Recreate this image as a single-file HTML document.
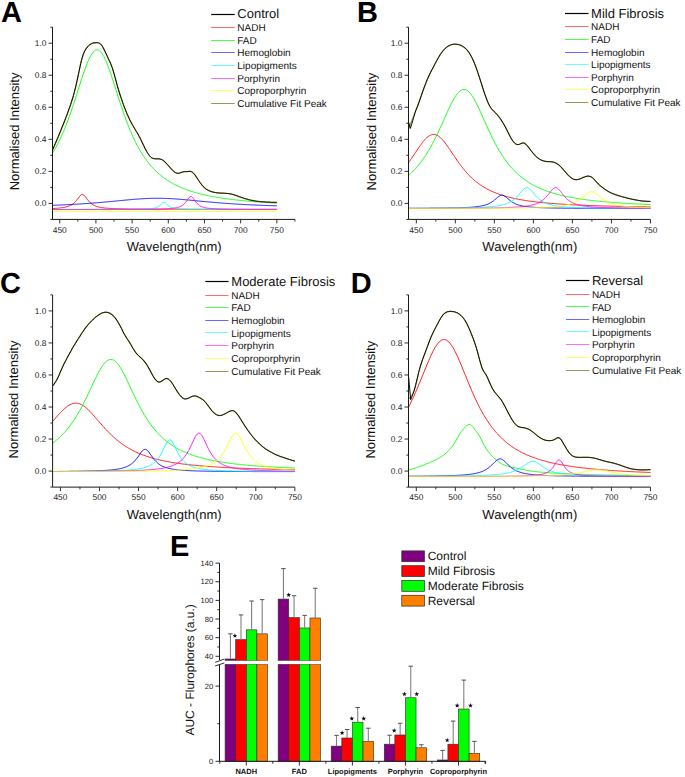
<!DOCTYPE html>
<html><head><meta charset="utf-8"><style>html,body{margin:0;padding:0;background:#fff;}svg{display:block;}</style></head>
<body>
<svg width="685" height="777" viewBox="0 0 685 777" text-rendering="geometricPrecision" font-family='"Liberation Sans", sans-serif'>
<rect width="685" height="777" fill="#fff"/>
<path d="M52.5,208.5 L53.2,208.5 L53.9,208.5 L54.7,208.4 L55.4,208.4 L56.1,208.3 L56.8,208.3 L57.6,208.2 L58.3,208.1 L59.0,208.1 L59.7,208.0 L60.5,207.9 L61.2,207.8 L61.9,207.7 L62.6,207.6 L63.4,207.5 L64.1,207.4 L64.8,207.2 L65.5,207.1 L66.3,206.9 L67.0,206.7 L67.7,206.5 L68.4,206.2 L69.1,206.0 L69.9,205.7 L70.6,205.3 L71.3,205.0 L72.0,204.5 L72.8,204.0 L73.5,203.5 L74.2,202.9 L74.9,202.2 L75.7,201.4 L76.4,200.6 L77.1,199.7 L77.8,198.7 L78.6,197.7 L79.3,196.7 L80.0,195.9 L80.7,195.1 L81.4,194.6 L82.2,194.4 L82.9,194.5 L83.6,194.9 L84.3,195.6 L85.1,196.4 L85.8,197.3 L86.5,198.3 L87.2,199.3 L88.0,200.2 L88.7,201.1 L89.4,201.9 L90.1,202.6 L90.9,203.2 L91.6,203.8 L92.3,204.3 L93.0,204.8 L93.8,205.2 L94.5,205.5 L95.2,205.9 L95.9,206.1 L96.6,206.4 L97.4,206.6 L98.1,206.8 L98.8,207.0 L99.5,207.2 L100.3,207.3 L101.0,207.4 L101.7,207.6 L102.4,207.7 L103.2,207.8 L103.9,207.9 L104.6,208.0 L105.3,208.0 L106.1,208.1 L106.8,208.2 L107.5,208.2 L108.2,208.3 L108.9,208.3 L109.7,208.4 L110.4,208.4 L111.1,208.5 L111.8,208.5 L112.6,208.6 L113.3,208.6 L114.0,208.6 L114.7,208.6 L115.5,208.7 L116.2,208.7 L116.9,208.7 L117.6,208.7 L118.4,208.8 L119.1,208.8 L119.8,208.8 L120.5,208.8 L121.3,208.8 L122.0,208.9 L122.7,208.9 L123.4,208.9 L124.1,208.9 L124.9,208.9 L125.6,208.9 L126.3,209.0 L127.0,209.0 L127.8,209.0 L128.5,209.0 L129.2,209.0 L129.9,209.0 L130.7,209.0 L131.4,209.0 L132.1,209.0 L132.8,209.0 L133.6,209.0 L134.3,209.1 L135.0,209.1 L135.7,209.1 L136.4,209.1 L137.2,209.1 L137.9,209.1 L138.6,209.1 L139.3,209.1 L140.1,209.1 L140.8,209.1 L141.5,209.1 L142.2,209.1 L143.0,209.1 L143.7,209.1 L144.4,209.1 L145.1,209.1 L145.9,209.1 L146.6,209.1 L147.3,209.2 L148.0,209.2 L148.8,209.2 L149.5,209.2 L150.2,209.2 L150.9,209.2 L151.6,209.2 L152.4,209.2 L153.1,209.2 L153.8,209.2 L154.5,209.2 L155.3,209.2 L156.0,209.2 L156.7,209.2 L157.4,209.2 L158.2,209.2 L158.9,209.2 L159.6,209.2 L160.3,209.2 L161.1,209.2 L161.8,209.2 L162.5,209.2 L163.2,209.2 L163.9,209.2 L164.7,209.2 L165.4,209.2 L166.1,209.2 L166.8,209.2 L167.6,209.2 L168.3,209.2 L169.0,209.2 L169.7,209.2 L170.5,209.2 L171.2,209.2 L171.9,209.2 L172.6,209.2 L173.4,209.2 L174.1,209.2 L174.8,209.2 L175.5,209.2 L176.3,209.2 L177.0,209.2 L177.7,209.2 L178.4,209.2 L179.1,209.2 L179.9,209.2 L180.6,209.3 L181.3,209.3 L182.0,209.3 L182.8,209.3 L183.5,209.3 L184.2,209.3 L184.9,209.3 L185.7,209.3 L186.4,209.3 L187.1,209.3 L187.8,209.3 L188.6,209.3 L189.3,209.3 L190.0,209.3 L190.7,209.3 L191.5,209.3 L192.2,209.3 L192.9,209.3 L193.6,209.3 L194.3,209.3 L195.1,209.3 L195.8,209.3 L196.5,209.3 L197.2,209.3 L198.0,209.3 L198.7,209.3 L199.4,209.3 L200.1,209.3 L200.9,209.3 L201.6,209.3 L202.3,209.3 L203.0,209.3 L203.8,209.3 L204.5,209.3 L205.2,209.3 L205.9,209.3 L206.6,209.3 L207.4,209.3 L208.1,209.3 L208.8,209.3 L209.5,209.3 L210.3,209.3 L211.0,209.3 L211.7,209.3 L212.4,209.3 L213.2,209.3 L213.9,209.3 L214.6,209.3 L215.3,209.3 L216.1,209.3 L216.8,209.3 L217.5,209.3 L218.2,209.3 L219.0,209.3 L219.7,209.3 L220.4,209.3 L221.1,209.3 L221.8,209.3 L222.6,209.3 L223.3,209.3 L224.0,209.3 L224.7,209.3 L225.5,209.3 L226.2,209.3 L226.9,209.3 L227.6,209.3 L228.4,209.3 L229.1,209.3 L229.8,209.3 L230.5,209.3 L231.3,209.3 L232.0,209.3 L232.7,209.3 L233.4,209.3 L234.1,209.3 L234.9,209.3 L235.6,209.3 L236.3,209.3 L237.0,209.3 L237.8,209.3 L238.5,209.3 L239.2,209.3 L239.9,209.3 L240.7,209.3 L241.4,209.3 L242.1,209.3 L242.8,209.3 L243.6,209.3 L244.3,209.3 L245.0,209.3 L245.7,209.3 L246.5,209.3 L247.2,209.3 L247.9,209.3 L248.6,209.3 L249.3,209.3 L250.1,209.3 L250.8,209.3 L251.5,209.3 L252.2,209.3 L253.0,209.3 L253.7,209.3 L254.4,209.3 L255.1,209.3 L255.9,209.3 L256.6,209.3 L257.3,209.3 L258.0,209.3 L258.8,209.3 L259.5,209.3 L260.2,209.3 L260.9,209.3 L261.6,209.3 L262.4,209.3 L263.1,209.3 L263.8,209.3 L264.5,209.3 L265.3,209.3 L266.0,209.3 L266.7,209.3 L267.4,209.3 L268.2,209.3 L268.9,209.3 L269.6,209.3 L270.3,209.3 L271.1,209.3 L271.8,209.3 L272.5,209.3 L273.2,209.3 L274.0,209.3 L274.7,209.3 L275.4,209.3 L276.1,209.3 L276.8,209.3" fill="none" stroke="#ff0000" stroke-width="0.9"/>
<path d="M52.5,153.1 L53.2,151.9 L53.9,150.7 L54.7,149.5 L55.4,148.2 L56.1,146.9 L56.8,145.6 L57.6,144.2 L58.3,142.8 L59.0,141.3 L59.7,139.8 L60.5,138.3 L61.2,136.7 L61.9,135.1 L62.6,133.5 L63.4,131.8 L64.1,130.1 L64.8,128.4 L65.5,126.6 L66.3,124.7 L67.0,122.9 L67.7,121.0 L68.4,119.0 L69.1,117.0 L69.9,115.0 L70.6,112.9 L71.3,110.9 L72.0,108.7 L72.8,106.6 L73.5,104.4 L74.2,102.2 L74.9,100.0 L75.7,97.7 L76.4,95.5 L77.1,93.2 L77.8,90.9 L78.6,88.6 L79.3,86.3 L80.0,84.1 L80.7,81.8 L81.4,79.6 L82.2,77.4 L82.9,75.2 L83.6,73.0 L84.3,70.9 L85.1,68.9 L85.8,66.9 L86.5,65.0 L87.2,63.2 L88.0,61.4 L88.7,59.8 L89.4,58.2 L90.1,56.8 L90.9,55.5 L91.6,54.3 L92.3,53.3 L93.0,52.3 L93.8,51.6 L94.5,50.9 L95.2,50.5 L95.9,50.1 L96.6,50.0 L97.4,49.9 L98.1,50.1 L98.8,50.4 L99.5,50.8 L100.3,51.4 L101.0,52.2 L101.7,53.1 L102.4,54.1 L103.2,55.3 L103.9,56.5 L104.6,58.0 L105.3,59.5 L106.1,61.1 L106.8,62.8 L107.5,64.6 L108.2,66.5 L108.9,68.5 L109.7,70.5 L110.4,72.6 L111.1,74.7 L111.8,76.9 L112.6,79.1 L113.3,81.4 L114.0,83.6 L114.7,85.9 L115.5,88.2 L116.2,90.5 L116.9,92.7 L117.6,95.0 L118.4,97.3 L119.1,99.5 L119.8,101.8 L120.5,104.0 L121.3,106.2 L122.0,108.3 L122.7,110.4 L123.4,112.5 L124.1,114.6 L124.9,116.6 L125.6,118.6 L126.3,120.6 L127.0,122.5 L127.8,124.4 L128.5,126.2 L129.2,128.0 L129.9,129.8 L130.7,131.5 L131.4,133.2 L132.1,134.8 L132.8,136.4 L133.6,138.0 L134.3,139.5 L135.0,141.0 L135.7,142.5 L136.4,143.9 L137.2,145.3 L137.9,146.6 L138.6,148.0 L139.3,149.2 L140.1,150.5 L140.8,151.7 L141.5,152.9 L142.2,154.1 L143.0,155.2 L143.7,156.3 L144.4,157.3 L145.1,158.4 L145.9,159.4 L146.6,160.4 L147.3,161.4 L148.0,162.3 L148.8,163.2 L149.5,164.1 L150.2,165.0 L150.9,165.8 L151.6,166.6 L152.4,167.4 L153.1,168.2 L153.8,169.0 L154.5,169.7 L155.3,170.5 L156.0,171.2 L156.7,171.8 L157.4,172.5 L158.2,173.2 L158.9,173.8 L159.6,174.4 L160.3,175.0 L161.1,175.6 L161.8,176.2 L162.5,176.8 L163.2,177.3 L163.9,177.9 L164.7,178.4 L165.4,178.9 L166.1,179.4 L166.8,179.9 L167.6,180.4 L168.3,180.8 L169.0,181.3 L169.7,181.7 L170.5,182.2 L171.2,182.6 L171.9,183.0 L172.6,183.4 L173.4,183.8 L174.1,184.2 L174.8,184.6 L175.5,184.9 L176.3,185.3 L177.0,185.7 L177.7,186.0 L178.4,186.3 L179.1,186.7 L179.9,187.0 L180.6,187.3 L181.3,187.6 L182.0,187.9 L182.8,188.2 L183.5,188.5 L184.2,188.8 L184.9,189.1 L185.7,189.4 L186.4,189.6 L187.1,189.9 L187.8,190.1 L188.6,190.4 L189.3,190.6 L190.0,190.9 L190.7,191.1 L191.5,191.4 L192.2,191.6 L192.9,191.8 L193.6,192.0 L194.3,192.3 L195.1,192.5 L195.8,192.7 L196.5,192.9 L197.2,193.1 L198.0,193.3 L198.7,193.5 L199.4,193.6 L200.1,193.8 L200.9,194.0 L201.6,194.2 L202.3,194.4 L203.0,194.5 L203.8,194.7 L204.5,194.9 L205.2,195.0 L205.9,195.2 L206.6,195.4 L207.4,195.5 L208.1,195.7 L208.8,195.8 L209.5,196.0 L210.3,196.1 L211.0,196.2 L211.7,196.4 L212.4,196.5 L213.2,196.7 L213.9,196.8 L214.6,196.9 L215.3,197.0 L216.1,197.2 L216.8,197.3 L217.5,197.4 L218.2,197.5 L219.0,197.7 L219.7,197.8 L220.4,197.9 L221.1,198.0 L221.8,198.1 L222.6,198.2 L223.3,198.3 L224.0,198.4 L224.7,198.5 L225.5,198.6 L226.2,198.7 L226.9,198.8 L227.6,198.9 L228.4,199.0 L229.1,199.1 L229.8,199.2 L230.5,199.3 L231.3,199.4 L232.0,199.5 L232.7,199.6 L233.4,199.7 L234.1,199.7 L234.9,199.8 L235.6,199.9 L236.3,200.0 L237.0,200.1 L237.8,200.2 L238.5,200.2 L239.2,200.3 L239.9,200.4 L240.7,200.5 L241.4,200.5 L242.1,200.6 L242.8,200.7 L243.6,200.8 L244.3,200.8 L245.0,200.9 L245.7,201.0 L246.5,201.0 L247.2,201.1 L247.9,201.2 L248.6,201.2 L249.3,201.3 L250.1,201.3 L250.8,201.4 L251.5,201.5 L252.2,201.5 L253.0,201.6 L253.7,201.6 L254.4,201.7 L255.1,201.8 L255.9,201.8 L256.6,201.9 L257.3,201.9 L258.0,202.0 L258.8,202.0 L259.5,202.1 L260.2,202.1 L260.9,202.2 L261.6,202.2 L262.4,202.3 L263.1,202.3 L263.8,202.4 L264.5,202.4 L265.3,202.5 L266.0,202.5 L266.7,202.6 L267.4,202.6 L268.2,202.7 L268.9,202.7 L269.6,202.8 L270.3,202.8 L271.1,202.8 L271.8,202.9 L272.5,202.9 L273.2,203.0 L274.0,203.0 L274.7,203.1 L275.4,203.1 L276.1,203.1 L276.8,203.2" fill="none" stroke="#00ff00" stroke-width="0.9"/>
<path d="M52.5,205.3 L53.2,205.3 L53.9,205.3 L54.7,205.2 L55.4,205.2 L56.1,205.2 L56.8,205.2 L57.6,205.1 L58.3,205.1 L59.0,205.1 L59.7,205.0 L60.5,205.0 L61.2,205.0 L61.9,204.9 L62.6,204.9 L63.4,204.9 L64.1,204.8 L64.8,204.8 L65.5,204.8 L66.3,204.7 L67.0,204.7 L67.7,204.7 L68.4,204.6 L69.1,204.6 L69.9,204.5 L70.6,204.5 L71.3,204.5 L72.0,204.4 L72.8,204.4 L73.5,204.3 L74.2,204.3 L74.9,204.3 L75.7,204.2 L76.4,204.2 L77.1,204.1 L77.8,204.1 L78.6,204.0 L79.3,204.0 L80.0,204.0 L80.7,203.9 L81.4,203.9 L82.2,203.8 L82.9,203.8 L83.6,203.7 L84.3,203.7 L85.1,203.6 L85.8,203.6 L86.5,203.5 L87.2,203.5 L88.0,203.4 L88.7,203.4 L89.4,203.3 L90.1,203.3 L90.9,203.2 L91.6,203.2 L92.3,203.1 L93.0,203.0 L93.8,203.0 L94.5,202.9 L95.2,202.9 L95.9,202.8 L96.6,202.8 L97.4,202.7 L98.1,202.6 L98.8,202.6 L99.5,202.5 L100.3,202.5 L101.0,202.4 L101.7,202.3 L102.4,202.3 L103.2,202.2 L103.9,202.1 L104.6,202.1 L105.3,202.0 L106.1,202.0 L106.8,201.9 L107.5,201.8 L108.2,201.8 L108.9,201.7 L109.7,201.6 L110.4,201.6 L111.1,201.5 L111.8,201.4 L112.6,201.4 L113.3,201.3 L114.0,201.2 L114.7,201.1 L115.5,201.1 L116.2,201.0 L116.9,200.9 L117.6,200.9 L118.4,200.8 L119.1,200.7 L119.8,200.7 L120.5,200.6 L121.3,200.5 L122.0,200.5 L122.7,200.4 L123.4,200.3 L124.1,200.2 L124.9,200.2 L125.6,200.1 L126.3,200.0 L127.0,200.0 L127.8,199.9 L128.5,199.8 L129.2,199.8 L129.9,199.7 L130.7,199.6 L131.4,199.6 L132.1,199.5 L132.8,199.5 L133.6,199.4 L134.3,199.3 L135.0,199.3 L135.7,199.2 L136.4,199.2 L137.2,199.1 L137.9,199.1 L138.6,199.0 L139.3,198.9 L140.1,198.9 L140.8,198.9 L141.5,198.8 L142.2,198.8 L143.0,198.7 L143.7,198.7 L144.4,198.6 L145.1,198.6 L145.9,198.6 L146.6,198.5 L147.3,198.5 L148.0,198.5 L148.8,198.4 L149.5,198.4 L150.2,198.4 L150.9,198.4 L151.6,198.3 L152.4,198.3 L153.1,198.3 L153.8,198.3 L154.5,198.3 L155.3,198.3 L156.0,198.3 L156.7,198.3 L157.4,198.3 L158.2,198.3 L158.9,198.3 L159.6,198.3 L160.3,198.3 L161.1,198.3 L161.8,198.3 L162.5,198.3 L163.2,198.3 L163.9,198.4 L164.7,198.4 L165.4,198.4 L166.1,198.4 L166.8,198.5 L167.6,198.5 L168.3,198.5 L169.0,198.6 L169.7,198.6 L170.5,198.6 L171.2,198.7 L171.9,198.7 L172.6,198.8 L173.4,198.8 L174.1,198.9 L174.8,198.9 L175.5,198.9 L176.3,199.0 L177.0,199.1 L177.7,199.1 L178.4,199.2 L179.1,199.2 L179.9,199.3 L180.6,199.3 L181.3,199.4 L182.0,199.5 L182.8,199.5 L183.5,199.6 L184.2,199.6 L184.9,199.7 L185.7,199.8 L186.4,199.8 L187.1,199.9 L187.8,200.0 L188.6,200.0 L189.3,200.1 L190.0,200.2 L190.7,200.2 L191.5,200.3 L192.2,200.4 L192.9,200.5 L193.6,200.5 L194.3,200.6 L195.1,200.7 L195.8,200.7 L196.5,200.8 L197.2,200.9 L198.0,200.9 L198.7,201.0 L199.4,201.1 L200.1,201.1 L200.9,201.2 L201.6,201.3 L202.3,201.4 L203.0,201.4 L203.8,201.5 L204.5,201.6 L205.2,201.6 L205.9,201.7 L206.6,201.8 L207.4,201.8 L208.1,201.9 L208.8,202.0 L209.5,202.0 L210.3,202.1 L211.0,202.1 L211.7,202.2 L212.4,202.3 L213.2,202.3 L213.9,202.4 L214.6,202.5 L215.3,202.5 L216.1,202.6 L216.8,202.6 L217.5,202.7 L218.2,202.8 L219.0,202.8 L219.7,202.9 L220.4,202.9 L221.1,203.0 L221.8,203.0 L222.6,203.1 L223.3,203.2 L224.0,203.2 L224.7,203.3 L225.5,203.3 L226.2,203.4 L226.9,203.4 L227.6,203.5 L228.4,203.5 L229.1,203.6 L229.8,203.6 L230.5,203.7 L231.3,203.7 L232.0,203.8 L232.7,203.8 L233.4,203.9 L234.1,203.9 L234.9,204.0 L235.6,204.0 L236.3,204.0 L237.0,204.1 L237.8,204.1 L238.5,204.2 L239.2,204.2 L239.9,204.3 L240.7,204.3 L241.4,204.3 L242.1,204.4 L242.8,204.4 L243.6,204.5 L244.3,204.5 L245.0,204.5 L245.7,204.6 L246.5,204.6 L247.2,204.7 L247.9,204.7 L248.6,204.7 L249.3,204.8 L250.1,204.8 L250.8,204.8 L251.5,204.9 L252.2,204.9 L253.0,204.9 L253.7,205.0 L254.4,205.0 L255.1,205.0 L255.9,205.1 L256.6,205.1 L257.3,205.1 L258.0,205.2 L258.8,205.2 L259.5,205.2 L260.2,205.2 L260.9,205.3 L261.6,205.3 L262.4,205.3 L263.1,205.4 L263.8,205.4 L264.5,205.4 L265.3,205.4 L266.0,205.5 L266.7,205.5 L267.4,205.5 L268.2,205.5 L268.9,205.6 L269.6,205.6 L270.3,205.6 L271.1,205.6 L271.8,205.7 L272.5,205.7 L273.2,205.7 L274.0,205.7 L274.7,205.8 L275.4,205.8 L276.1,205.8 L276.8,205.8" fill="none" stroke="#0000ff" stroke-width="0.9"/>
<path d="M52.5,209.5 L53.2,209.5 L53.9,209.5 L54.7,209.5 L55.4,209.5 L56.1,209.5 L56.8,209.5 L57.6,209.5 L58.3,209.5 L59.0,209.5 L59.7,209.5 L60.5,209.5 L61.2,209.5 L61.9,209.5 L62.6,209.5 L63.4,209.5 L64.1,209.5 L64.8,209.5 L65.5,209.5 L66.3,209.5 L67.0,209.5 L67.7,209.5 L68.4,209.5 L69.1,209.5 L69.9,209.5 L70.6,209.5 L71.3,209.5 L72.0,209.5 L72.8,209.5 L73.5,209.5 L74.2,209.5 L74.9,209.5 L75.7,209.5 L76.4,209.5 L77.1,209.5 L77.8,209.5 L78.6,209.5 L79.3,209.5 L80.0,209.5 L80.7,209.5 L81.4,209.5 L82.2,209.5 L82.9,209.5 L83.6,209.5 L84.3,209.5 L85.1,209.5 L85.8,209.5 L86.5,209.5 L87.2,209.5 L88.0,209.5 L88.7,209.5 L89.4,209.5 L90.1,209.5 L90.9,209.5 L91.6,209.5 L92.3,209.5 L93.0,209.5 L93.8,209.5 L94.5,209.5 L95.2,209.5 L95.9,209.5 L96.6,209.5 L97.4,209.5 L98.1,209.5 L98.8,209.5 L99.5,209.5 L100.3,209.4 L101.0,209.4 L101.7,209.4 L102.4,209.4 L103.2,209.4 L103.9,209.4 L104.6,209.4 L105.3,209.4 L106.1,209.4 L106.8,209.4 L107.5,209.4 L108.2,209.4 L108.9,209.4 L109.7,209.4 L110.4,209.4 L111.1,209.4 L111.8,209.4 L112.6,209.4 L113.3,209.4 L114.0,209.4 L114.7,209.4 L115.5,209.4 L116.2,209.4 L116.9,209.4 L117.6,209.4 L118.4,209.4 L119.1,209.4 L119.8,209.4 L120.5,209.4 L121.3,209.4 L122.0,209.4 L122.7,209.4 L123.4,209.4 L124.1,209.4 L124.9,209.4 L125.6,209.4 L126.3,209.4 L127.0,209.4 L127.8,209.4 L128.5,209.4 L129.2,209.4 L129.9,209.4 L130.7,209.3 L131.4,209.3 L132.1,209.3 L132.8,209.3 L133.6,209.3 L134.3,209.3 L135.0,209.3 L135.7,209.3 L136.4,209.3 L137.2,209.3 L137.9,209.3 L138.6,209.3 L139.3,209.2 L140.1,209.2 L140.8,209.2 L141.5,209.2 L142.2,209.2 L143.0,209.2 L143.7,209.1 L144.4,209.1 L145.1,209.1 L145.9,209.0 L146.6,209.0 L147.3,209.0 L148.0,208.9 L148.8,208.9 L149.5,208.8 L150.2,208.7 L150.9,208.7 L151.6,208.6 L152.4,208.5 L153.1,208.4 L153.8,208.2 L154.5,208.1 L155.3,207.9 L156.0,207.7 L156.7,207.4 L157.4,207.1 L158.2,206.7 L158.9,206.2 L159.6,205.7 L160.3,205.1 L161.1,204.4 L161.8,203.7 L162.5,203.0 L163.2,202.6 L163.9,202.4 L164.7,202.6 L165.4,203.0 L166.1,203.7 L166.8,204.4 L167.6,205.1 L168.3,205.7 L169.0,206.2 L169.7,206.7 L170.5,207.1 L171.2,207.4 L171.9,207.7 L172.6,207.9 L173.4,208.1 L174.1,208.2 L174.8,208.4 L175.5,208.5 L176.3,208.6 L177.0,208.7 L177.7,208.7 L178.4,208.8 L179.1,208.9 L179.9,208.9 L180.6,209.0 L181.3,209.0 L182.0,209.0 L182.8,209.1 L183.5,209.1 L184.2,209.1 L184.9,209.2 L185.7,209.2 L186.4,209.2 L187.1,209.2 L187.8,209.2 L188.6,209.2 L189.3,209.3 L190.0,209.3 L190.7,209.3 L191.5,209.3 L192.2,209.3 L192.9,209.3 L193.6,209.3 L194.3,209.3 L195.1,209.3 L195.8,209.3 L196.5,209.3 L197.2,209.3 L198.0,209.4 L198.7,209.4 L199.4,209.4 L200.1,209.4 L200.9,209.4 L201.6,209.4 L202.3,209.4 L203.0,209.4 L203.8,209.4 L204.5,209.4 L205.2,209.4 L205.9,209.4 L206.6,209.4 L207.4,209.4 L208.1,209.4 L208.8,209.4 L209.5,209.4 L210.3,209.4 L211.0,209.4 L211.7,209.4 L212.4,209.4 L213.2,209.4 L213.9,209.4 L214.6,209.4 L215.3,209.4 L216.1,209.4 L216.8,209.4 L217.5,209.4 L218.2,209.4 L219.0,209.4 L219.7,209.4 L220.4,209.4 L221.1,209.4 L221.8,209.4 L222.6,209.4 L223.3,209.4 L224.0,209.4 L224.7,209.4 L225.5,209.4 L226.2,209.4 L226.9,209.4 L227.6,209.4 L228.4,209.5 L229.1,209.5 L229.8,209.5 L230.5,209.5 L231.3,209.5 L232.0,209.5 L232.7,209.5 L233.4,209.5 L234.1,209.5 L234.9,209.5 L235.6,209.5 L236.3,209.5 L237.0,209.5 L237.8,209.5 L238.5,209.5 L239.2,209.5 L239.9,209.5 L240.7,209.5 L241.4,209.5 L242.1,209.5 L242.8,209.5 L243.6,209.5 L244.3,209.5 L245.0,209.5 L245.7,209.5 L246.5,209.5 L247.2,209.5 L247.9,209.5 L248.6,209.5 L249.3,209.5 L250.1,209.5 L250.8,209.5 L251.5,209.5 L252.2,209.5 L253.0,209.5 L253.7,209.5 L254.4,209.5 L255.1,209.5 L255.9,209.5 L256.6,209.5 L257.3,209.5 L258.0,209.5 L258.8,209.5 L259.5,209.5 L260.2,209.5 L260.9,209.5 L261.6,209.5 L262.4,209.5 L263.1,209.5 L263.8,209.5 L264.5,209.5 L265.3,209.5 L266.0,209.5 L266.7,209.5 L267.4,209.5 L268.2,209.5 L268.9,209.5 L269.6,209.5 L270.3,209.5 L271.1,209.5 L271.8,209.5 L272.5,209.5 L273.2,209.5 L274.0,209.5 L274.7,209.5 L275.4,209.5 L276.1,209.5 L276.8,209.5" fill="none" stroke="#00ffff" stroke-width="0.9"/>
<path d="M52.5,209.5 L53.2,209.5 L53.9,209.5 L54.7,209.5 L55.4,209.5 L56.1,209.5 L56.8,209.5 L57.6,209.5 L58.3,209.5 L59.0,209.5 L59.7,209.5 L60.5,209.5 L61.2,209.5 L61.9,209.5 L62.6,209.5 L63.4,209.5 L64.1,209.5 L64.8,209.5 L65.5,209.5 L66.3,209.5 L67.0,209.5 L67.7,209.5 L68.4,209.5 L69.1,209.5 L69.9,209.5 L70.6,209.5 L71.3,209.5 L72.0,209.5 L72.8,209.5 L73.5,209.5 L74.2,209.5 L74.9,209.5 L75.7,209.5 L76.4,209.5 L77.1,209.5 L77.8,209.5 L78.6,209.5 L79.3,209.5 L80.0,209.5 L80.7,209.5 L81.4,209.5 L82.2,209.5 L82.9,209.5 L83.6,209.5 L84.3,209.5 L85.1,209.4 L85.8,209.4 L86.5,209.4 L87.2,209.4 L88.0,209.4 L88.7,209.4 L89.4,209.4 L90.1,209.4 L90.9,209.4 L91.6,209.4 L92.3,209.4 L93.0,209.4 L93.8,209.4 L94.5,209.4 L95.2,209.4 L95.9,209.4 L96.6,209.4 L97.4,209.4 L98.1,209.4 L98.8,209.4 L99.5,209.4 L100.3,209.4 L101.0,209.4 L101.7,209.4 L102.4,209.4 L103.2,209.4 L103.9,209.4 L104.6,209.4 L105.3,209.4 L106.1,209.4 L106.8,209.4 L107.5,209.4 L108.2,209.4 L108.9,209.4 L109.7,209.4 L110.4,209.4 L111.1,209.4 L111.8,209.4 L112.6,209.4 L113.3,209.4 L114.0,209.4 L114.7,209.4 L115.5,209.4 L116.2,209.4 L116.9,209.4 L117.6,209.4 L118.4,209.4 L119.1,209.4 L119.8,209.4 L120.5,209.4 L121.3,209.4 L122.0,209.4 L122.7,209.4 L123.4,209.4 L124.1,209.4 L124.9,209.4 L125.6,209.4 L126.3,209.4 L127.0,209.4 L127.8,209.4 L128.5,209.4 L129.2,209.4 L129.9,209.4 L130.7,209.4 L131.4,209.4 L132.1,209.4 L132.8,209.4 L133.6,209.4 L134.3,209.4 L135.0,209.4 L135.7,209.3 L136.4,209.3 L137.2,209.3 L137.9,209.3 L138.6,209.3 L139.3,209.3 L140.1,209.3 L140.8,209.3 L141.5,209.3 L142.2,209.3 L143.0,209.3 L143.7,209.3 L144.4,209.3 L145.1,209.3 L145.9,209.3 L146.6,209.3 L147.3,209.3 L148.0,209.3 L148.8,209.3 L149.5,209.2 L150.2,209.2 L150.9,209.2 L151.6,209.2 L152.4,209.2 L153.1,209.2 L153.8,209.2 L154.5,209.2 L155.3,209.2 L156.0,209.1 L156.7,209.1 L157.4,209.1 L158.2,209.1 L158.9,209.1 L159.6,209.1 L160.3,209.0 L161.1,209.0 L161.8,209.0 L162.5,209.0 L163.2,209.0 L163.9,208.9 L164.7,208.9 L165.4,208.9 L166.1,208.8 L166.8,208.8 L167.6,208.8 L168.3,208.7 L169.0,208.7 L169.7,208.6 L170.5,208.5 L171.2,208.5 L171.9,208.4 L172.6,208.3 L173.4,208.2 L174.1,208.1 L174.8,208.0 L175.5,207.9 L176.3,207.8 L177.0,207.6 L177.7,207.4 L178.4,207.2 L179.1,207.0 L179.9,206.7 L180.6,206.4 L181.3,206.1 L182.0,205.6 L182.8,205.2 L183.5,204.6 L184.2,204.0 L184.9,203.2 L185.7,202.4 L186.4,201.4 L187.1,200.4 L187.8,199.3 L188.6,198.2 L189.3,197.3 L190.0,196.7 L190.7,196.4 L191.5,196.5 L192.2,197.0 L192.9,197.8 L193.6,198.8 L194.3,199.9 L195.1,201.0 L195.8,202.0 L196.5,202.9 L197.2,203.7 L198.0,204.4 L198.7,204.9 L199.4,205.5 L200.1,205.9 L200.9,206.3 L201.6,206.6 L202.3,206.9 L203.0,207.1 L203.8,207.3 L204.5,207.5 L205.2,207.7 L205.9,207.8 L206.6,208.0 L207.4,208.1 L208.1,208.2 L208.8,208.3 L209.5,208.4 L210.3,208.4 L211.0,208.5 L211.7,208.6 L212.4,208.6 L213.2,208.7 L213.9,208.7 L214.6,208.8 L215.3,208.8 L216.1,208.9 L216.8,208.9 L217.5,208.9 L218.2,208.9 L219.0,209.0 L219.7,209.0 L220.4,209.0 L221.1,209.0 L221.8,209.1 L222.6,209.1 L223.3,209.1 L224.0,209.1 L224.7,209.1 L225.5,209.1 L226.2,209.2 L226.9,209.2 L227.6,209.2 L228.4,209.2 L229.1,209.2 L229.8,209.2 L230.5,209.2 L231.3,209.2 L232.0,209.2 L232.7,209.2 L233.4,209.3 L234.1,209.3 L234.9,209.3 L235.6,209.3 L236.3,209.3 L237.0,209.3 L237.8,209.3 L238.5,209.3 L239.2,209.3 L239.9,209.3 L240.7,209.3 L241.4,209.3 L242.1,209.3 L242.8,209.3 L243.6,209.3 L244.3,209.3 L245.0,209.3 L245.7,209.3 L246.5,209.4 L247.2,209.4 L247.9,209.4 L248.6,209.4 L249.3,209.4 L250.1,209.4 L250.8,209.4 L251.5,209.4 L252.2,209.4 L253.0,209.4 L253.7,209.4 L254.4,209.4 L255.1,209.4 L255.9,209.4 L256.6,209.4 L257.3,209.4 L258.0,209.4 L258.8,209.4 L259.5,209.4 L260.2,209.4 L260.9,209.4 L261.6,209.4 L262.4,209.4 L263.1,209.4 L263.8,209.4 L264.5,209.4 L265.3,209.4 L266.0,209.4 L266.7,209.4 L267.4,209.4 L268.2,209.4 L268.9,209.4 L269.6,209.4 L270.3,209.4 L271.1,209.4 L271.8,209.4 L272.5,209.4 L273.2,209.4 L274.0,209.4 L274.7,209.4 L275.4,209.4 L276.1,209.4 L276.8,209.4" fill="none" stroke="#ff00ff" stroke-width="0.9"/>
<path d="M52.5,211.4 L53.2,211.4 L53.9,211.4 L54.7,211.4 L55.4,211.4 L56.1,211.4 L56.8,211.4 L57.6,211.4 L58.3,211.4 L59.0,211.4 L59.7,211.4 L60.5,211.4 L61.2,211.4 L61.9,211.4 L62.6,211.4 L63.4,211.4 L64.1,211.4 L64.8,211.4 L65.5,211.4 L66.3,211.4 L67.0,211.4 L67.7,211.4 L68.4,211.4 L69.1,211.4 L69.9,211.4 L70.6,211.4 L71.3,211.4 L72.0,211.4 L72.8,211.4 L73.5,211.4 L74.2,211.4 L74.9,211.4 L75.7,211.4 L76.4,211.4 L77.1,211.4 L77.8,211.4 L78.6,211.4 L79.3,211.4 L80.0,211.4 L80.7,211.4 L81.4,211.4 L82.2,211.4 L82.9,211.4 L83.6,211.4 L84.3,211.4 L85.1,211.4 L85.8,211.4 L86.5,211.4 L87.2,211.4 L88.0,211.4 L88.7,211.4 L89.4,211.4 L90.1,211.4 L90.9,211.4 L91.6,211.4 L92.3,211.4 L93.0,211.4 L93.8,211.4 L94.5,211.4 L95.2,211.4 L95.9,211.4 L96.6,211.4 L97.4,211.4 L98.1,211.4 L98.8,211.4 L99.5,211.4 L100.3,211.4 L101.0,211.4 L101.7,211.4 L102.4,211.4 L103.2,211.4 L103.9,211.4 L104.6,211.4 L105.3,211.4 L106.1,211.4 L106.8,211.4 L107.5,211.4 L108.2,211.4 L108.9,211.4 L109.7,211.4 L110.4,211.4 L111.1,211.4 L111.8,211.4 L112.6,211.4 L113.3,211.4 L114.0,211.4 L114.7,211.4 L115.5,211.4 L116.2,211.4 L116.9,211.4 L117.6,211.4 L118.4,211.4 L119.1,211.4 L119.8,211.4 L120.5,211.4 L121.3,211.4 L122.0,211.4 L122.7,211.4 L123.4,211.4 L124.1,211.4 L124.9,211.4 L125.6,211.4 L126.3,211.4 L127.0,211.4 L127.8,211.4 L128.5,211.4 L129.2,211.4 L129.9,211.4 L130.7,211.4 L131.4,211.4 L132.1,211.4 L132.8,211.4 L133.6,211.4 L134.3,211.4 L135.0,211.4 L135.7,211.4 L136.4,211.4 L137.2,211.4 L137.9,211.4 L138.6,211.4 L139.3,211.4 L140.1,211.4 L140.8,211.4 L141.5,211.4 L142.2,211.4 L143.0,211.4 L143.7,211.4 L144.4,211.4 L145.1,211.4 L145.9,211.4 L146.6,211.4 L147.3,211.4 L148.0,211.4 L148.8,211.4 L149.5,211.4 L150.2,211.4 L150.9,211.4 L151.6,211.4 L152.4,211.4 L153.1,211.4 L153.8,211.4 L154.5,211.4 L155.3,211.4 L156.0,211.4 L156.7,211.4 L157.4,211.4 L158.2,211.4 L158.9,211.4 L159.6,211.4 L160.3,211.4 L161.1,211.4 L161.8,211.4 L162.5,211.4 L163.2,211.4 L163.9,211.4 L164.7,211.4 L165.4,211.4 L166.1,211.4 L166.8,211.4 L167.6,211.4 L168.3,211.4 L169.0,211.4 L169.7,211.4 L170.5,211.4 L171.2,211.4 L171.9,211.4 L172.6,211.4 L173.4,211.4 L174.1,211.4 L174.8,211.4 L175.5,211.4 L176.3,211.4 L177.0,211.4 L177.7,211.4 L178.4,211.4 L179.1,211.4 L179.9,211.4 L180.6,211.4 L181.3,211.4 L182.0,211.4 L182.8,211.4 L183.5,211.4 L184.2,211.4 L184.9,211.4 L185.7,211.4 L186.4,211.4 L187.1,211.4 L187.8,211.4 L188.6,211.4 L189.3,211.4 L190.0,211.4 L190.7,211.4 L191.5,211.4 L192.2,211.4 L192.9,211.4 L193.6,211.4 L194.3,211.4 L195.1,211.4 L195.8,211.4 L196.5,211.4 L197.2,211.4 L198.0,211.4 L198.7,211.4 L199.4,211.4 L200.1,211.4 L200.9,211.4 L201.6,211.4 L202.3,211.4 L203.0,211.4 L203.8,211.4 L204.5,211.4 L205.2,211.4 L205.9,211.4 L206.6,211.4 L207.4,211.4 L208.1,211.4 L208.8,211.4 L209.5,211.4 L210.3,211.4 L211.0,211.4 L211.7,211.4 L212.4,211.4 L213.2,211.4 L213.9,211.4 L214.6,211.4 L215.3,211.4 L216.1,211.4 L216.8,211.4 L217.5,211.4 L218.2,211.4 L219.0,211.4 L219.7,211.4 L220.4,211.4 L221.1,211.4 L221.8,211.4 L222.6,211.4 L223.3,211.4 L224.0,211.4 L224.7,211.4 L225.5,211.4 L226.2,211.4 L226.9,211.4 L227.6,211.4 L228.4,211.4 L229.1,211.4 L229.8,211.4 L230.5,211.4 L231.3,211.4 L232.0,211.4 L232.7,211.4 L233.4,211.4 L234.1,211.4 L234.9,211.4 L235.6,211.4 L236.3,211.4 L237.0,211.4 L237.8,211.4 L238.5,211.4 L239.2,211.4 L239.9,211.4 L240.7,211.4 L241.4,211.4 L242.1,211.4 L242.8,211.4 L243.6,211.4 L244.3,211.4 L245.0,211.4 L245.7,211.4 L246.5,211.4 L247.2,211.4 L247.9,211.4 L248.6,211.4 L249.3,211.4 L250.1,211.4 L250.8,211.4 L251.5,211.4 L252.2,211.4 L253.0,211.4 L253.7,211.4 L254.4,211.4 L255.1,211.4 L255.9,211.4 L256.6,211.4 L257.3,211.4 L258.0,211.4 L258.8,211.4 L259.5,211.4 L260.2,211.4 L260.9,211.4 L261.6,211.4 L262.4,211.4 L263.1,211.4 L263.8,211.4 L264.5,211.4 L265.3,211.4 L266.0,211.4 L266.7,211.4 L267.4,211.4 L268.2,211.4 L268.9,211.4 L269.6,211.4 L270.3,211.4 L271.1,211.4 L271.8,211.4 L272.5,211.4 L273.2,211.4 L274.0,211.4 L274.7,211.4 L275.4,211.4 L276.1,211.4 L276.8,211.4" fill="none" stroke="#ffff00" stroke-width="0.9"/>
<path d="M52.5,150.2 L53.2,148.5 L53.9,146.8 L54.7,145.1 L55.4,143.4 L56.1,141.7 L56.8,139.9 L57.6,138.2 L58.3,136.5 L59.0,134.7 L59.7,133.0 L60.5,131.2 L61.2,129.4 L61.9,127.7 L62.6,125.9 L63.4,124.0 L64.1,122.2 L64.8,120.4 L65.5,118.5 L66.3,116.6 L67.0,114.7 L67.7,112.8 L68.4,110.8 L69.1,108.8 L69.9,106.7 L70.6,104.6 L71.3,102.4 L72.0,100.2 L72.8,97.8 L73.5,95.3 L74.2,92.7 L74.9,89.9 L75.7,86.9 L76.4,83.7 L77.1,80.4 L77.8,77.1 L78.6,73.6 L79.3,70.2 L80.0,66.9 L80.7,63.6 L81.4,60.6 L82.2,57.9 L82.9,55.5 L83.6,53.5 L84.3,51.8 L85.1,50.4 L85.8,49.1 L86.5,48.1 L87.2,47.2 L88.0,46.4 L88.7,45.7 L89.4,45.0 L90.1,44.5 L90.9,44.0 L91.6,43.6 L92.3,43.3 L93.0,43.1 L93.8,42.9 L94.5,42.8 L95.2,42.8 L95.9,42.7 L96.6,42.7 L97.4,42.7 L98.1,42.8 L98.8,43.0 L99.5,43.3 L100.3,43.8 L101.0,44.5 L101.7,45.4 L102.4,46.4 L103.2,47.7 L103.9,49.1 L104.6,50.5 L105.3,52.1 L106.1,53.7 L106.8,55.2 L107.5,56.8 L108.2,58.3 L108.9,59.8 L109.7,61.4 L110.4,63.1 L111.1,64.8 L111.8,66.7 L112.6,68.8 L113.3,71.1 L114.0,73.6 L114.7,76.2 L115.5,78.9 L116.2,81.6 L116.9,84.2 L117.6,86.8 L118.4,89.3 L119.1,91.7 L119.8,94.0 L120.5,96.2 L121.3,98.4 L122.0,100.5 L122.7,102.6 L123.4,104.6 L124.1,106.6 L124.9,108.5 L125.6,110.3 L126.3,112.1 L127.0,113.8 L127.8,115.5 L128.5,117.1 L129.2,118.6 L129.9,120.1 L130.7,121.5 L131.4,122.9 L132.1,124.2 L132.8,125.5 L133.6,126.7 L134.3,128.0 L135.0,129.2 L135.7,130.4 L136.4,131.6 L137.2,132.8 L137.9,134.0 L138.6,135.3 L139.3,136.7 L140.1,138.1 L140.8,139.5 L141.5,141.0 L142.2,142.6 L143.0,144.1 L143.7,145.6 L144.4,147.1 L145.1,148.6 L145.9,150.0 L146.6,151.3 L147.3,152.5 L148.0,153.6 L148.8,154.7 L149.5,155.6 L150.2,156.4 L150.9,157.1 L151.6,157.7 L152.4,158.1 L153.1,158.4 L153.8,158.6 L154.5,158.7 L155.3,158.8 L156.0,158.8 L156.7,158.8 L157.4,158.8 L158.2,158.8 L158.9,158.8 L159.6,158.9 L160.3,159.1 L161.1,159.3 L161.8,159.6 L162.5,160.0 L163.2,160.5 L163.9,161.0 L164.7,161.7 L165.4,162.3 L166.1,163.1 L166.8,163.9 L167.6,164.7 L168.3,165.5 L169.0,166.3 L169.7,167.2 L170.5,168.0 L171.2,168.8 L171.9,169.6 L172.6,170.3 L173.4,171.0 L174.1,171.6 L174.8,172.2 L175.5,172.6 L176.3,173.0 L177.0,173.2 L177.7,173.3 L178.4,173.3 L179.1,173.2 L179.9,173.0 L180.6,172.7 L181.3,172.5 L182.0,172.2 L182.8,172.0 L183.5,171.8 L184.2,171.7 L184.9,171.6 L185.7,171.6 L186.4,171.6 L187.1,171.5 L187.8,171.5 L188.6,171.4 L189.3,171.4 L190.0,171.4 L190.7,171.4 L191.5,171.7 L192.2,172.1 L192.9,172.6 L193.6,173.4 L194.3,174.2 L195.1,175.1 L195.8,176.2 L196.5,177.2 L197.2,178.3 L198.0,179.4 L198.7,180.5 L199.4,181.5 L200.1,182.6 L200.9,183.6 L201.6,184.6 L202.3,185.5 L203.0,186.3 L203.8,187.0 L204.5,187.7 L205.2,188.3 L205.9,188.9 L206.6,189.4 L207.4,189.8 L208.1,190.2 L208.8,190.6 L209.5,190.9 L210.3,191.2 L211.0,191.5 L211.7,191.7 L212.4,191.9 L213.2,192.1 L213.9,192.3 L214.6,192.4 L215.3,192.5 L216.1,192.7 L216.8,192.8 L217.5,192.8 L218.2,192.9 L219.0,193.0 L219.7,193.0 L220.4,193.1 L221.1,193.1 L221.8,193.1 L222.6,193.2 L223.3,193.2 L224.0,193.2 L224.7,193.3 L225.5,193.3 L226.2,193.4 L226.9,193.4 L227.6,193.5 L228.4,193.6 L229.1,193.7 L229.8,193.8 L230.5,193.9 L231.3,194.1 L232.0,194.2 L232.7,194.4 L233.4,194.6 L234.1,194.8 L234.9,195.1 L235.6,195.3 L236.3,195.6 L237.0,195.8 L237.8,196.1 L238.5,196.3 L239.2,196.6 L239.9,196.9 L240.7,197.1 L241.4,197.4 L242.1,197.6 L242.8,197.9 L243.6,198.1 L244.3,198.4 L245.0,198.6 L245.7,198.8 L246.5,199.0 L247.2,199.2 L247.9,199.4 L248.6,199.6 L249.3,199.8 L250.1,200.0 L250.8,200.1 L251.5,200.3 L252.2,200.4 L253.0,200.6 L253.7,200.7 L254.4,200.8 L255.1,201.0 L255.9,201.1 L256.6,201.2 L257.3,201.3 L258.0,201.4 L258.8,201.4 L259.5,201.5 L260.2,201.6 L260.9,201.7 L261.6,201.7 L262.4,201.8 L263.1,201.8 L263.8,201.9 L264.5,201.9 L265.3,202.0 L266.0,202.0 L266.7,202.1 L267.4,202.1 L268.2,202.1 L268.9,202.2 L269.6,202.2 L270.3,202.2 L271.1,202.3 L271.8,202.3 L272.5,202.3 L273.2,202.3 L274.0,202.4 L274.7,202.4 L275.4,202.4 L276.1,202.4 L276.8,202.4" fill="none" stroke="#9a9a40" stroke-width="1.25"/>
<path d="M52.5,150.2 L53.2,148.5 L53.9,146.8 L54.7,145.1 L55.4,143.4 L56.1,141.7 L56.8,139.9 L57.6,138.2 L58.3,136.5 L59.0,134.7 L59.7,133.0 L60.5,131.2 L61.2,129.4 L61.9,127.7 L62.6,125.9 L63.4,124.0 L64.1,122.2 L64.8,120.4 L65.5,118.5 L66.3,116.6 L67.0,114.7 L67.7,112.8 L68.4,110.8 L69.1,108.8 L69.9,106.7 L70.6,104.6 L71.3,102.4 L72.0,100.2 L72.8,97.8 L73.5,95.3 L74.2,92.7 L74.9,89.9 L75.7,86.9 L76.4,83.7 L77.1,80.4 L77.8,77.1 L78.6,73.6 L79.3,70.2 L80.0,66.9 L80.7,63.6 L81.4,60.6 L82.2,57.9 L82.9,55.5 L83.6,53.5 L84.3,51.8 L85.1,50.4 L85.8,49.1 L86.5,48.1 L87.2,47.2 L88.0,46.4 L88.7,45.7 L89.4,45.0 L90.1,44.5 L90.9,44.0 L91.6,43.6 L92.3,43.3 L93.0,43.1 L93.8,42.9 L94.5,42.8 L95.2,42.8 L95.9,42.7 L96.6,42.7 L97.4,42.7 L98.1,42.8 L98.8,43.0 L99.5,43.3 L100.3,43.8 L101.0,44.5 L101.7,45.4 L102.4,46.4 L103.2,47.7 L103.9,49.1 L104.6,50.5 L105.3,52.1 L106.1,53.7 L106.8,55.2 L107.5,56.8 L108.2,58.3 L108.9,59.8 L109.7,61.4 L110.4,63.1 L111.1,64.8 L111.8,66.7 L112.6,68.8 L113.3,71.1 L114.0,73.6 L114.7,76.2 L115.5,78.9 L116.2,81.6 L116.9,84.2 L117.6,86.8 L118.4,89.3 L119.1,91.7 L119.8,94.0 L120.5,96.2 L121.3,98.4 L122.0,100.5 L122.7,102.6 L123.4,104.6 L124.1,106.6 L124.9,108.5 L125.6,110.3 L126.3,112.1 L127.0,113.8 L127.8,115.5 L128.5,117.1 L129.2,118.6 L129.9,120.1 L130.7,121.5 L131.4,122.9 L132.1,124.2 L132.8,125.5 L133.6,126.7 L134.3,128.0 L135.0,129.2 L135.7,130.4 L136.4,131.6 L137.2,132.8 L137.9,134.0 L138.6,135.3 L139.3,136.7 L140.1,138.1 L140.8,139.5 L141.5,141.0 L142.2,142.6 L143.0,144.1 L143.7,145.6 L144.4,147.1 L145.1,148.6 L145.9,150.0 L146.6,151.3 L147.3,152.5 L148.0,153.6 L148.8,154.7 L149.5,155.6 L150.2,156.4 L150.9,157.1 L151.6,157.7 L152.4,158.1 L153.1,158.4 L153.8,158.6 L154.5,158.7 L155.3,158.8 L156.0,158.8 L156.7,158.8 L157.4,158.8 L158.2,158.8 L158.9,158.8 L159.6,158.9 L160.3,159.1 L161.1,159.3 L161.8,159.6 L162.5,160.0 L163.2,160.5 L163.9,161.0 L164.7,161.7 L165.4,162.3 L166.1,163.1 L166.8,163.9 L167.6,164.7 L168.3,165.5 L169.0,166.3 L169.7,167.2 L170.5,168.0 L171.2,168.8 L171.9,169.6 L172.6,170.3 L173.4,171.0 L174.1,171.6 L174.8,172.2 L175.5,172.6 L176.3,173.0 L177.0,173.2 L177.7,173.3 L178.4,173.3 L179.1,173.2 L179.9,173.0 L180.6,172.7 L181.3,172.5 L182.0,172.2 L182.8,172.0 L183.5,171.8 L184.2,171.7 L184.9,171.6 L185.7,171.6 L186.4,171.6 L187.1,171.5 L187.8,171.5 L188.6,171.4 L189.3,171.4 L190.0,171.4 L190.7,171.4 L191.5,171.7 L192.2,172.1 L192.9,172.6 L193.6,173.4 L194.3,174.2 L195.1,175.1 L195.8,176.2 L196.5,177.2 L197.2,178.3 L198.0,179.4 L198.7,180.5 L199.4,181.5 L200.1,182.6 L200.9,183.6 L201.6,184.6 L202.3,185.5 L203.0,186.3 L203.8,187.0 L204.5,187.7 L205.2,188.3 L205.9,188.9 L206.6,189.4 L207.4,189.8 L208.1,190.2 L208.8,190.6 L209.5,190.9 L210.3,191.2 L211.0,191.5 L211.7,191.7 L212.4,191.9 L213.2,192.1 L213.9,192.3 L214.6,192.4 L215.3,192.5 L216.1,192.7 L216.8,192.8 L217.5,192.8 L218.2,192.9 L219.0,193.0 L219.7,193.0 L220.4,193.1 L221.1,193.1 L221.8,193.1 L222.6,193.2 L223.3,193.2 L224.0,193.2 L224.7,193.3 L225.5,193.3 L226.2,193.4 L226.9,193.4 L227.6,193.5 L228.4,193.6 L229.1,193.7 L229.8,193.8 L230.5,193.9 L231.3,194.1 L232.0,194.2 L232.7,194.4 L233.4,194.6 L234.1,194.8 L234.9,195.1 L235.6,195.3 L236.3,195.6 L237.0,195.8 L237.8,196.1 L238.5,196.3 L239.2,196.6 L239.9,196.9 L240.7,197.1 L241.4,197.4 L242.1,197.6 L242.8,197.9 L243.6,198.1 L244.3,198.4 L245.0,198.6 L245.7,198.8 L246.5,199.0 L247.2,199.2 L247.9,199.4 L248.6,199.6 L249.3,199.8 L250.1,200.0 L250.8,200.1 L251.5,200.3 L252.2,200.4 L253.0,200.6 L253.7,200.7 L254.4,200.8 L255.1,201.0 L255.9,201.1 L256.6,201.2 L257.3,201.3 L258.0,201.4 L258.8,201.4 L259.5,201.5 L260.2,201.6 L260.9,201.7 L261.6,201.7 L262.4,201.8 L263.1,201.8 L263.8,201.9 L264.5,201.9 L265.3,202.0 L266.0,202.0 L266.7,202.1 L267.4,202.1 L268.2,202.1 L268.9,202.2 L269.6,202.2 L270.3,202.2 L271.1,202.3 L271.8,202.3 L272.5,202.3 L273.2,202.3 L274.0,202.4 L274.7,202.4 L275.4,202.4 L276.1,202.4 L276.8,202.4" fill="none" stroke="#000" stroke-width="0.95"/>
<path d="M52.50,27.18 V219.42 H294.94" fill="none" stroke="#1a1a1a" stroke-width="1"/>
<path d="M52.50,219.42 h-2.2 M52.50,203.40 h-4 M52.50,187.38 h-2.2 M52.50,171.36 h-4 M52.50,155.34 h-2.2 M52.50,139.32 h-4 M52.50,123.30 h-2.2 M52.50,107.28 h-4 M52.50,91.26 h-2.2 M52.50,75.24 h-4 M52.50,59.22 h-2.2 M52.50,43.20 h-4 M52.50,27.18 h-2.2 M59.74,219.42 v4 M77.83,219.42 v2.2 M95.92,219.42 v4 M114.01,219.42 v2.2 M132.11,219.42 v4 M150.20,219.42 v2.2 M168.29,219.42 v4 M186.38,219.42 v2.2 M204.48,219.42 v4 M222.57,219.42 v2.2 M240.66,219.42 v4 M258.75,219.42 v2.2 M276.85,219.42 v4 M294.94,219.42 v2.2" fill="none" stroke="#1a1a1a" stroke-width="0.9"/>
<text x="46.40" y="206.30" text-anchor="end" font-size="8.4" fill="#222">0.0</text>
<text x="46.40" y="174.26" text-anchor="end" font-size="8.4" fill="#222">0.2</text>
<text x="46.40" y="142.22" text-anchor="end" font-size="8.4" fill="#222">0.4</text>
<text x="46.40" y="110.18" text-anchor="end" font-size="8.4" fill="#222">0.6</text>
<text x="46.40" y="78.14" text-anchor="end" font-size="8.4" fill="#222">0.8</text>
<text x="46.40" y="46.10" text-anchor="end" font-size="8.4" fill="#222">1.0</text>
<text x="59.74" y="232.52" text-anchor="middle" font-size="8.4" fill="#222">450</text>
<text x="95.92" y="232.52" text-anchor="middle" font-size="8.4" fill="#222">500</text>
<text x="132.11" y="232.52" text-anchor="middle" font-size="8.4" fill="#222">550</text>
<text x="168.29" y="232.52" text-anchor="middle" font-size="8.4" fill="#222">600</text>
<text x="204.48" y="232.52" text-anchor="middle" font-size="8.4" fill="#222">650</text>
<text x="240.66" y="232.52" text-anchor="middle" font-size="8.4" fill="#222">700</text>
<text x="276.85" y="232.52" text-anchor="middle" font-size="8.4" fill="#222">750</text>
<text x="1.0" y="22" font-size="29" font-weight="bold" fill="#000">A</text>
<path d="M211.2,14.50 H234.7" stroke="#000" stroke-width="1.2"/>
<text x="237.3" y="18.40" font-size="13" fill="#111">Control</text>
<path d="M211.2,27.50 H234.7" stroke="#ff6a6a" stroke-width="1"/>
<text x="237.3" y="30.80" font-size="10" fill="#111">NADH</text>
<path d="M211.2,40.50 H234.7" stroke="#4cff4c" stroke-width="1"/>
<text x="237.3" y="43.60" font-size="10" fill="#111">FAD</text>
<path d="M211.2,52.50 H234.7" stroke="#6a6aff" stroke-width="1"/>
<text x="237.3" y="56.40" font-size="10" fill="#111">Hemoglobin</text>
<path d="M211.2,65.50 H234.7" stroke="#6affff" stroke-width="1"/>
<text x="237.3" y="69.00" font-size="10" fill="#111">Lipopigments</text>
<path d="M211.2,78.50 H234.7" stroke="#ff6aff" stroke-width="1"/>
<text x="237.3" y="81.70" font-size="10" fill="#111">Porphyrin</text>
<path d="M211.2,90.50 H234.7" stroke="#ffff6a" stroke-width="1"/>
<text x="237.3" y="94.30" font-size="10" fill="#111">Coproporphyrin</text>
<path d="M211.2,103.50 H234.7" stroke="#9a9a55" stroke-width="1"/>
<text x="237.3" y="107.00" font-size="10" fill="#111">Cumulative Fit Peak</text>
<path d="M408.5,162.7 L409.3,161.6 L410.1,160.5 L410.8,159.4 L411.6,158.3 L412.4,157.1 L413.2,155.9 L414.0,154.8 L414.7,153.6 L415.5,152.4 L416.3,151.3 L417.1,150.1 L417.9,148.9 L418.6,147.8 L419.4,146.7 L420.2,145.6 L421.0,144.5 L421.8,143.4 L422.5,142.4 L423.3,141.4 L424.1,140.5 L424.9,139.6 L425.7,138.8 L426.5,138.0 L427.2,137.3 L428.0,136.7 L428.8,136.1 L429.6,135.7 L430.4,135.3 L431.1,134.9 L431.9,134.7 L432.7,134.5 L433.5,134.5 L434.3,134.5 L435.0,134.6 L435.8,134.8 L436.6,135.1 L437.4,135.5 L438.2,135.9 L438.9,136.5 L439.7,137.1 L440.5,137.7 L441.3,138.5 L442.1,139.3 L442.8,140.1 L443.6,141.1 L444.4,142.0 L445.2,143.0 L446.0,144.1 L446.7,145.1 L447.5,146.2 L448.3,147.3 L449.1,148.5 L449.9,149.6 L450.6,150.8 L451.4,152.0 L452.2,153.1 L453.0,154.3 L453.8,155.5 L454.5,156.6 L455.3,157.8 L456.1,158.9 L456.9,160.1 L457.7,161.2 L458.5,162.3 L459.2,163.4 L460.0,164.4 L460.8,165.5 L461.6,166.5 L462.4,167.5 L463.1,168.5 L463.9,169.4 L464.7,170.4 L465.5,171.3 L466.3,172.2 L467.0,173.1 L467.8,173.9 L468.6,174.8 L469.4,175.6 L470.2,176.4 L470.9,177.1 L471.7,177.9 L472.5,178.6 L473.3,179.3 L474.1,180.0 L474.8,180.7 L475.6,181.3 L476.4,181.9 L477.2,182.5 L478.0,183.1 L478.7,183.7 L479.5,184.3 L480.3,184.8 L481.1,185.4 L481.9,185.9 L482.6,186.4 L483.4,186.9 L484.2,187.3 L485.0,187.8 L485.8,188.2 L486.6,188.7 L487.3,189.1 L488.1,189.5 L488.9,189.9 L489.7,190.3 L490.5,190.7 L491.2,191.0 L492.0,191.4 L492.8,191.7 L493.6,192.1 L494.4,192.4 L495.1,192.7 L495.9,193.0 L496.7,193.3 L497.5,193.6 L498.3,193.9 L499.0,194.2 L499.8,194.5 L500.6,194.7 L501.4,195.0 L502.2,195.2 L502.9,195.5 L503.7,195.7 L504.5,196.0 L505.3,196.2 L506.1,196.4 L506.8,196.6 L507.6,196.8 L508.4,197.0 L509.2,197.2 L510.0,197.4 L510.7,197.6 L511.5,197.8 L512.3,198.0 L513.1,198.2 L513.9,198.3 L514.6,198.5 L515.4,198.7 L516.2,198.8 L517.0,199.0 L517.8,199.1 L518.6,199.3 L519.3,199.4 L520.1,199.6 L520.9,199.7 L521.7,199.9 L522.5,200.0 L523.2,200.1 L524.0,200.2 L524.8,200.4 L525.6,200.5 L526.4,200.6 L527.1,200.7 L527.9,200.8 L528.7,201.0 L529.5,201.1 L530.3,201.2 L531.0,201.3 L531.8,201.4 L532.6,201.5 L533.4,201.6 L534.2,201.7 L534.9,201.8 L535.7,201.9 L536.5,202.0 L537.3,202.1 L538.1,202.1 L538.8,202.2 L539.6,202.3 L540.4,202.4 L541.2,202.5 L542.0,202.6 L542.7,202.6 L543.5,202.7 L544.3,202.8 L545.1,202.9 L545.9,202.9 L546.6,203.0 L547.4,203.1 L548.2,203.1 L549.0,203.2 L549.8,203.3 L550.6,203.3 L551.3,203.4 L552.1,203.5 L552.9,203.5 L553.7,203.6 L554.5,203.6 L555.2,203.7 L556.0,203.8 L556.8,203.8 L557.6,203.9 L558.4,203.9 L559.1,204.0 L559.9,204.0 L560.7,204.1 L561.5,204.1 L562.3,204.2 L563.0,204.2 L563.8,204.3 L564.6,204.3 L565.4,204.4 L566.2,204.4 L566.9,204.5 L567.7,204.5 L568.5,204.5 L569.3,204.6 L570.1,204.6 L570.8,204.7 L571.6,204.7 L572.4,204.8 L573.2,204.8 L574.0,204.8 L574.7,204.9 L575.5,204.9 L576.3,204.9 L577.1,205.0 L577.9,205.0 L578.6,205.1 L579.4,205.1 L580.2,205.1 L581.0,205.2 L581.8,205.2 L582.6,205.2 L583.3,205.3 L584.1,205.3 L584.9,205.3 L585.7,205.4 L586.5,205.4 L587.2,205.4 L588.0,205.4 L588.8,205.5 L589.6,205.5 L590.4,205.5 L591.1,205.6 L591.9,205.6 L592.7,205.6 L593.5,205.6 L594.3,205.7 L595.0,205.7 L595.8,205.7 L596.6,205.7 L597.4,205.8 L598.2,205.8 L598.9,205.8 L599.7,205.8 L600.5,205.9 L601.3,205.9 L602.1,205.9 L602.8,205.9 L603.6,206.0 L604.4,206.0 L605.2,206.0 L606.0,206.0 L606.7,206.0 L607.5,206.1 L608.3,206.1 L609.1,206.1 L609.9,206.1 L610.6,206.2 L611.4,206.2 L612.2,206.2 L613.0,206.2 L613.8,206.2 L614.6,206.2 L615.3,206.3 L616.1,206.3 L616.9,206.3 L617.7,206.3 L618.5,206.3 L619.2,206.4 L620.0,206.4 L620.8,206.4 L621.6,206.4 L622.4,206.4 L623.1,206.4 L623.9,206.5 L624.7,206.5 L625.5,206.5 L626.3,206.5 L627.0,206.5 L627.8,206.5 L628.6,206.6 L629.4,206.6 L630.2,206.6 L630.9,206.6 L631.7,206.6 L632.5,206.6 L633.3,206.6 L634.1,206.7 L634.8,206.7 L635.6,206.7 L636.4,206.7 L637.2,206.7 L638.0,206.7 L638.7,206.7 L639.5,206.7 L640.3,206.8 L641.1,206.8 L641.9,206.8 L642.6,206.8 L643.4,206.8 L644.2,206.8 L645.0,206.8 L645.8,206.8 L646.6,206.9 L647.3,206.9 L648.1,206.9 L648.9,206.9 L649.7,206.9 L650.5,206.9" fill="none" stroke="#ff0000" stroke-width="0.9"/>
<path d="M408.5,175.5 L409.3,174.8 L410.1,174.1 L410.8,173.4 L411.6,172.6 L412.4,171.9 L413.2,171.1 L414.0,170.3 L414.7,169.5 L415.5,168.6 L416.3,167.8 L417.1,166.9 L417.9,166.0 L418.6,165.0 L419.4,164.1 L420.2,163.1 L421.0,162.0 L421.8,161.0 L422.5,159.9 L423.3,158.8 L424.1,157.7 L424.9,156.5 L425.7,155.4 L426.5,154.1 L427.2,152.9 L428.0,151.6 L428.8,150.3 L429.6,149.0 L430.4,147.6 L431.1,146.2 L431.9,144.8 L432.7,143.3 L433.5,141.8 L434.3,140.3 L435.0,138.8 L435.8,137.2 L436.6,135.6 L437.4,134.0 L438.2,132.3 L438.9,130.6 L439.7,129.0 L440.5,127.2 L441.3,125.5 L442.1,123.8 L442.8,122.0 L443.6,120.3 L444.4,118.5 L445.2,116.8 L446.0,115.0 L446.7,113.3 L447.5,111.5 L448.3,109.8 L449.1,108.2 L449.9,106.5 L450.6,104.9 L451.4,103.4 L452.2,101.9 L453.0,100.4 L453.8,99.0 L454.5,97.7 L455.3,96.5 L456.1,95.3 L456.9,94.2 L457.7,93.3 L458.5,92.4 L459.2,91.6 L460.0,91.0 L460.8,90.4 L461.6,90.0 L462.4,89.7 L463.1,89.5 L463.9,89.5 L464.7,89.5 L465.5,89.7 L466.3,90.0 L467.0,90.4 L467.8,91.0 L468.6,91.6 L469.4,92.4 L470.2,93.3 L470.9,94.2 L471.7,95.3 L472.5,96.5 L473.3,97.7 L474.1,99.0 L474.8,100.4 L475.6,101.9 L476.4,103.4 L477.2,104.9 L478.0,106.5 L478.7,108.2 L479.5,109.8 L480.3,111.5 L481.1,113.3 L481.9,115.0 L482.6,116.8 L483.4,118.5 L484.2,120.3 L485.0,122.0 L485.8,123.8 L486.6,125.5 L487.3,127.2 L488.1,129.0 L488.9,130.6 L489.7,132.3 L490.5,134.0 L491.2,135.6 L492.0,137.2 L492.8,138.8 L493.6,140.3 L494.4,141.8 L495.1,143.3 L495.9,144.8 L496.7,146.2 L497.5,147.6 L498.3,149.0 L499.0,150.3 L499.8,151.6 L500.6,152.9 L501.4,154.1 L502.2,155.4 L502.9,156.5 L503.7,157.7 L504.5,158.8 L505.3,159.9 L506.1,161.0 L506.8,162.0 L507.6,163.1 L508.4,164.1 L509.2,165.0 L510.0,166.0 L510.7,166.9 L511.5,167.8 L512.3,168.6 L513.1,169.5 L513.9,170.3 L514.6,171.1 L515.4,171.9 L516.2,172.6 L517.0,173.4 L517.8,174.1 L518.6,174.8 L519.3,175.5 L520.1,176.1 L520.9,176.8 L521.7,177.4 L522.5,178.0 L523.2,178.6 L524.0,179.2 L524.8,179.8 L525.6,180.3 L526.4,180.9 L527.1,181.4 L527.9,181.9 L528.7,182.4 L529.5,182.9 L530.3,183.3 L531.0,183.8 L531.8,184.3 L532.6,184.7 L533.4,185.1 L534.2,185.5 L534.9,185.9 L535.7,186.3 L536.5,186.7 L537.3,187.1 L538.1,187.5 L538.8,187.8 L539.6,188.2 L540.4,188.5 L541.2,188.9 L542.0,189.2 L542.7,189.5 L543.5,189.8 L544.3,190.1 L545.1,190.4 L545.9,190.7 L546.6,191.0 L547.4,191.3 L548.2,191.6 L549.0,191.8 L549.8,192.1 L550.6,192.3 L551.3,192.6 L552.1,192.8 L552.9,193.1 L553.7,193.3 L554.5,193.5 L555.2,193.7 L556.0,194.0 L556.8,194.2 L557.6,194.4 L558.4,194.6 L559.1,194.8 L559.9,195.0 L560.7,195.2 L561.5,195.4 L562.3,195.6 L563.0,195.7 L563.8,195.9 L564.6,196.1 L565.4,196.3 L566.2,196.4 L566.9,196.6 L567.7,196.8 L568.5,196.9 L569.3,197.1 L570.1,197.2 L570.8,197.4 L571.6,197.5 L572.4,197.7 L573.2,197.8 L574.0,197.9 L574.7,198.1 L575.5,198.2 L576.3,198.3 L577.1,198.5 L577.9,198.6 L578.6,198.7 L579.4,198.8 L580.2,198.9 L581.0,199.1 L581.8,199.2 L582.6,199.3 L583.3,199.4 L584.1,199.5 L584.9,199.6 L585.7,199.7 L586.5,199.8 L587.2,199.9 L588.0,200.0 L588.8,200.1 L589.6,200.2 L590.4,200.3 L591.1,200.4 L591.9,200.5 L592.7,200.6 L593.5,200.7 L594.3,200.8 L595.0,200.9 L595.8,200.9 L596.6,201.0 L597.4,201.1 L598.2,201.2 L598.9,201.3 L599.7,201.3 L600.5,201.4 L601.3,201.5 L602.1,201.6 L602.8,201.6 L603.6,201.7 L604.4,201.8 L605.2,201.9 L606.0,201.9 L606.7,202.0 L607.5,202.1 L608.3,202.1 L609.1,202.2 L609.9,202.3 L610.6,202.3 L611.4,202.4 L612.2,202.4 L613.0,202.5 L613.8,202.6 L614.6,202.6 L615.3,202.7 L616.1,202.7 L616.9,202.8 L617.7,202.8 L618.5,202.9 L619.2,202.9 L620.0,203.0 L620.8,203.1 L621.6,203.1 L622.4,203.2 L623.1,203.2 L623.9,203.3 L624.7,203.3 L625.5,203.3 L626.3,203.4 L627.0,203.4 L627.8,203.5 L628.6,203.5 L629.4,203.6 L630.2,203.6 L630.9,203.7 L631.7,203.7 L632.5,203.8 L633.3,203.8 L634.1,203.8 L634.8,203.9 L635.6,203.9 L636.4,204.0 L637.2,204.0 L638.0,204.0 L638.7,204.1 L639.5,204.1 L640.3,204.1 L641.1,204.2 L641.9,204.2 L642.6,204.3 L643.4,204.3 L644.2,204.3 L645.0,204.4 L645.8,204.4 L646.6,204.4 L647.3,204.5 L648.1,204.5 L648.9,204.5 L649.7,204.6 L650.5,204.6" fill="none" stroke="#00ff00" stroke-width="0.9"/>
<path d="M408.5,208.3 L409.3,208.3 L410.1,208.3 L410.8,208.3 L411.6,208.3 L412.4,208.3 L413.2,208.3 L414.0,208.3 L414.7,208.3 L415.5,208.3 L416.3,208.3 L417.1,208.3 L417.9,208.3 L418.6,208.3 L419.4,208.3 L420.2,208.3 L421.0,208.3 L421.8,208.3 L422.5,208.3 L423.3,208.3 L424.1,208.3 L424.9,208.3 L425.7,208.3 L426.5,208.3 L427.2,208.3 L428.0,208.3 L428.8,208.3 L429.6,208.2 L430.4,208.2 L431.1,208.2 L431.9,208.2 L432.7,208.2 L433.5,208.2 L434.3,208.2 L435.0,208.2 L435.8,208.2 L436.6,208.2 L437.4,208.2 L438.2,208.2 L438.9,208.2 L439.7,208.2 L440.5,208.2 L441.3,208.1 L442.1,208.1 L442.8,208.1 L443.6,208.1 L444.4,208.1 L445.2,208.1 L446.0,208.1 L446.7,208.1 L447.5,208.1 L448.3,208.1 L449.1,208.0 L449.9,208.0 L450.6,208.0 L451.4,208.0 L452.2,208.0 L453.0,208.0 L453.8,207.9 L454.5,207.9 L455.3,207.9 L456.1,207.9 L456.9,207.9 L457.7,207.9 L458.5,207.8 L459.2,207.8 L460.0,207.8 L460.8,207.8 L461.6,207.7 L462.4,207.7 L463.1,207.7 L463.9,207.6 L464.7,207.6 L465.5,207.6 L466.3,207.5 L467.0,207.5 L467.8,207.5 L468.6,207.4 L469.4,207.4 L470.2,207.3 L470.9,207.3 L471.7,207.2 L472.5,207.1 L473.3,207.1 L474.1,207.0 L474.8,206.9 L475.6,206.8 L476.4,206.7 L477.2,206.6 L478.0,206.5 L478.7,206.4 L479.5,206.3 L480.3,206.2 L481.1,206.0 L481.9,205.9 L482.6,205.7 L483.4,205.5 L484.2,205.3 L485.0,205.1 L485.8,204.8 L486.6,204.6 L487.3,204.3 L488.1,204.0 L488.9,203.6 L489.7,203.2 L490.5,202.8 L491.2,202.3 L492.0,201.8 L492.8,201.3 L493.6,200.7 L494.4,200.1 L495.1,199.4 L495.9,198.8 L496.7,198.1 L497.5,197.4 L498.3,196.8 L499.0,196.2 L499.8,195.8 L500.6,195.4 L501.4,195.2 L502.2,195.2 L502.9,195.3 L503.7,195.6 L504.5,196.0 L505.3,196.6 L506.1,197.2 L506.8,197.8 L507.6,198.5 L508.4,199.2 L509.2,199.8 L510.0,200.4 L510.7,201.0 L511.5,201.6 L512.3,202.1 L513.1,202.6 L513.9,203.0 L514.6,203.4 L515.4,203.8 L516.2,204.1 L517.0,204.5 L517.8,204.7 L518.6,205.0 L519.3,205.2 L520.1,205.4 L520.9,205.6 L521.7,205.8 L522.5,206.0 L523.2,206.1 L524.0,206.3 L524.8,206.4 L525.6,206.5 L526.4,206.6 L527.1,206.7 L527.9,206.8 L528.7,206.9 L529.5,207.0 L530.3,207.0 L531.0,207.1 L531.8,207.2 L532.6,207.2 L533.4,207.3 L534.2,207.3 L534.9,207.4 L535.7,207.4 L536.5,207.5 L537.3,207.5 L538.1,207.6 L538.8,207.6 L539.6,207.6 L540.4,207.7 L541.2,207.7 L542.0,207.7 L542.7,207.7 L543.5,207.8 L544.3,207.8 L545.1,207.8 L545.9,207.8 L546.6,207.9 L547.4,207.9 L548.2,207.9 L549.0,207.9 L549.8,207.9 L550.6,208.0 L551.3,208.0 L552.1,208.0 L552.9,208.0 L553.7,208.0 L554.5,208.0 L555.2,208.0 L556.0,208.1 L556.8,208.1 L557.6,208.1 L558.4,208.1 L559.1,208.1 L559.9,208.1 L560.7,208.1 L561.5,208.1 L562.3,208.1 L563.0,208.2 L563.8,208.2 L564.6,208.2 L565.4,208.2 L566.2,208.2 L566.9,208.2 L567.7,208.2 L568.5,208.2 L569.3,208.2 L570.1,208.2 L570.8,208.2 L571.6,208.2 L572.4,208.2 L573.2,208.2 L574.0,208.2 L574.7,208.3 L575.5,208.3 L576.3,208.3 L577.1,208.3 L577.9,208.3 L578.6,208.3 L579.4,208.3 L580.2,208.3 L581.0,208.3 L581.8,208.3 L582.6,208.3 L583.3,208.3 L584.1,208.3 L584.9,208.3 L585.7,208.3 L586.5,208.3 L587.2,208.3 L588.0,208.3 L588.8,208.3 L589.6,208.3 L590.4,208.3 L591.1,208.3 L591.9,208.3 L592.7,208.3 L593.5,208.3 L594.3,208.3 L595.0,208.3 L595.8,208.3 L596.6,208.3 L597.4,208.4 L598.2,208.4 L598.9,208.4 L599.7,208.4 L600.5,208.4 L601.3,208.4 L602.1,208.4 L602.8,208.4 L603.6,208.4 L604.4,208.4 L605.2,208.4 L606.0,208.4 L606.7,208.4 L607.5,208.4 L608.3,208.4 L609.1,208.4 L609.9,208.4 L610.6,208.4 L611.4,208.4 L612.2,208.4 L613.0,208.4 L613.8,208.4 L614.6,208.4 L615.3,208.4 L616.1,208.4 L616.9,208.4 L617.7,208.4 L618.5,208.4 L619.2,208.4 L620.0,208.4 L620.8,208.4 L621.6,208.4 L622.4,208.4 L623.1,208.4 L623.9,208.4 L624.7,208.4 L625.5,208.4 L626.3,208.4 L627.0,208.4 L627.8,208.4 L628.6,208.4 L629.4,208.4 L630.2,208.4 L630.9,208.4 L631.7,208.4 L632.5,208.4 L633.3,208.4 L634.1,208.4 L634.8,208.4 L635.6,208.4 L636.4,208.4 L637.2,208.4 L638.0,208.4 L638.7,208.4 L639.5,208.4 L640.3,208.4 L641.1,208.4 L641.9,208.4 L642.6,208.4 L643.4,208.4 L644.2,208.4 L645.0,208.4 L645.8,208.4 L646.6,208.4 L647.3,208.4 L648.1,208.4 L648.9,208.4 L649.7,208.4 L650.5,208.4" fill="none" stroke="#0000ff" stroke-width="0.9"/>
<path d="M408.5,208.3 L409.3,208.3 L410.1,208.3 L410.8,208.3 L411.6,208.3 L412.4,208.3 L413.2,208.3 L414.0,208.3 L414.7,208.3 L415.5,208.3 L416.3,208.3 L417.1,208.3 L417.9,208.3 L418.6,208.3 L419.4,208.3 L420.2,208.3 L421.0,208.3 L421.8,208.3 L422.5,208.3 L423.3,208.3 L424.1,208.3 L424.9,208.2 L425.7,208.2 L426.5,208.2 L427.2,208.2 L428.0,208.2 L428.8,208.2 L429.6,208.2 L430.4,208.2 L431.1,208.2 L431.9,208.2 L432.7,208.2 L433.5,208.2 L434.3,208.2 L435.0,208.2 L435.8,208.2 L436.6,208.2 L437.4,208.2 L438.2,208.2 L438.9,208.2 L439.7,208.2 L440.5,208.2 L441.3,208.1 L442.1,208.1 L442.8,208.1 L443.6,208.1 L444.4,208.1 L445.2,208.1 L446.0,208.1 L446.7,208.1 L447.5,208.1 L448.3,208.1 L449.1,208.1 L449.9,208.1 L450.6,208.1 L451.4,208.1 L452.2,208.0 L453.0,208.0 L453.8,208.0 L454.5,208.0 L455.3,208.0 L456.1,208.0 L456.9,208.0 L457.7,208.0 L458.5,208.0 L459.2,207.9 L460.0,207.9 L460.8,207.9 L461.6,207.9 L462.4,207.9 L463.1,207.9 L463.9,207.9 L464.7,207.8 L465.5,207.8 L466.3,207.8 L467.0,207.8 L467.8,207.8 L468.6,207.8 L469.4,207.7 L470.2,207.7 L470.9,207.7 L471.7,207.7 L472.5,207.7 L473.3,207.6 L474.1,207.6 L474.8,207.6 L475.6,207.6 L476.4,207.5 L477.2,207.5 L478.0,207.5 L478.7,207.4 L479.5,207.4 L480.3,207.4 L481.1,207.3 L481.9,207.3 L482.6,207.3 L483.4,207.2 L484.2,207.2 L485.0,207.1 L485.8,207.1 L486.6,207.0 L487.3,207.0 L488.1,206.9 L488.9,206.8 L489.7,206.8 L490.5,206.7 L491.2,206.6 L492.0,206.6 L492.8,206.5 L493.6,206.4 L494.4,206.3 L495.1,206.2 L495.9,206.1 L496.7,206.0 L497.5,205.9 L498.3,205.8 L499.0,205.6 L499.8,205.5 L500.6,205.3 L501.4,205.2 L502.2,205.0 L502.9,204.8 L503.7,204.6 L504.5,204.4 L505.3,204.1 L506.1,203.9 L506.8,203.6 L507.6,203.3 L508.4,202.9 L509.2,202.6 L510.0,202.2 L510.7,201.8 L511.5,201.3 L512.3,200.8 L513.1,200.2 L513.9,199.7 L514.6,199.0 L515.4,198.3 L516.2,197.6 L517.0,196.8 L517.8,196.0 L518.6,195.1 L519.3,194.2 L520.1,193.2 L520.9,192.3 L521.7,191.3 L522.5,190.5 L523.2,189.6 L524.0,188.9 L524.8,188.3 L525.6,187.9 L526.4,187.7 L527.1,187.7 L527.9,187.9 L528.7,188.2 L529.5,188.8 L530.3,189.5 L531.0,190.3 L531.8,191.2 L532.6,192.1 L533.4,193.0 L534.2,194.0 L534.9,194.9 L535.7,195.8 L536.5,196.6 L537.3,197.4 L538.1,198.2 L538.8,198.9 L539.6,199.5 L540.4,200.1 L541.2,200.7 L542.0,201.2 L542.7,201.7 L543.5,202.1 L544.3,202.5 L545.1,202.9 L545.9,203.2 L546.6,203.5 L547.4,203.8 L548.2,204.1 L549.0,204.3 L549.8,204.5 L550.6,204.7 L551.3,204.9 L552.1,205.1 L552.9,205.3 L553.7,205.4 L554.5,205.6 L555.2,205.7 L556.0,205.9 L556.8,206.0 L557.6,206.1 L558.4,206.2 L559.1,206.3 L559.9,206.4 L560.7,206.5 L561.5,206.5 L562.3,206.6 L563.0,206.7 L563.8,206.8 L564.6,206.8 L565.4,206.9 L566.2,207.0 L566.9,207.0 L567.7,207.1 L568.5,207.1 L569.3,207.2 L570.1,207.2 L570.8,207.2 L571.6,207.3 L572.4,207.3 L573.2,207.4 L574.0,207.4 L574.7,207.4 L575.5,207.5 L576.3,207.5 L577.1,207.5 L577.9,207.6 L578.6,207.6 L579.4,207.6 L580.2,207.6 L581.0,207.7 L581.8,207.7 L582.6,207.7 L583.3,207.7 L584.1,207.7 L584.9,207.8 L585.7,207.8 L586.5,207.8 L587.2,207.8 L588.0,207.8 L588.8,207.8 L589.6,207.9 L590.4,207.9 L591.1,207.9 L591.9,207.9 L592.7,207.9 L593.5,207.9 L594.3,207.9 L595.0,208.0 L595.8,208.0 L596.6,208.0 L597.4,208.0 L598.2,208.0 L598.9,208.0 L599.7,208.0 L600.5,208.0 L601.3,208.0 L602.1,208.0 L602.8,208.1 L603.6,208.1 L604.4,208.1 L605.2,208.1 L606.0,208.1 L606.7,208.1 L607.5,208.1 L608.3,208.1 L609.1,208.1 L609.9,208.1 L610.6,208.1 L611.4,208.1 L612.2,208.1 L613.0,208.2 L613.8,208.2 L614.6,208.2 L615.3,208.2 L616.1,208.2 L616.9,208.2 L617.7,208.2 L618.5,208.2 L619.2,208.2 L620.0,208.2 L620.8,208.2 L621.6,208.2 L622.4,208.2 L623.1,208.2 L623.9,208.2 L624.7,208.2 L625.5,208.2 L626.3,208.2 L627.0,208.2 L627.8,208.2 L628.6,208.2 L629.4,208.3 L630.2,208.3 L630.9,208.3 L631.7,208.3 L632.5,208.3 L633.3,208.3 L634.1,208.3 L634.8,208.3 L635.6,208.3 L636.4,208.3 L637.2,208.3 L638.0,208.3 L638.7,208.3 L639.5,208.3 L640.3,208.3 L641.1,208.3 L641.9,208.3 L642.6,208.3 L643.4,208.3 L644.2,208.3 L645.0,208.3 L645.8,208.3 L646.6,208.3 L647.3,208.3 L648.1,208.3 L648.9,208.3 L649.7,208.3 L650.5,208.3" fill="none" stroke="#00ffff" stroke-width="0.9"/>
<path d="M408.5,208.4 L409.3,208.4 L410.1,208.4 L410.8,208.4 L411.6,208.4 L412.4,208.4 L413.2,208.4 L414.0,208.4 L414.7,208.4 L415.5,208.4 L416.3,208.4 L417.1,208.4 L417.9,208.4 L418.6,208.4 L419.4,208.4 L420.2,208.4 L421.0,208.4 L421.8,208.4 L422.5,208.4 L423.3,208.4 L424.1,208.4 L424.9,208.4 L425.7,208.4 L426.5,208.4 L427.2,208.4 L428.0,208.4 L428.8,208.4 L429.6,208.4 L430.4,208.4 L431.1,208.3 L431.9,208.3 L432.7,208.3 L433.5,208.3 L434.3,208.3 L435.0,208.3 L435.8,208.3 L436.6,208.3 L437.4,208.3 L438.2,208.3 L438.9,208.3 L439.7,208.3 L440.5,208.3 L441.3,208.3 L442.1,208.3 L442.8,208.3 L443.6,208.3 L444.4,208.3 L445.2,208.3 L446.0,208.3 L446.7,208.3 L447.5,208.3 L448.3,208.3 L449.1,208.3 L449.9,208.3 L450.6,208.3 L451.4,208.3 L452.2,208.3 L453.0,208.3 L453.8,208.3 L454.5,208.3 L455.3,208.3 L456.1,208.3 L456.9,208.3 L457.7,208.3 L458.5,208.3 L459.2,208.3 L460.0,208.2 L460.8,208.2 L461.6,208.2 L462.4,208.2 L463.1,208.2 L463.9,208.2 L464.7,208.2 L465.5,208.2 L466.3,208.2 L467.0,208.2 L467.8,208.2 L468.6,208.2 L469.4,208.2 L470.2,208.2 L470.9,208.2 L471.7,208.2 L472.5,208.2 L473.3,208.2 L474.1,208.2 L474.8,208.2 L475.6,208.1 L476.4,208.1 L477.2,208.1 L478.0,208.1 L478.7,208.1 L479.5,208.1 L480.3,208.1 L481.1,208.1 L481.9,208.1 L482.6,208.1 L483.4,208.1 L484.2,208.1 L485.0,208.0 L485.8,208.0 L486.6,208.0 L487.3,208.0 L488.1,208.0 L488.9,208.0 L489.7,208.0 L490.5,208.0 L491.2,208.0 L492.0,207.9 L492.8,207.9 L493.6,207.9 L494.4,207.9 L495.1,207.9 L495.9,207.9 L496.7,207.9 L497.5,207.8 L498.3,207.8 L499.0,207.8 L499.8,207.8 L500.6,207.8 L501.4,207.7 L502.2,207.7 L502.9,207.7 L503.7,207.7 L504.5,207.7 L505.3,207.6 L506.1,207.6 L506.8,207.6 L507.6,207.6 L508.4,207.5 L509.2,207.5 L510.0,207.5 L510.7,207.4 L511.5,207.4 L512.3,207.3 L513.1,207.3 L513.9,207.3 L514.6,207.2 L515.4,207.2 L516.2,207.1 L517.0,207.1 L517.8,207.0 L518.6,207.0 L519.3,206.9 L520.1,206.8 L520.9,206.8 L521.7,206.7 L522.5,206.6 L523.2,206.5 L524.0,206.4 L524.8,206.3 L525.6,206.2 L526.4,206.1 L527.1,206.0 L527.9,205.9 L528.7,205.8 L529.5,205.6 L530.3,205.5 L531.0,205.3 L531.8,205.1 L532.6,204.9 L533.4,204.7 L534.2,204.5 L534.9,204.3 L535.7,204.0 L536.5,203.7 L537.3,203.4 L538.1,203.0 L538.8,202.7 L539.6,202.3 L540.4,201.8 L541.2,201.3 L542.0,200.8 L542.7,200.2 L543.5,199.6 L544.3,198.9 L545.1,198.2 L545.9,197.4 L546.6,196.5 L547.4,195.6 L548.2,194.6 L549.0,193.6 L549.8,192.6 L550.6,191.6 L551.3,190.7 L552.1,189.8 L552.9,189.0 L553.7,188.4 L554.5,187.9 L555.2,187.7 L556.0,187.7 L556.8,187.9 L557.6,188.4 L558.4,189.0 L559.1,189.8 L559.9,190.7 L560.7,191.6 L561.5,192.6 L562.3,193.6 L563.0,194.6 L563.8,195.6 L564.6,196.5 L565.4,197.4 L566.2,198.2 L566.9,198.9 L567.7,199.6 L568.5,200.2 L569.3,200.8 L570.1,201.3 L570.8,201.8 L571.6,202.3 L572.4,202.7 L573.2,203.0 L574.0,203.4 L574.7,203.7 L575.5,204.0 L576.3,204.3 L577.1,204.5 L577.9,204.7 L578.6,204.9 L579.4,205.1 L580.2,205.3 L581.0,205.5 L581.8,205.6 L582.6,205.8 L583.3,205.9 L584.1,206.0 L584.9,206.1 L585.7,206.2 L586.5,206.3 L587.2,206.4 L588.0,206.5 L588.8,206.6 L589.6,206.7 L590.4,206.8 L591.1,206.8 L591.9,206.9 L592.7,207.0 L593.5,207.0 L594.3,207.1 L595.0,207.1 L595.8,207.2 L596.6,207.2 L597.4,207.3 L598.2,207.3 L598.9,207.3 L599.7,207.4 L600.5,207.4 L601.3,207.5 L602.1,207.5 L602.8,207.5 L603.6,207.6 L604.4,207.6 L605.2,207.6 L606.0,207.6 L606.7,207.7 L607.5,207.7 L608.3,207.7 L609.1,207.7 L609.9,207.7 L610.6,207.8 L611.4,207.8 L612.2,207.8 L613.0,207.8 L613.8,207.8 L614.6,207.9 L615.3,207.9 L616.1,207.9 L616.9,207.9 L617.7,207.9 L618.5,207.9 L619.2,207.9 L620.0,208.0 L620.8,208.0 L621.6,208.0 L622.4,208.0 L623.1,208.0 L623.9,208.0 L624.7,208.0 L625.5,208.0 L626.3,208.0 L627.0,208.1 L627.8,208.1 L628.6,208.1 L629.4,208.1 L630.2,208.1 L630.9,208.1 L631.7,208.1 L632.5,208.1 L633.3,208.1 L634.1,208.1 L634.8,208.1 L635.6,208.1 L636.4,208.2 L637.2,208.2 L638.0,208.2 L638.7,208.2 L639.5,208.2 L640.3,208.2 L641.1,208.2 L641.9,208.2 L642.6,208.2 L643.4,208.2 L644.2,208.2 L645.0,208.2 L645.8,208.2 L646.6,208.2 L647.3,208.2 L648.1,208.2 L648.9,208.2 L649.7,208.2 L650.5,208.2" fill="none" stroke="#ff00ff" stroke-width="0.9"/>
<path d="M408.5,208.4 L409.3,208.4 L410.1,208.4 L410.8,208.4 L411.6,208.4 L412.4,208.4 L413.2,208.4 L414.0,208.4 L414.7,208.4 L415.5,208.4 L416.3,208.4 L417.1,208.4 L417.9,208.4 L418.6,208.4 L419.4,208.4 L420.2,208.4 L421.0,208.4 L421.8,208.4 L422.5,208.4 L423.3,208.4 L424.1,208.4 L424.9,208.4 L425.7,208.4 L426.5,208.4 L427.2,208.4 L428.0,208.4 L428.8,208.4 L429.6,208.4 L430.4,208.4 L431.1,208.4 L431.9,208.4 L432.7,208.4 L433.5,208.4 L434.3,208.4 L435.0,208.4 L435.8,208.4 L436.6,208.4 L437.4,208.4 L438.2,208.4 L438.9,208.4 L439.7,208.4 L440.5,208.4 L441.3,208.4 L442.1,208.4 L442.8,208.4 L443.6,208.4 L444.4,208.4 L445.2,208.4 L446.0,208.4 L446.7,208.4 L447.5,208.4 L448.3,208.4 L449.1,208.4 L449.9,208.4 L450.6,208.4 L451.4,208.4 L452.2,208.4 L453.0,208.4 L453.8,208.4 L454.5,208.3 L455.3,208.3 L456.1,208.3 L456.9,208.3 L457.7,208.3 L458.5,208.3 L459.2,208.3 L460.0,208.3 L460.8,208.3 L461.6,208.3 L462.4,208.3 L463.1,208.3 L463.9,208.3 L464.7,208.3 L465.5,208.3 L466.3,208.3 L467.0,208.3 L467.8,208.3 L468.6,208.3 L469.4,208.3 L470.2,208.3 L470.9,208.3 L471.7,208.3 L472.5,208.3 L473.3,208.3 L474.1,208.3 L474.8,208.3 L475.6,208.3 L476.4,208.3 L477.2,208.3 L478.0,208.3 L478.7,208.3 L479.5,208.3 L480.3,208.3 L481.1,208.3 L481.9,208.3 L482.6,208.3 L483.4,208.3 L484.2,208.3 L485.0,208.3 L485.8,208.3 L486.6,208.2 L487.3,208.2 L488.1,208.2 L488.9,208.2 L489.7,208.2 L490.5,208.2 L491.2,208.2 L492.0,208.2 L492.8,208.2 L493.6,208.2 L494.4,208.2 L495.1,208.2 L495.9,208.2 L496.7,208.2 L497.5,208.2 L498.3,208.2 L499.0,208.2 L499.8,208.2 L500.6,208.2 L501.4,208.2 L502.2,208.2 L502.9,208.2 L503.7,208.1 L504.5,208.1 L505.3,208.1 L506.1,208.1 L506.8,208.1 L507.6,208.1 L508.4,208.1 L509.2,208.1 L510.0,208.1 L510.7,208.1 L511.5,208.1 L512.3,208.1 L513.1,208.1 L513.9,208.0 L514.6,208.0 L515.4,208.0 L516.2,208.0 L517.0,208.0 L517.8,208.0 L518.6,208.0 L519.3,208.0 L520.1,208.0 L520.9,208.0 L521.7,207.9 L522.5,207.9 L523.2,207.9 L524.0,207.9 L524.8,207.9 L525.6,207.9 L526.4,207.9 L527.1,207.9 L527.9,207.8 L528.7,207.8 L529.5,207.8 L530.3,207.8 L531.0,207.8 L531.8,207.8 L532.6,207.7 L533.4,207.7 L534.2,207.7 L534.9,207.7 L535.7,207.7 L536.5,207.6 L537.3,207.6 L538.1,207.6 L538.8,207.6 L539.6,207.5 L540.4,207.5 L541.2,207.5 L542.0,207.4 L542.7,207.4 L543.5,207.4 L544.3,207.3 L545.1,207.3 L545.9,207.3 L546.6,207.2 L547.4,207.2 L548.2,207.1 L549.0,207.1 L549.8,207.1 L550.6,207.0 L551.3,206.9 L552.1,206.9 L552.9,206.8 L553.7,206.8 L554.5,206.7 L555.2,206.6 L556.0,206.6 L556.8,206.5 L557.6,206.4 L558.4,206.3 L559.1,206.2 L559.9,206.1 L560.7,206.0 L561.5,205.9 L562.3,205.8 L563.0,205.7 L563.8,205.5 L564.6,205.4 L565.4,205.3 L566.2,205.1 L566.9,204.9 L567.7,204.7 L568.5,204.5 L569.3,204.3 L570.1,204.1 L570.8,203.9 L571.6,203.6 L572.4,203.3 L573.2,203.0 L574.0,202.7 L574.7,202.4 L575.5,202.0 L576.3,201.6 L577.1,201.2 L577.9,200.7 L578.6,200.2 L579.4,199.7 L580.2,199.1 L581.0,198.6 L581.8,198.0 L582.6,197.3 L583.3,196.7 L584.1,196.0 L584.9,195.4 L585.7,194.7 L586.5,194.1 L587.2,193.6 L588.0,193.0 L588.8,192.6 L589.6,192.2 L590.4,192.0 L591.1,191.9 L591.9,191.8 L592.7,192.0 L593.5,192.2 L594.3,192.5 L595.0,192.9 L595.8,193.4 L596.6,194.0 L597.4,194.6 L598.2,195.3 L598.9,195.9 L599.7,196.6 L600.5,197.2 L601.3,197.8 L602.1,198.5 L602.8,199.0 L603.6,199.6 L604.4,200.1 L605.2,200.6 L606.0,201.1 L606.7,201.5 L607.5,201.9 L608.3,202.3 L609.1,202.6 L609.9,203.0 L610.6,203.3 L611.4,203.6 L612.2,203.8 L613.0,204.1 L613.8,204.3 L614.6,204.5 L615.3,204.7 L616.1,204.9 L616.9,205.1 L617.7,205.2 L618.5,205.4 L619.2,205.5 L620.0,205.7 L620.8,205.8 L621.6,205.9 L622.4,206.0 L623.1,206.1 L623.9,206.2 L624.7,206.3 L625.5,206.4 L626.3,206.5 L627.0,206.6 L627.8,206.6 L628.6,206.7 L629.4,206.8 L630.2,206.8 L630.9,206.9 L631.7,206.9 L632.5,207.0 L633.3,207.0 L634.1,207.1 L634.8,207.1 L635.6,207.2 L636.4,207.2 L637.2,207.3 L638.0,207.3 L638.7,207.3 L639.5,207.4 L640.3,207.4 L641.1,207.4 L641.9,207.5 L642.6,207.5 L643.4,207.5 L644.2,207.6 L645.0,207.6 L645.8,207.6 L646.6,207.6 L647.3,207.6 L648.1,207.7 L648.9,207.7 L649.7,207.7 L650.5,207.7" fill="none" stroke="#ffff00" stroke-width="0.9"/>
<path d="M408.5,129.2 L409.3,127.2 L410.1,125.2 L410.8,123.2 L411.6,121.2 L412.4,119.2 L413.2,117.2 L414.0,115.2 L414.7,113.2 L415.5,111.3 L416.3,109.3 L417.1,107.4 L417.9,105.4 L418.6,103.2 L419.4,101.0 L420.2,98.8 L421.0,96.5 L421.8,94.3 L422.5,92.0 L423.3,89.9 L424.1,87.7 L424.9,85.6 L425.7,83.6 L426.5,81.6 L427.2,79.7 L428.0,77.9 L428.8,76.1 L429.6,74.5 L430.4,72.9 L431.1,71.3 L431.9,69.8 L432.7,68.3 L433.5,66.8 L434.3,65.3 L435.0,63.8 L435.8,62.3 L436.6,60.9 L437.4,59.4 L438.2,58.0 L438.9,56.7 L439.7,55.4 L440.5,54.2 L441.3,53.0 L442.1,52.0 L442.8,51.0 L443.6,50.1 L444.4,49.2 L445.2,48.5 L446.0,47.8 L446.7,47.2 L447.5,46.6 L448.3,46.1 L449.1,45.7 L449.9,45.3 L450.6,45.0 L451.4,44.7 L452.2,44.5 L453.0,44.3 L453.8,44.2 L454.5,44.2 L455.3,44.2 L456.1,44.2 L456.9,44.3 L457.7,44.4 L458.5,44.6 L459.2,44.8 L460.0,45.1 L460.8,45.4 L461.6,45.8 L462.4,46.2 L463.1,46.6 L463.9,47.2 L464.7,47.8 L465.5,48.4 L466.3,49.2 L467.0,50.0 L467.8,51.0 L468.6,52.0 L469.4,53.1 L470.2,54.4 L470.9,55.8 L471.7,57.2 L472.5,58.8 L473.3,60.5 L474.1,62.3 L474.8,64.2 L475.6,66.3 L476.4,68.4 L477.2,70.6 L478.0,72.9 L478.7,75.2 L479.5,77.6 L480.3,80.1 L481.1,82.5 L481.9,85.0 L482.6,87.5 L483.4,89.9 L484.2,92.3 L485.0,94.6 L485.8,96.9 L486.6,99.0 L487.3,101.0 L488.1,102.9 L488.9,104.5 L489.7,106.0 L490.5,107.3 L491.2,108.4 L492.0,109.3 L492.8,110.2 L493.6,111.0 L494.4,111.8 L495.1,112.6 L495.9,113.4 L496.7,114.2 L497.5,115.1 L498.3,116.0 L499.0,117.0 L499.8,118.0 L500.6,119.1 L501.4,120.3 L502.2,121.5 L502.9,122.8 L503.7,124.1 L504.5,125.5 L505.3,126.9 L506.1,128.4 L506.8,129.9 L507.6,131.5 L508.4,133.0 L509.2,134.6 L510.0,136.1 L510.7,137.5 L511.5,138.9 L512.3,140.1 L513.1,141.3 L513.9,142.2 L514.6,143.1 L515.4,143.7 L516.2,144.2 L517.0,144.5 L517.8,144.6 L518.6,144.5 L519.3,144.3 L520.1,144.0 L520.9,143.6 L521.7,143.3 L522.5,143.0 L523.2,142.9 L524.0,143.1 L524.8,143.4 L525.6,144.0 L526.4,144.7 L527.1,145.6 L527.9,146.5 L528.7,147.5 L529.5,148.5 L530.3,149.6 L531.0,150.6 L531.8,151.6 L532.6,152.6 L533.4,153.5 L534.2,154.4 L534.9,155.3 L535.7,156.1 L536.5,156.8 L537.3,157.5 L538.1,158.1 L538.8,158.7 L539.6,159.2 L540.4,159.6 L541.2,160.0 L542.0,160.4 L542.7,160.7 L543.5,160.9 L544.3,161.1 L545.1,161.3 L545.9,161.4 L546.6,161.5 L547.4,161.5 L548.2,161.6 L549.0,161.6 L549.8,161.7 L550.6,161.7 L551.3,161.8 L552.1,161.9 L552.9,162.0 L553.7,162.2 L554.5,162.5 L555.2,162.8 L556.0,163.1 L556.8,163.6 L557.6,164.1 L558.4,164.6 L559.1,165.2 L559.9,165.9 L560.7,166.7 L561.5,167.5 L562.3,168.4 L563.0,169.2 L563.8,170.2 L564.6,171.1 L565.4,172.0 L566.2,172.9 L566.9,173.8 L567.7,174.6 L568.5,175.5 L569.3,176.2 L570.1,176.9 L570.8,177.6 L571.6,178.1 L572.4,178.6 L573.2,179.0 L574.0,179.3 L574.7,179.6 L575.5,179.7 L576.3,179.7 L577.1,179.7 L577.9,179.5 L578.6,179.3 L579.4,179.1 L580.2,178.8 L581.0,178.5 L581.8,178.1 L582.6,177.8 L583.3,177.4 L584.1,177.1 L584.9,176.8 L585.7,176.5 L586.5,176.3 L587.2,176.2 L588.0,176.1 L588.8,176.2 L589.6,176.3 L590.4,176.5 L591.1,176.9 L591.9,177.3 L592.7,177.9 L593.5,178.6 L594.3,179.4 L595.0,180.3 L595.8,181.2 L596.6,182.2 L597.4,183.0 L598.2,183.9 L598.9,184.6 L599.7,185.3 L600.5,186.0 L601.3,186.6 L602.1,187.2 L602.8,187.8 L603.6,188.4 L604.4,188.9 L605.2,189.5 L606.0,190.0 L606.7,190.5 L607.5,191.0 L608.3,191.5 L609.1,191.9 L609.9,192.3 L610.6,192.7 L611.4,193.0 L612.2,193.4 L613.0,193.7 L613.8,194.0 L614.6,194.3 L615.3,194.6 L616.1,194.8 L616.9,195.1 L617.7,195.4 L618.5,195.6 L619.2,195.8 L620.0,196.1 L620.8,196.3 L621.6,196.5 L622.4,196.8 L623.1,197.0 L623.9,197.2 L624.7,197.4 L625.5,197.6 L626.3,197.8 L627.0,198.0 L627.8,198.2 L628.6,198.4 L629.4,198.6 L630.2,198.8 L630.9,199.0 L631.7,199.1 L632.5,199.3 L633.3,199.4 L634.1,199.6 L634.8,199.7 L635.6,199.9 L636.4,200.0 L637.2,200.2 L638.0,200.3 L638.7,200.5 L639.5,200.6 L640.3,200.7 L641.1,200.8 L641.9,200.9 L642.6,201.0 L643.4,201.1 L644.2,201.1 L645.0,201.2 L645.8,201.3 L646.6,201.3 L647.3,201.3 L648.1,201.4 L648.9,201.4 L649.7,201.4 L650.5,201.5" fill="none" stroke="#9a9a40" stroke-width="1.25"/>
<path d="M408.5,121.9 L410.4,128.4 L411.2,125.8 L412.0,123.2 L412.8,120.5 L413.6,117.7 L414.4,115.0 L415.2,112.4 L416.0,110.1 L416.8,108.0 L417.6,106.0 L418.4,104.0 L419.2,101.7 L420.0,99.4 L420.8,97.1 L421.6,94.7 L422.4,92.4 L423.2,90.1 L424.0,87.9 L424.8,85.8 L425.6,83.7 L426.4,81.6 L427.2,79.7 L428.0,77.8 L428.8,76.0 L429.6,74.3 L430.4,72.7 L431.2,71.1 L432.1,69.5 L432.9,68.0 L433.7,66.5 L434.5,64.9 L435.3,63.4 L436.1,61.9 L436.9,60.4 L437.7,58.9 L438.5,57.5 L439.3,56.1 L440.1,54.8 L440.9,53.6 L441.7,52.5 L442.5,51.4 L443.3,50.5 L444.1,49.6 L444.9,48.7 L445.7,48.0 L446.5,47.3 L447.3,46.7 L448.1,46.2 L448.9,45.7 L449.7,45.3 L450.5,45.0 L451.3,44.7 L452.1,44.5 L452.9,44.3 L453.7,44.2 L454.5,44.2 L455.3,44.2 L456.1,44.2 L456.9,44.3 L457.7,44.4 L458.6,44.6 L459.4,44.8 L460.2,45.1 L461.0,45.5 L461.8,45.8 L462.6,46.3 L463.4,46.8 L464.2,47.4 L465.0,48.0 L465.8,48.7 L466.6,49.5 L467.4,50.4 L468.2,51.4 L469.0,52.6 L469.8,53.8 L470.6,55.1 L471.4,56.6 L472.2,58.2 L473.0,59.9 L473.8,61.7 L474.6,63.7 L475.4,65.7 L476.2,67.9 L477.0,70.1 L477.8,72.5 L478.6,74.9 L479.4,77.3 L480.2,79.8 L481.0,82.4 L481.8,84.9 L482.6,87.4 L483.4,89.9 L484.2,92.4 L485.0,94.8 L485.9,97.1 L486.7,99.3 L487.5,101.4 L488.3,103.2 L489.1,104.9 L489.9,106.3 L490.7,107.6 L491.5,108.7 L492.3,109.6 L493.1,110.5 L493.9,111.4 L494.7,112.1 L495.5,112.9 L496.3,113.8 L497.1,114.6 L497.9,115.6 L498.7,116.6 L499.5,117.6 L500.3,118.7 L501.1,119.9 L501.9,121.1 L502.7,122.4 L503.5,123.7 L504.3,125.1 L505.1,126.6 L505.9,128.1 L506.7,129.7 L507.5,131.3 L508.3,132.9 L509.1,134.5 L509.9,136.0 L510.7,137.5 L511.5,138.9 L512.3,140.2 L513.2,141.3 L514.0,142.3 L514.8,143.2 L515.6,143.8 L516.4,144.3 L517.2,144.5 L518.0,144.6 L518.8,144.5 L519.6,144.2 L520.4,143.8 L521.2,143.5 L522.0,143.2 L522.8,143.0 L523.6,143.0 L524.4,143.2 L525.2,143.7 L526.0,144.4 L526.8,145.2 L527.6,146.1 L528.4,147.2 L529.2,148.2 L530.0,149.2 L530.8,150.3 L531.6,151.3 L532.4,152.3 L533.2,153.3 L534.0,154.3 L534.8,155.2 L535.6,156.0 L536.4,156.7 L537.2,157.4 L538.0,158.1 L538.8,158.7 L539.6,159.2 L540.5,159.7 L541.3,160.1 L542.1,160.4 L542.9,160.7 L543.7,161.0 L544.5,161.2 L545.3,161.3 L546.1,161.4 L546.9,161.5 L547.7,161.6 L548.5,161.6 L549.3,161.6 L550.1,161.7 L550.9,161.7 L551.7,161.8 L552.5,162.0 L553.3,162.1 L554.1,162.4 L554.9,162.6 L555.7,163.0 L556.5,163.4 L557.3,163.9 L558.1,164.4 L558.9,165.1 L559.7,165.7 L560.5,166.5 L561.3,167.3 L562.1,168.2 L562.9,169.1 L563.7,170.1 L564.5,171.0 L565.3,171.9 L566.1,172.9 L566.9,173.8 L567.8,174.7 L568.6,175.5 L569.4,176.3 L570.2,177.0 L571.0,177.6 L571.8,178.2 L572.6,178.7 L573.4,179.1 L574.2,179.4 L575.0,179.6 L575.8,179.7 L576.6,179.7 L577.4,179.6 L578.2,179.5 L579.0,179.2 L579.8,179.0 L580.6,178.6 L581.4,178.3 L582.2,177.9 L583.0,177.6 L583.8,177.2 L584.6,176.9 L585.4,176.6 L586.2,176.4 L587.0,176.2 L587.8,176.1 L588.6,176.2 L589.4,176.3 L590.2,176.5 L591.0,176.8 L591.8,177.3 L592.6,177.9 L593.4,178.6 L594.2,179.4 L595.1,180.3 L595.9,181.3 L596.7,182.2 L597.5,183.1 L598.3,184.0 L599.1,184.7 L599.9,185.4 L600.7,186.1 L601.5,186.7 L602.3,187.3 L603.1,188.0 L603.9,188.5 L604.7,189.1 L605.5,189.7 L606.3,190.2 L607.1,190.7 L607.9,191.2 L608.7,191.7 L609.5,192.1 L610.3,192.5 L611.1,192.9 L611.9,193.2 L612.7,193.6 L613.5,193.9 L614.3,194.2 L615.1,194.5 L615.9,194.8 L616.7,195.0 L617.5,195.3 L618.3,195.6 L619.1,195.8 L619.9,196.1 L620.7,196.3 L621.5,196.5 L622.4,196.8 L623.2,197.0 L624.0,197.2 L624.8,197.4 L625.6,197.6 L626.4,197.9 L627.2,198.1 L628.0,198.3 L628.8,198.5 L629.6,198.7 L630.4,198.8 L631.2,199.0 L632.0,199.2 L632.8,199.3 L633.6,199.5 L634.4,199.7 L635.2,199.8 L636.0,200.0 L636.8,200.1 L637.6,200.3 L638.4,200.4 L639.2,200.5 L640.0,200.7 L640.8,200.8 L641.6,200.9 L642.4,201.0 L643.2,201.1 L644.0,201.1 L644.8,201.2 L645.6,201.2 L646.4,201.3 L647.2,201.3 L648.0,201.4 L648.8,201.4 L649.7,201.4 L650.5,201.5" fill="none" stroke="#000" stroke-width="0.95"/>
<path d="M408.50,27.18 V219.42 H650.45" fill="none" stroke="#1a1a1a" stroke-width="1"/>
<path d="M408.50,219.42 h-2.2 M408.50,203.40 h-4 M408.50,187.38 h-2.2 M408.50,171.36 h-4 M408.50,155.34 h-2.2 M408.50,139.32 h-4 M408.50,123.30 h-2.2 M408.50,107.28 h-4 M408.50,91.26 h-2.2 M408.50,75.24 h-4 M408.50,59.22 h-2.2 M408.50,43.20 h-4 M408.50,27.18 h-2.2 M416.31,219.42 v4 M435.82,219.42 v2.2 M455.33,219.42 v4 M474.84,219.42 v2.2 M494.36,219.42 v4 M513.87,219.42 v2.2 M533.38,219.42 v4 M552.89,219.42 v2.2 M572.40,219.42 v4 M591.92,219.42 v2.2 M611.43,219.42 v4 M630.94,219.42 v2.2 M650.45,219.42 v4" fill="none" stroke="#1a1a1a" stroke-width="0.9"/>
<text x="402.40" y="206.30" text-anchor="end" font-size="8.4" fill="#222">0.0</text>
<text x="402.40" y="174.26" text-anchor="end" font-size="8.4" fill="#222">0.2</text>
<text x="402.40" y="142.22" text-anchor="end" font-size="8.4" fill="#222">0.4</text>
<text x="402.40" y="110.18" text-anchor="end" font-size="8.4" fill="#222">0.6</text>
<text x="402.40" y="78.14" text-anchor="end" font-size="8.4" fill="#222">0.8</text>
<text x="402.40" y="46.10" text-anchor="end" font-size="8.4" fill="#222">1.0</text>
<text x="416.31" y="232.52" text-anchor="middle" font-size="8.4" fill="#222">450</text>
<text x="455.33" y="232.52" text-anchor="middle" font-size="8.4" fill="#222">500</text>
<text x="494.36" y="232.52" text-anchor="middle" font-size="8.4" fill="#222">550</text>
<text x="533.38" y="232.52" text-anchor="middle" font-size="8.4" fill="#222">600</text>
<text x="572.40" y="232.52" text-anchor="middle" font-size="8.4" fill="#222">650</text>
<text x="611.43" y="232.52" text-anchor="middle" font-size="8.4" fill="#222">700</text>
<text x="650.45" y="232.52" text-anchor="middle" font-size="8.4" fill="#222">750</text>
<text x="356.9" y="22" font-size="29" font-weight="bold" fill="#000">B</text>
<path d="M565,13.50 H588.5" stroke="#000" stroke-width="1.2"/>
<text x="591.1" y="17.80" font-size="13" fill="#111">Mild Fibrosis</text>
<path d="M565,26.50 H588.5" stroke="#ff6a6a" stroke-width="1"/>
<text x="591.1" y="30.20" font-size="10" fill="#111">NADH</text>
<path d="M565,39.50 H588.5" stroke="#4cff4c" stroke-width="1"/>
<text x="591.1" y="42.80" font-size="10" fill="#111">FAD</text>
<path d="M565,52.50 H588.5" stroke="#6a6aff" stroke-width="1"/>
<text x="591.1" y="55.60" font-size="10" fill="#111">Hemoglobin</text>
<path d="M565,64.50 H588.5" stroke="#6affff" stroke-width="1"/>
<text x="591.1" y="68.00" font-size="10" fill="#111">Lipopigments</text>
<path d="M565,77.50 H588.5" stroke="#ff6aff" stroke-width="1"/>
<text x="591.1" y="80.60" font-size="10" fill="#111">Porphyrin</text>
<path d="M565,89.50 H588.5" stroke="#ffff6a" stroke-width="1"/>
<text x="591.1" y="93.10" font-size="10" fill="#111">Coproporphyrin</text>
<path d="M565,102.50 H588.5" stroke="#9a9a55" stroke-width="1"/>
<text x="591.1" y="105.90" font-size="10" fill="#111">Cumulative Fit Peak</text>
<path d="M52.6,421.5 L53.4,420.6 L54.2,419.7 L54.9,418.8 L55.7,417.9 L56.5,417.0 L57.3,416.1 L58.1,415.2 L58.9,414.3 L59.6,413.5 L60.4,412.6 L61.2,411.8 L62.0,411.0 L62.8,410.2 L63.5,409.5 L64.3,408.8 L65.1,408.1 L65.9,407.4 L66.7,406.8 L67.4,406.2 L68.2,405.7 L69.0,405.2 L69.8,404.8 L70.6,404.4 L71.4,404.1 L72.1,403.8 L72.9,403.5 L73.7,403.4 L74.5,403.2 L75.3,403.2 L76.0,403.2 L76.8,403.2 L77.6,403.3 L78.4,403.5 L79.2,403.7 L80.0,404.0 L80.7,404.3 L81.5,404.7 L82.3,405.1 L83.1,405.6 L83.9,406.1 L84.6,406.7 L85.4,407.3 L86.2,407.9 L87.0,408.6 L87.8,409.3 L88.5,410.1 L89.3,410.9 L90.1,411.6 L90.9,412.5 L91.7,413.3 L92.5,414.2 L93.2,415.0 L94.0,415.9 L94.8,416.8 L95.6,417.7 L96.4,418.6 L97.1,419.5 L97.9,420.4 L98.7,421.3 L99.5,422.2 L100.3,423.1 L101.1,424.0 L101.8,424.9 L102.6,425.8 L103.4,426.7 L104.2,427.6 L105.0,428.4 L105.7,429.3 L106.5,430.1 L107.3,430.9 L108.1,431.7 L108.9,432.5 L109.6,433.3 L110.4,434.1 L111.2,434.8 L112.0,435.6 L112.8,436.3 L113.6,437.0 L114.3,437.7 L115.1,438.4 L115.9,439.1 L116.7,439.8 L117.5,440.4 L118.2,441.0 L119.0,441.6 L119.8,442.2 L120.6,442.8 L121.4,443.4 L122.2,444.0 L122.9,444.5 L123.7,445.1 L124.5,445.6 L125.3,446.1 L126.1,446.6 L126.8,447.1 L127.6,447.6 L128.4,448.0 L129.2,448.5 L130.0,448.9 L130.8,449.4 L131.5,449.8 L132.3,450.2 L133.1,450.6 L133.9,451.0 L134.7,451.4 L135.4,451.8 L136.2,452.1 L137.0,452.5 L137.8,452.8 L138.6,453.2 L139.3,453.5 L140.1,453.8 L140.9,454.1 L141.7,454.5 L142.5,454.8 L143.3,455.1 L144.0,455.3 L144.8,455.6 L145.6,455.9 L146.4,456.2 L147.2,456.4 L147.9,456.7 L148.7,456.9 L149.5,457.2 L150.3,457.4 L151.1,457.7 L151.9,457.9 L152.6,458.1 L153.4,458.3 L154.2,458.6 L155.0,458.8 L155.8,459.0 L156.5,459.2 L157.3,459.4 L158.1,459.6 L158.9,459.7 L159.7,459.9 L160.4,460.1 L161.2,460.3 L162.0,460.5 L162.8,460.6 L163.6,460.8 L164.4,461.0 L165.1,461.1 L165.9,461.3 L166.7,461.4 L167.5,461.6 L168.3,461.7 L169.0,461.9 L169.8,462.0 L170.6,462.1 L171.4,462.3 L172.2,462.4 L173.0,462.5 L173.7,462.7 L174.5,462.8 L175.3,462.9 L176.1,463.0 L176.9,463.1 L177.6,463.3 L178.4,463.4 L179.2,463.5 L180.0,463.6 L180.8,463.7 L181.5,463.8 L182.3,463.9 L183.1,464.0 L183.9,464.1 L184.7,464.2 L185.5,464.3 L186.2,464.4 L187.0,464.5 L187.8,464.6 L188.6,464.7 L189.4,464.7 L190.1,464.8 L190.9,464.9 L191.7,465.0 L192.5,465.1 L193.3,465.2 L194.1,465.2 L194.8,465.3 L195.6,465.4 L196.4,465.5 L197.2,465.5 L198.0,465.6 L198.7,465.7 L199.5,465.8 L200.3,465.8 L201.1,465.9 L201.9,466.0 L202.6,466.0 L203.4,466.1 L204.2,466.1 L205.0,466.2 L205.8,466.3 L206.6,466.3 L207.3,466.4 L208.1,466.4 L208.9,466.5 L209.7,466.6 L210.5,466.6 L211.2,466.7 L212.0,466.7 L212.8,466.8 L213.6,466.8 L214.4,466.9 L215.2,466.9 L215.9,467.0 L216.7,467.0 L217.5,467.1 L218.3,467.1 L219.1,467.2 L219.8,467.2 L220.6,467.3 L221.4,467.3 L222.2,467.4 L223.0,467.4 L223.7,467.4 L224.5,467.5 L225.3,467.5 L226.1,467.6 L226.9,467.6 L227.7,467.6 L228.4,467.7 L229.2,467.7 L230.0,467.8 L230.8,467.8 L231.6,467.8 L232.3,467.9 L233.1,467.9 L233.9,467.9 L234.7,468.0 L235.5,468.0 L236.3,468.0 L237.0,468.1 L237.8,468.1 L238.6,468.1 L239.4,468.2 L240.2,468.2 L240.9,468.2 L241.7,468.3 L242.5,468.3 L243.3,468.3 L244.1,468.4 L244.8,468.4 L245.6,468.4 L246.4,468.5 L247.2,468.5 L248.0,468.5 L248.8,468.5 L249.5,468.6 L250.3,468.6 L251.1,468.6 L251.9,468.6 L252.7,468.7 L253.4,468.7 L254.2,468.7 L255.0,468.7 L255.8,468.8 L256.6,468.8 L257.4,468.8 L258.1,468.8 L258.9,468.9 L259.7,468.9 L260.5,468.9 L261.3,468.9 L262.0,469.0 L262.8,469.0 L263.6,469.0 L264.4,469.0 L265.2,469.0 L265.9,469.1 L266.7,469.1 L267.5,469.1 L268.3,469.1 L269.1,469.2 L269.9,469.2 L270.6,469.2 L271.4,469.2 L272.2,469.2 L273.0,469.3 L273.8,469.3 L274.5,469.3 L275.3,469.3 L276.1,469.3 L276.9,469.3 L277.7,469.4 L278.5,469.4 L279.2,469.4 L280.0,469.4 L280.8,469.4 L281.6,469.4 L282.4,469.5 L283.1,469.5 L283.9,469.5 L284.7,469.5 L285.5,469.5 L286.3,469.5 L287.1,469.6 L287.8,469.6 L288.6,469.6 L289.4,469.6 L290.2,469.6 L291.0,469.6 L291.7,469.7 L292.5,469.7 L293.3,469.7 L294.1,469.7 L294.9,469.7" fill="none" stroke="#ff0000" stroke-width="0.9"/>
<path d="M52.6,443.2 L53.4,442.6 L54.2,442.0 L54.9,441.4 L55.7,440.8 L56.5,440.1 L57.3,439.5 L58.1,438.8 L58.9,438.1 L59.6,437.4 L60.4,436.6 L61.2,435.9 L62.0,435.1 L62.8,434.3 L63.5,433.5 L64.3,432.6 L65.1,431.8 L65.9,430.9 L66.7,429.9 L67.4,429.0 L68.2,428.0 L69.0,427.0 L69.8,426.0 L70.6,425.0 L71.4,423.9 L72.1,422.8 L72.9,421.7 L73.7,420.5 L74.5,419.3 L75.3,418.1 L76.0,416.9 L76.8,415.6 L77.6,414.3 L78.4,412.9 L79.2,411.6 L80.0,410.2 L80.7,408.8 L81.5,407.3 L82.3,405.8 L83.1,404.3 L83.9,402.8 L84.6,401.2 L85.4,399.7 L86.2,398.1 L87.0,396.5 L87.8,394.8 L88.5,393.2 L89.3,391.5 L90.1,389.8 L90.9,388.2 L91.7,386.5 L92.5,384.8 L93.2,383.1 L94.0,381.5 L94.8,379.8 L95.6,378.2 L96.4,376.6 L97.1,375.1 L97.9,373.6 L98.7,372.1 L99.5,370.7 L100.3,369.3 L101.1,368.0 L101.8,366.8 L102.6,365.6 L103.4,364.6 L104.2,363.6 L105.0,362.7 L105.7,361.9 L106.5,361.2 L107.3,360.6 L108.1,360.2 L108.9,359.8 L109.6,359.6 L110.4,359.5 L111.2,359.5 L112.0,359.6 L112.8,359.8 L113.6,360.2 L114.3,360.6 L115.1,361.2 L115.9,361.9 L116.7,362.7 L117.5,363.6 L118.2,364.6 L119.0,365.6 L119.8,366.8 L120.6,368.0 L121.4,369.3 L122.2,370.7 L122.9,372.1 L123.7,373.6 L124.5,375.1 L125.3,376.6 L126.1,378.2 L126.8,379.8 L127.6,381.5 L128.4,383.1 L129.2,384.8 L130.0,386.5 L130.8,388.2 L131.5,389.8 L132.3,391.5 L133.1,393.2 L133.9,394.8 L134.7,396.5 L135.4,398.1 L136.2,399.7 L137.0,401.2 L137.8,402.8 L138.6,404.3 L139.3,405.8 L140.1,407.3 L140.9,408.8 L141.7,410.2 L142.5,411.6 L143.3,412.9 L144.0,414.3 L144.8,415.6 L145.6,416.9 L146.4,418.1 L147.2,419.3 L147.9,420.5 L148.7,421.7 L149.5,422.8 L150.3,423.9 L151.1,425.0 L151.9,426.0 L152.6,427.0 L153.4,428.0 L154.2,429.0 L155.0,429.9 L155.8,430.9 L156.5,431.8 L157.3,432.6 L158.1,433.5 L158.9,434.3 L159.7,435.1 L160.4,435.9 L161.2,436.6 L162.0,437.4 L162.8,438.1 L163.6,438.8 L164.4,439.5 L165.1,440.1 L165.9,440.8 L166.7,441.4 L167.5,442.0 L168.3,442.6 L169.0,443.2 L169.8,443.8 L170.6,444.3 L171.4,444.8 L172.2,445.4 L173.0,445.9 L173.7,446.4 L174.5,446.8 L175.3,447.3 L176.1,447.8 L176.9,448.2 L177.6,448.6 L178.4,449.1 L179.2,449.5 L180.0,449.9 L180.8,450.3 L181.5,450.7 L182.3,451.0 L183.1,451.4 L183.9,451.8 L184.7,452.1 L185.5,452.4 L186.2,452.8 L187.0,453.1 L187.8,453.4 L188.6,453.7 L189.4,454.0 L190.1,454.3 L190.9,454.6 L191.7,454.9 L192.5,455.2 L193.3,455.4 L194.1,455.7 L194.8,455.9 L195.6,456.2 L196.4,456.4 L197.2,456.7 L198.0,456.9 L198.7,457.1 L199.5,457.4 L200.3,457.6 L201.1,457.8 L201.9,458.0 L202.6,458.2 L203.4,458.4 L204.2,458.6 L205.0,458.8 L205.8,459.0 L206.6,459.2 L207.3,459.3 L208.1,459.5 L208.9,459.7 L209.7,459.9 L210.5,460.0 L211.2,460.2 L212.0,460.4 L212.8,460.5 L213.6,460.7 L214.4,460.8 L215.2,461.0 L215.9,461.1 L216.7,461.2 L217.5,461.4 L218.3,461.5 L219.1,461.7 L219.8,461.8 L220.6,461.9 L221.4,462.0 L222.2,462.2 L223.0,462.3 L223.7,462.4 L224.5,462.5 L225.3,462.6 L226.1,462.8 L226.9,462.9 L227.7,463.0 L228.4,463.1 L229.2,463.2 L230.0,463.3 L230.8,463.4 L231.6,463.5 L232.3,463.6 L233.1,463.7 L233.9,463.8 L234.7,463.9 L235.5,464.0 L236.3,464.1 L237.0,464.1 L237.8,464.2 L238.6,464.3 L239.4,464.4 L240.2,464.5 L240.9,464.6 L241.7,464.6 L242.5,464.7 L243.3,464.8 L244.1,464.9 L244.8,465.0 L245.6,465.0 L246.4,465.1 L247.2,465.2 L248.0,465.2 L248.8,465.3 L249.5,465.4 L250.3,465.4 L251.1,465.5 L251.9,465.6 L252.7,465.6 L253.4,465.7 L254.2,465.8 L255.0,465.8 L255.8,465.9 L256.6,465.9 L257.4,466.0 L258.1,466.1 L258.9,466.1 L259.7,466.2 L260.5,466.2 L261.3,466.3 L262.0,466.3 L262.8,466.4 L263.6,466.4 L264.4,466.5 L265.2,466.5 L265.9,466.6 L266.7,466.6 L267.5,466.7 L268.3,466.7 L269.1,466.8 L269.9,466.8 L270.6,466.9 L271.4,466.9 L272.2,467.0 L273.0,467.0 L273.8,467.1 L274.5,467.1 L275.3,467.1 L276.1,467.2 L276.9,467.2 L277.7,467.3 L278.5,467.3 L279.2,467.3 L280.0,467.4 L280.8,467.4 L281.6,467.5 L282.4,467.5 L283.1,467.5 L283.9,467.6 L284.7,467.6 L285.5,467.6 L286.3,467.7 L287.1,467.7 L287.8,467.7 L288.6,467.8 L289.4,467.8 L290.2,467.8 L291.0,467.9 L291.7,467.9 L292.5,467.9 L293.3,468.0 L294.1,468.0 L294.9,468.0" fill="none" stroke="#00ff00" stroke-width="0.9"/>
<path d="M52.6,471.5 L53.4,471.5 L54.2,471.5 L54.9,471.5 L55.7,471.5 L56.5,471.5 L57.3,471.5 L58.1,471.5 L58.9,471.4 L59.6,471.4 L60.4,471.4 L61.2,471.4 L62.0,471.4 L62.8,471.4 L63.5,471.4 L64.3,471.4 L65.1,471.4 L65.9,471.4 L66.7,471.4 L67.4,471.4 L68.2,471.4 L69.0,471.4 L69.8,471.4 L70.6,471.3 L71.4,471.3 L72.1,471.3 L72.9,471.3 L73.7,471.3 L74.5,471.3 L75.3,471.3 L76.0,471.3 L76.8,471.3 L77.6,471.3 L78.4,471.3 L79.2,471.2 L80.0,471.2 L80.7,471.2 L81.5,471.2 L82.3,471.2 L83.1,471.2 L83.9,471.2 L84.6,471.1 L85.4,471.1 L86.2,471.1 L87.0,471.1 L87.8,471.1 L88.5,471.1 L89.3,471.0 L90.1,471.0 L90.9,471.0 L91.7,471.0 L92.5,471.0 L93.2,470.9 L94.0,470.9 L94.8,470.9 L95.6,470.9 L96.4,470.8 L97.1,470.8 L97.9,470.8 L98.7,470.7 L99.5,470.7 L100.3,470.7 L101.1,470.6 L101.8,470.6 L102.6,470.6 L103.4,470.5 L104.2,470.5 L105.0,470.4 L105.7,470.4 L106.5,470.3 L107.3,470.3 L108.1,470.2 L108.9,470.2 L109.6,470.1 L110.4,470.0 L111.2,470.0 L112.0,469.9 L112.8,469.8 L113.6,469.7 L114.3,469.6 L115.1,469.5 L115.9,469.4 L116.7,469.3 L117.5,469.2 L118.2,469.0 L119.0,468.9 L119.8,468.7 L120.6,468.5 L121.4,468.4 L122.2,468.2 L122.9,468.0 L123.7,467.7 L124.5,467.5 L125.3,467.2 L126.1,466.9 L126.8,466.6 L127.6,466.2 L128.4,465.8 L129.2,465.4 L130.0,464.9 L130.8,464.4 L131.5,463.8 L132.3,463.2 L133.1,462.5 L133.9,461.8 L134.7,461.0 L135.4,460.1 L136.2,459.2 L137.0,458.2 L137.8,457.1 L138.6,456.0 L139.3,454.8 L140.1,453.7 L140.9,452.6 L141.7,451.6 L142.5,450.7 L143.3,450.0 L144.0,449.5 L144.8,449.3 L145.6,449.4 L146.4,449.7 L147.2,450.3 L147.9,451.1 L148.7,452.0 L149.5,453.0 L150.3,454.2 L151.1,455.3 L151.9,456.4 L152.6,457.5 L153.4,458.6 L154.2,459.6 L155.0,460.5 L155.8,461.3 L156.5,462.1 L157.3,462.8 L158.1,463.5 L158.9,464.1 L159.7,464.6 L160.4,465.1 L161.2,465.6 L162.0,466.0 L162.8,466.4 L163.6,466.7 L164.4,467.0 L165.1,467.3 L165.9,467.6 L166.7,467.8 L167.5,468.0 L168.3,468.3 L169.0,468.4 L169.8,468.6 L170.6,468.8 L171.4,468.9 L172.2,469.1 L173.0,469.2 L173.7,469.3 L174.5,469.4 L175.3,469.5 L176.1,469.6 L176.9,469.7 L177.6,469.8 L178.4,469.9 L179.2,470.0 L180.0,470.1 L180.8,470.1 L181.5,470.2 L182.3,470.2 L183.1,470.3 L183.9,470.4 L184.7,470.4 L185.5,470.5 L186.2,470.5 L187.0,470.5 L187.8,470.6 L188.6,470.6 L189.4,470.7 L190.1,470.7 L190.9,470.7 L191.7,470.8 L192.5,470.8 L193.3,470.8 L194.1,470.9 L194.8,470.9 L195.6,470.9 L196.4,470.9 L197.2,471.0 L198.0,471.0 L198.7,471.0 L199.5,471.0 L200.3,471.0 L201.1,471.1 L201.9,471.1 L202.6,471.1 L203.4,471.1 L204.2,471.1 L205.0,471.1 L205.8,471.2 L206.6,471.2 L207.3,471.2 L208.1,471.2 L208.9,471.2 L209.7,471.2 L210.5,471.2 L211.2,471.2 L212.0,471.3 L212.8,471.3 L213.6,471.3 L214.4,471.3 L215.2,471.3 L215.9,471.3 L216.7,471.3 L217.5,471.3 L218.3,471.3 L219.1,471.3 L219.8,471.3 L220.6,471.4 L221.4,471.4 L222.2,471.4 L223.0,471.4 L223.7,471.4 L224.5,471.4 L225.3,471.4 L226.1,471.4 L226.9,471.4 L227.7,471.4 L228.4,471.4 L229.2,471.4 L230.0,471.4 L230.8,471.4 L231.6,471.4 L232.3,471.5 L233.1,471.5 L233.9,471.5 L234.7,471.5 L235.5,471.5 L236.3,471.5 L237.0,471.5 L237.8,471.5 L238.6,471.5 L239.4,471.5 L240.2,471.5 L240.9,471.5 L241.7,471.5 L242.5,471.5 L243.3,471.5 L244.1,471.5 L244.8,471.5 L245.6,471.5 L246.4,471.5 L247.2,471.5 L248.0,471.5 L248.8,471.5 L249.5,471.5 L250.3,471.5 L251.1,471.5 L251.9,471.5 L252.7,471.6 L253.4,471.6 L254.2,471.6 L255.0,471.6 L255.8,471.6 L256.6,471.6 L257.4,471.6 L258.1,471.6 L258.9,471.6 L259.7,471.6 L260.5,471.6 L261.3,471.6 L262.0,471.6 L262.8,471.6 L263.6,471.6 L264.4,471.6 L265.2,471.6 L265.9,471.6 L266.7,471.6 L267.5,471.6 L268.3,471.6 L269.1,471.6 L269.9,471.6 L270.6,471.6 L271.4,471.6 L272.2,471.6 L273.0,471.6 L273.8,471.6 L274.5,471.6 L275.3,471.6 L276.1,471.6 L276.9,471.6 L277.7,471.6 L278.5,471.6 L279.2,471.6 L280.0,471.6 L280.8,471.6 L281.6,471.6 L282.4,471.6 L283.1,471.6 L283.9,471.6 L284.7,471.6 L285.5,471.6 L286.3,471.6 L287.1,471.6 L287.8,471.6 L288.6,471.6 L289.4,471.6 L290.2,471.6 L291.0,471.6 L291.7,471.6 L292.5,471.6 L293.3,471.6 L294.1,471.6 L294.9,471.6" fill="none" stroke="#0000ff" stroke-width="0.9"/>
<path d="M52.6,471.5 L53.4,471.5 L54.2,471.5 L54.9,471.5 L55.7,471.5 L56.5,471.5 L57.3,471.5 L58.1,471.5 L58.9,471.5 L59.6,471.5 L60.4,471.5 L61.2,471.5 L62.0,471.5 L62.8,471.5 L63.5,471.5 L64.3,471.5 L65.1,471.5 L65.9,471.5 L66.7,471.5 L67.4,471.5 L68.2,471.4 L69.0,471.4 L69.8,471.4 L70.6,471.4 L71.4,471.4 L72.1,471.4 L72.9,471.4 L73.7,471.4 L74.5,471.4 L75.3,471.4 L76.0,471.4 L76.8,471.4 L77.6,471.4 L78.4,471.4 L79.2,471.4 L80.0,471.4 L80.7,471.4 L81.5,471.4 L82.3,471.3 L83.1,471.3 L83.9,471.3 L84.6,471.3 L85.4,471.3 L86.2,471.3 L87.0,471.3 L87.8,471.3 L88.5,471.3 L89.3,471.3 L90.1,471.3 L90.9,471.3 L91.7,471.2 L92.5,471.2 L93.2,471.2 L94.0,471.2 L94.8,471.2 L95.6,471.2 L96.4,471.2 L97.1,471.2 L97.9,471.2 L98.7,471.1 L99.5,471.1 L100.3,471.1 L101.1,471.1 L101.8,471.1 L102.6,471.1 L103.4,471.1 L104.2,471.0 L105.0,471.0 L105.7,471.0 L106.5,471.0 L107.3,471.0 L108.1,471.0 L108.9,470.9 L109.6,470.9 L110.4,470.9 L111.2,470.9 L112.0,470.9 L112.8,470.8 L113.6,470.8 L114.3,470.8 L115.1,470.8 L115.9,470.7 L116.7,470.7 L117.5,470.7 L118.2,470.6 L119.0,470.6 L119.8,470.6 L120.6,470.5 L121.4,470.5 L122.2,470.5 L122.9,470.4 L123.7,470.4 L124.5,470.3 L125.3,470.3 L126.1,470.2 L126.8,470.2 L127.6,470.1 L128.4,470.1 L129.2,470.0 L130.0,469.9 L130.8,469.9 L131.5,469.8 L132.3,469.7 L133.1,469.6 L133.9,469.5 L134.7,469.4 L135.4,469.3 L136.2,469.2 L137.0,469.1 L137.8,469.0 L138.6,468.9 L139.3,468.8 L140.1,468.6 L140.9,468.5 L141.7,468.3 L142.5,468.1 L143.3,467.9 L144.0,467.7 L144.8,467.5 L145.6,467.3 L146.4,467.0 L147.2,466.7 L147.9,466.4 L148.7,466.1 L149.5,465.7 L150.3,465.3 L151.1,464.9 L151.9,464.4 L152.6,463.9 L153.4,463.3 L154.2,462.7 L155.0,462.0 L155.8,461.3 L156.5,460.5 L157.3,459.6 L158.1,458.6 L158.9,457.5 L159.7,456.3 L160.4,455.0 L161.2,453.6 L162.0,452.1 L162.8,450.6 L163.6,449.0 L164.4,447.3 L165.1,445.7 L165.9,444.1 L166.7,442.7 L167.5,441.5 L168.3,440.6 L169.0,440.0 L169.8,439.9 L170.6,440.1 L171.4,440.7 L172.2,441.7 L173.0,443.0 L173.7,444.4 L174.5,446.0 L175.3,447.6 L176.1,449.3 L176.9,450.9 L177.6,452.5 L178.4,453.9 L179.2,455.3 L180.0,456.5 L180.8,457.7 L181.5,458.8 L182.3,459.8 L183.1,460.6 L183.9,461.4 L184.7,462.2 L185.5,462.8 L186.2,463.5 L187.0,464.0 L187.8,464.5 L188.6,465.0 L189.4,465.4 L190.1,465.8 L190.9,466.1 L191.7,466.5 L192.5,466.8 L193.3,467.1 L194.1,467.3 L194.8,467.5 L195.6,467.8 L196.4,468.0 L197.2,468.2 L198.0,468.3 L198.7,468.5 L199.5,468.6 L200.3,468.8 L201.1,468.9 L201.9,469.0 L202.6,469.2 L203.4,469.3 L204.2,469.4 L205.0,469.5 L205.8,469.6 L206.6,469.6 L207.3,469.7 L208.1,469.8 L208.9,469.9 L209.7,469.9 L210.5,470.0 L211.2,470.1 L212.0,470.1 L212.8,470.2 L213.6,470.2 L214.4,470.3 L215.2,470.3 L215.9,470.4 L216.7,470.4 L217.5,470.5 L218.3,470.5 L219.1,470.5 L219.8,470.6 L220.6,470.6 L221.4,470.6 L222.2,470.7 L223.0,470.7 L223.7,470.7 L224.5,470.8 L225.3,470.8 L226.1,470.8 L226.9,470.8 L227.7,470.9 L228.4,470.9 L229.2,470.9 L230.0,470.9 L230.8,470.9 L231.6,471.0 L232.3,471.0 L233.1,471.0 L233.9,471.0 L234.7,471.0 L235.5,471.1 L236.3,471.1 L237.0,471.1 L237.8,471.1 L238.6,471.1 L239.4,471.1 L240.2,471.1 L240.9,471.2 L241.7,471.2 L242.5,471.2 L243.3,471.2 L244.1,471.2 L244.8,471.2 L245.6,471.2 L246.4,471.2 L247.2,471.2 L248.0,471.3 L248.8,471.3 L249.5,471.3 L250.3,471.3 L251.1,471.3 L251.9,471.3 L252.7,471.3 L253.4,471.3 L254.2,471.3 L255.0,471.3 L255.8,471.3 L256.6,471.3 L257.4,471.3 L258.1,471.4 L258.9,471.4 L259.7,471.4 L260.5,471.4 L261.3,471.4 L262.0,471.4 L262.8,471.4 L263.6,471.4 L264.4,471.4 L265.2,471.4 L265.9,471.4 L266.7,471.4 L267.5,471.4 L268.3,471.4 L269.1,471.4 L269.9,471.4 L270.6,471.4 L271.4,471.4 L272.2,471.5 L273.0,471.5 L273.8,471.5 L274.5,471.5 L275.3,471.5 L276.1,471.5 L276.9,471.5 L277.7,471.5 L278.5,471.5 L279.2,471.5 L280.0,471.5 L280.8,471.5 L281.6,471.5 L282.4,471.5 L283.1,471.5 L283.9,471.5 L284.7,471.5 L285.5,471.5 L286.3,471.5 L287.1,471.5 L287.8,471.5 L288.6,471.5 L289.4,471.5 L290.2,471.5 L291.0,471.5 L291.7,471.5 L292.5,471.5 L293.3,471.5 L294.1,471.5 L294.9,471.5" fill="none" stroke="#00ffff" stroke-width="0.9"/>
<path d="M52.6,471.5 L53.4,471.5 L54.2,471.5 L54.9,471.5 L55.7,471.5 L56.5,471.5 L57.3,471.5 L58.1,471.5 L58.9,471.5 L59.6,471.5 L60.4,471.5 L61.2,471.5 L62.0,471.5 L62.8,471.5 L63.5,471.5 L64.3,471.5 L65.1,471.5 L65.9,471.5 L66.7,471.5 L67.4,471.5 L68.2,471.4 L69.0,471.4 L69.8,471.4 L70.6,471.4 L71.4,471.4 L72.1,471.4 L72.9,471.4 L73.7,471.4 L74.5,471.4 L75.3,471.4 L76.0,471.4 L76.8,471.4 L77.6,471.4 L78.4,471.4 L79.2,471.4 L80.0,471.4 L80.7,471.4 L81.5,471.4 L82.3,471.4 L83.1,471.4 L83.9,471.4 L84.6,471.4 L85.4,471.4 L86.2,471.3 L87.0,471.3 L87.8,471.3 L88.5,471.3 L89.3,471.3 L90.1,471.3 L90.9,471.3 L91.7,471.3 L92.5,471.3 L93.2,471.3 L94.0,471.3 L94.8,471.3 L95.6,471.3 L96.4,471.3 L97.1,471.3 L97.9,471.3 L98.7,471.2 L99.5,471.2 L100.3,471.2 L101.1,471.2 L101.8,471.2 L102.6,471.2 L103.4,471.2 L104.2,471.2 L105.0,471.2 L105.7,471.2 L106.5,471.2 L107.3,471.2 L108.1,471.1 L108.9,471.1 L109.6,471.1 L110.4,471.1 L111.2,471.1 L112.0,471.1 L112.8,471.1 L113.6,471.1 L114.3,471.1 L115.1,471.0 L115.9,471.0 L116.7,471.0 L117.5,471.0 L118.2,471.0 L119.0,471.0 L119.8,471.0 L120.6,470.9 L121.4,470.9 L122.2,470.9 L122.9,470.9 L123.7,470.9 L124.5,470.9 L125.3,470.8 L126.1,470.8 L126.8,470.8 L127.6,470.8 L128.4,470.8 L129.2,470.7 L130.0,470.7 L130.8,470.7 L131.5,470.7 L132.3,470.6 L133.1,470.6 L133.9,470.6 L134.7,470.6 L135.4,470.5 L136.2,470.5 L137.0,470.5 L137.8,470.4 L138.6,470.4 L139.3,470.4 L140.1,470.3 L140.9,470.3 L141.7,470.3 L142.5,470.2 L143.3,470.2 L144.0,470.1 L144.8,470.1 L145.6,470.1 L146.4,470.0 L147.2,470.0 L147.9,469.9 L148.7,469.8 L149.5,469.8 L150.3,469.7 L151.1,469.7 L151.9,469.6 L152.6,469.5 L153.4,469.5 L154.2,469.4 L155.0,469.3 L155.8,469.2 L156.5,469.1 L157.3,469.0 L158.1,468.9 L158.9,468.8 L159.7,468.7 L160.4,468.6 L161.2,468.5 L162.0,468.4 L162.8,468.2 L163.6,468.1 L164.4,468.0 L165.1,467.8 L165.9,467.6 L166.7,467.5 L167.5,467.3 L168.3,467.1 L169.0,466.8 L169.8,466.6 L170.6,466.4 L171.4,466.1 L172.2,465.8 L173.0,465.5 L173.7,465.2 L174.5,464.8 L175.3,464.5 L176.1,464.1 L176.9,463.6 L177.6,463.2 L178.4,462.6 L179.2,462.1 L180.0,461.5 L180.8,460.9 L181.5,460.2 L182.3,459.4 L183.1,458.6 L183.9,457.7 L184.7,456.7 L185.5,455.7 L186.2,454.6 L187.0,453.3 L187.8,452.0 L188.6,450.6 L189.4,449.2 L190.1,447.6 L190.9,446.0 L191.7,444.3 L192.5,442.6 L193.3,440.9 L194.1,439.2 L194.8,437.6 L195.6,436.2 L196.4,435.0 L197.2,434.1 L198.0,433.4 L198.7,433.1 L199.5,433.2 L200.3,433.6 L201.1,434.4 L201.9,435.5 L202.6,436.8 L203.4,438.2 L204.2,439.8 L205.0,441.5 L205.8,443.2 L206.6,445.0 L207.3,446.6 L208.1,448.2 L208.9,449.8 L209.7,451.2 L210.5,452.6 L211.2,453.8 L212.0,455.0 L212.8,456.1 L213.6,457.1 L214.4,458.1 L215.2,458.9 L215.9,459.7 L216.7,460.4 L217.5,461.1 L218.3,461.7 L219.1,462.3 L219.8,462.9 L220.6,463.3 L221.4,463.8 L222.2,464.2 L223.0,464.6 L223.7,465.0 L224.5,465.3 L225.3,465.6 L226.1,465.9 L226.9,466.2 L227.7,466.5 L228.4,466.7 L229.2,466.9 L230.0,467.1 L230.8,467.3 L231.6,467.5 L232.3,467.7 L233.1,467.9 L233.9,468.0 L234.7,468.2 L235.5,468.3 L236.3,468.4 L237.0,468.6 L237.8,468.7 L238.6,468.8 L239.4,468.9 L240.2,469.0 L240.9,469.1 L241.7,469.2 L242.5,469.3 L243.3,469.3 L244.1,469.4 L244.8,469.5 L245.6,469.6 L246.4,469.6 L247.2,469.7 L248.0,469.8 L248.8,469.8 L249.5,469.9 L250.3,469.9 L251.1,470.0 L251.9,470.0 L252.7,470.1 L253.4,470.1 L254.2,470.2 L255.0,470.2 L255.8,470.2 L256.6,470.3 L257.4,470.3 L258.1,470.4 L258.9,470.4 L259.7,470.4 L260.5,470.5 L261.3,470.5 L262.0,470.5 L262.8,470.5 L263.6,470.6 L264.4,470.6 L265.2,470.6 L265.9,470.7 L266.7,470.7 L267.5,470.7 L268.3,470.7 L269.1,470.7 L269.9,470.8 L270.6,470.8 L271.4,470.8 L272.2,470.8 L273.0,470.8 L273.8,470.9 L274.5,470.9 L275.3,470.9 L276.1,470.9 L276.9,470.9 L277.7,470.9 L278.5,471.0 L279.2,471.0 L280.0,471.0 L280.8,471.0 L281.6,471.0 L282.4,471.0 L283.1,471.0 L283.9,471.1 L284.7,471.1 L285.5,471.1 L286.3,471.1 L287.1,471.1 L287.8,471.1 L288.6,471.1 L289.4,471.1 L290.2,471.1 L291.0,471.2 L291.7,471.2 L292.5,471.2 L293.3,471.2 L294.1,471.2 L294.9,471.2" fill="none" stroke="#ff00ff" stroke-width="0.9"/>
<path d="M52.6,471.6 L53.4,471.6 L54.2,471.6 L54.9,471.6 L55.7,471.6 L56.5,471.6 L57.3,471.6 L58.1,471.6 L58.9,471.6 L59.6,471.6 L60.4,471.6 L61.2,471.6 L62.0,471.6 L62.8,471.6 L63.5,471.6 L64.3,471.5 L65.1,471.5 L65.9,471.5 L66.7,471.5 L67.4,471.5 L68.2,471.5 L69.0,471.5 L69.8,471.5 L70.6,471.5 L71.4,471.5 L72.1,471.5 L72.9,471.5 L73.7,471.5 L74.5,471.5 L75.3,471.5 L76.0,471.5 L76.8,471.5 L77.6,471.5 L78.4,471.5 L79.2,471.5 L80.0,471.5 L80.7,471.5 L81.5,471.5 L82.3,471.5 L83.1,471.5 L83.9,471.5 L84.6,471.5 L85.4,471.5 L86.2,471.5 L87.0,471.5 L87.8,471.5 L88.5,471.5 L89.3,471.5 L90.1,471.5 L90.9,471.5 L91.7,471.5 L92.5,471.5 L93.2,471.5 L94.0,471.5 L94.8,471.5 L95.6,471.5 L96.4,471.5 L97.1,471.4 L97.9,471.4 L98.7,471.4 L99.5,471.4 L100.3,471.4 L101.1,471.4 L101.8,471.4 L102.6,471.4 L103.4,471.4 L104.2,471.4 L105.0,471.4 L105.7,471.4 L106.5,471.4 L107.3,471.4 L108.1,471.4 L108.9,471.4 L109.6,471.4 L110.4,471.4 L111.2,471.4 L112.0,471.4 L112.8,471.4 L113.6,471.4 L114.3,471.4 L115.1,471.4 L115.9,471.4 L116.7,471.3 L117.5,471.3 L118.2,471.3 L119.0,471.3 L119.8,471.3 L120.6,471.3 L121.4,471.3 L122.2,471.3 L122.9,471.3 L123.7,471.3 L124.5,471.3 L125.3,471.3 L126.1,471.3 L126.8,471.3 L127.6,471.3 L128.4,471.3 L129.2,471.2 L130.0,471.2 L130.8,471.2 L131.5,471.2 L132.3,471.2 L133.1,471.2 L133.9,471.2 L134.7,471.2 L135.4,471.2 L136.2,471.2 L137.0,471.2 L137.8,471.2 L138.6,471.1 L139.3,471.1 L140.1,471.1 L140.9,471.1 L141.7,471.1 L142.5,471.1 L143.3,471.1 L144.0,471.1 L144.8,471.1 L145.6,471.1 L146.4,471.0 L147.2,471.0 L147.9,471.0 L148.7,471.0 L149.5,471.0 L150.3,471.0 L151.1,471.0 L151.9,471.0 L152.6,470.9 L153.4,470.9 L154.2,470.9 L155.0,470.9 L155.8,470.9 L156.5,470.9 L157.3,470.8 L158.1,470.8 L158.9,470.8 L159.7,470.8 L160.4,470.8 L161.2,470.7 L162.0,470.7 L162.8,470.7 L163.6,470.7 L164.4,470.7 L165.1,470.6 L165.9,470.6 L166.7,470.6 L167.5,470.6 L168.3,470.5 L169.0,470.5 L169.8,470.5 L170.6,470.4 L171.4,470.4 L172.2,470.4 L173.0,470.4 L173.7,470.3 L174.5,470.3 L175.3,470.2 L176.1,470.2 L176.9,470.2 L177.6,470.1 L178.4,470.1 L179.2,470.0 L180.0,470.0 L180.8,470.0 L181.5,469.9 L182.3,469.8 L183.1,469.8 L183.9,469.7 L184.7,469.7 L185.5,469.6 L186.2,469.6 L187.0,469.5 L187.8,469.4 L188.6,469.3 L189.4,469.3 L190.1,469.2 L190.9,469.1 L191.7,469.0 L192.5,468.9 L193.3,468.8 L194.1,468.7 L194.8,468.6 L195.6,468.5 L196.4,468.4 L197.2,468.3 L198.0,468.1 L198.7,468.0 L199.5,467.8 L200.3,467.7 L201.1,467.5 L201.9,467.4 L202.6,467.2 L203.4,467.0 L204.2,466.8 L205.0,466.5 L205.8,466.3 L206.6,466.1 L207.3,465.8 L208.1,465.5 L208.9,465.2 L209.7,464.9 L210.5,464.5 L211.2,464.1 L212.0,463.7 L212.8,463.3 L213.6,462.8 L214.4,462.3 L215.2,461.8 L215.9,461.2 L216.7,460.6 L217.5,459.9 L218.3,459.2 L219.1,458.4 L219.8,457.5 L220.6,456.6 L221.4,455.6 L222.2,454.5 L223.0,453.4 L223.7,452.2 L224.5,450.9 L225.3,449.5 L226.1,448.1 L226.9,446.5 L227.7,445.0 L228.4,443.4 L229.2,441.7 L230.0,440.1 L230.8,438.6 L231.6,437.2 L232.3,435.9 L233.1,434.8 L233.9,434.0 L234.7,433.4 L235.5,433.1 L236.3,433.2 L237.0,433.6 L237.8,434.3 L238.6,435.2 L239.4,436.4 L240.2,437.7 L240.9,439.2 L241.7,440.8 L242.5,442.4 L243.3,444.0 L244.1,445.6 L244.8,447.1 L245.6,448.6 L246.4,450.1 L247.2,451.4 L248.0,452.7 L248.8,453.9 L249.5,455.0 L250.3,456.0 L251.1,457.0 L251.9,457.9 L252.7,458.7 L253.4,459.5 L254.2,460.2 L255.0,460.8 L255.8,461.4 L256.6,462.0 L257.4,462.5 L258.1,463.0 L258.9,463.5 L259.7,463.9 L260.5,464.3 L261.3,464.7 L262.0,465.0 L262.8,465.3 L263.6,465.6 L264.4,465.9 L265.2,466.2 L265.9,466.4 L266.7,466.6 L267.5,466.9 L268.3,467.1 L269.1,467.2 L269.9,467.4 L270.6,467.6 L271.4,467.8 L272.2,467.9 L273.0,468.1 L273.8,468.2 L274.5,468.3 L275.3,468.4 L276.1,468.6 L276.9,468.7 L277.7,468.8 L278.5,468.9 L279.2,469.0 L280.0,469.1 L280.8,469.1 L281.6,469.2 L282.4,469.3 L283.1,469.4 L283.9,469.4 L284.7,469.5 L285.5,469.6 L286.3,469.6 L287.1,469.7 L287.8,469.8 L288.6,469.8 L289.4,469.9 L290.2,469.9 L291.0,470.0 L291.7,470.0 L292.5,470.1 L293.3,470.1 L294.1,470.1 L294.9,470.2" fill="none" stroke="#ffff00" stroke-width="0.9"/>
<path d="M52.6,385.9 L53.4,384.9 L54.2,383.9 L54.9,382.8 L55.7,381.6 L56.5,380.3 L57.3,378.9 L58.1,377.2 L58.9,375.5 L59.6,373.7 L60.4,371.8 L61.2,370.0 L62.0,368.2 L62.8,366.5 L63.5,364.9 L64.3,363.3 L65.1,361.8 L65.9,360.3 L66.7,358.8 L67.4,357.3 L68.2,355.9 L69.0,354.4 L69.8,353.0 L70.6,351.6 L71.4,350.2 L72.1,348.8 L72.9,347.4 L73.7,346.1 L74.5,344.8 L75.3,343.5 L76.0,342.3 L76.8,341.0 L77.6,339.8 L78.4,338.6 L79.2,337.3 L80.0,336.1 L80.7,334.9 L81.5,333.7 L82.3,332.5 L83.1,331.3 L83.9,330.2 L84.6,329.1 L85.4,328.0 L86.2,327.0 L87.0,326.0 L87.8,325.1 L88.5,324.2 L89.3,323.3 L90.1,322.5 L90.9,321.6 L91.7,320.8 L92.5,320.1 L93.2,319.3 L94.0,318.6 L94.8,317.9 L95.6,317.2 L96.4,316.6 L97.1,316.0 L97.9,315.4 L98.7,314.9 L99.5,314.4 L100.3,313.9 L101.1,313.5 L101.8,313.1 L102.6,312.8 L103.4,312.6 L104.2,312.4 L105.0,312.3 L105.7,312.2 L106.5,312.3 L107.3,312.4 L108.1,312.5 L108.9,312.8 L109.6,313.1 L110.4,313.6 L111.2,314.1 L112.0,314.6 L112.8,315.3 L113.6,316.1 L114.3,316.9 L115.1,317.8 L115.9,318.9 L116.7,320.0 L117.5,321.2 L118.2,322.5 L119.0,323.9 L119.8,325.3 L120.6,326.8 L121.4,328.3 L122.2,329.9 L122.9,331.4 L123.7,333.0 L124.5,334.4 L125.3,335.8 L126.1,337.1 L126.8,338.3 L127.6,339.5 L128.4,340.7 L129.2,341.9 L130.0,343.2 L130.8,344.5 L131.5,345.8 L132.3,347.2 L133.1,348.5 L133.9,349.8 L134.7,351.0 L135.4,352.1 L136.2,353.1 L137.0,354.0 L137.8,354.9 L138.6,355.6 L139.3,356.4 L140.1,357.1 L140.9,357.8 L141.7,358.5 L142.5,359.3 L143.3,360.1 L144.0,361.0 L144.8,362.0 L145.6,363.0 L146.4,364.2 L147.2,365.4 L147.9,366.6 L148.7,368.0 L149.5,369.4 L150.3,370.9 L151.1,372.4 L151.9,373.9 L152.6,375.3 L153.4,376.6 L154.2,377.9 L155.0,379.0 L155.8,379.9 L156.5,380.7 L157.3,381.4 L158.1,381.8 L158.9,382.0 L159.7,382.0 L160.4,381.8 L161.2,381.4 L162.0,380.9 L162.8,380.4 L163.6,379.8 L164.4,379.3 L165.1,378.8 L165.9,378.6 L166.7,378.5 L167.5,378.7 L168.3,379.1 L169.0,379.6 L169.8,380.4 L170.6,381.2 L171.4,382.2 L172.2,383.3 L173.0,384.5 L173.7,385.8 L174.5,387.0 L175.3,388.3 L176.1,389.6 L176.9,390.9 L177.6,392.1 L178.4,393.2 L179.2,394.3 L180.0,395.3 L180.8,396.2 L181.5,397.0 L182.3,397.7 L183.1,398.2 L183.9,398.6 L184.7,398.9 L185.5,398.9 L186.2,398.9 L187.0,398.7 L187.8,398.4 L188.6,398.1 L189.4,397.7 L190.1,397.3 L190.9,397.0 L191.7,396.6 L192.5,396.3 L193.3,396.1 L194.1,396.0 L194.8,395.9 L195.6,396.0 L196.4,396.2 L197.2,396.5 L198.0,396.8 L198.7,397.2 L199.5,397.6 L200.3,398.1 L201.1,398.6 L201.9,399.1 L202.6,399.6 L203.4,400.2 L204.2,400.9 L205.0,401.7 L205.8,402.6 L206.6,403.6 L207.3,404.6 L208.1,405.7 L208.9,406.8 L209.7,407.8 L210.5,408.9 L211.2,409.9 L212.0,410.9 L212.8,411.7 L213.6,412.5 L214.4,413.2 L215.2,413.8 L215.9,414.4 L216.7,414.8 L217.5,415.1 L218.3,415.3 L219.1,415.5 L219.8,415.5 L220.6,415.4 L221.4,415.3 L222.2,415.1 L223.0,414.8 L223.7,414.4 L224.5,414.1 L225.3,413.6 L226.1,413.2 L226.9,412.8 L227.7,412.3 L228.4,411.9 L229.2,411.5 L230.0,411.2 L230.8,410.9 L231.6,410.7 L232.3,410.6 L233.1,410.7 L233.9,411.0 L234.7,411.5 L235.5,412.2 L236.3,413.0 L237.0,413.9 L237.8,414.9 L238.6,416.0 L239.4,417.2 L240.2,418.4 L240.9,419.6 L241.7,420.9 L242.5,422.1 L243.3,423.4 L244.1,424.6 L244.8,425.8 L245.6,427.0 L246.4,428.2 L247.2,429.4 L248.0,430.5 L248.8,431.6 L249.5,432.6 L250.3,433.7 L251.1,434.7 L251.9,435.7 L252.7,436.6 L253.4,437.6 L254.2,438.5 L255.0,439.3 L255.8,440.2 L256.6,441.0 L257.4,441.8 L258.1,442.6 L258.9,443.3 L259.7,444.1 L260.5,444.8 L261.3,445.5 L262.0,446.1 L262.8,446.8 L263.6,447.4 L264.4,448.0 L265.2,448.6 L265.9,449.1 L266.7,449.6 L267.5,450.1 L268.3,450.6 L269.1,451.0 L269.9,451.5 L270.6,451.9 L271.4,452.3 L272.2,452.8 L273.0,453.2 L273.8,453.6 L274.5,454.0 L275.3,454.4 L276.1,454.8 L276.9,455.1 L277.7,455.4 L278.5,455.7 L279.2,456.0 L280.0,456.3 L280.8,456.6 L281.6,456.8 L282.4,457.1 L283.1,457.4 L283.9,457.7 L284.7,457.9 L285.5,458.2 L286.3,458.5 L287.1,458.7 L287.8,459.0 L288.6,459.2 L289.4,459.5 L290.2,459.7 L291.0,460.0 L291.7,460.2 L292.5,460.5 L293.3,460.7 L294.1,460.9 L294.9,461.2" fill="none" stroke="#9a9a40" stroke-width="1.25"/>
<path d="M52.6,385.9 L53.4,384.9 L54.2,383.9 L54.9,382.8 L55.7,381.6 L56.5,380.3 L57.3,378.9 L58.1,377.2 L58.9,375.5 L59.6,373.7 L60.4,371.8 L61.2,370.0 L62.0,368.2 L62.8,366.5 L63.5,364.9 L64.3,363.3 L65.1,361.8 L65.9,360.3 L66.7,358.8 L67.4,357.3 L68.2,355.9 L69.0,354.4 L69.8,353.0 L70.6,351.6 L71.4,350.2 L72.1,348.8 L72.9,347.4 L73.7,346.1 L74.5,344.8 L75.3,343.5 L76.0,342.3 L76.8,341.0 L77.6,339.8 L78.4,338.6 L79.2,337.3 L80.0,336.1 L80.7,334.9 L81.5,333.7 L82.3,332.5 L83.1,331.3 L83.9,330.2 L84.6,329.1 L85.4,328.0 L86.2,327.0 L87.0,326.0 L87.8,325.1 L88.5,324.2 L89.3,323.3 L90.1,322.5 L90.9,321.6 L91.7,320.8 L92.5,320.1 L93.2,319.3 L94.0,318.6 L94.8,317.9 L95.6,317.2 L96.4,316.6 L97.1,316.0 L97.9,315.4 L98.7,314.9 L99.5,314.4 L100.3,313.9 L101.1,313.5 L101.8,313.1 L102.6,312.8 L103.4,312.6 L104.2,312.4 L105.0,312.3 L105.7,312.2 L106.5,312.3 L107.3,312.4 L108.1,312.5 L108.9,312.8 L109.6,313.1 L110.4,313.6 L111.2,314.1 L112.0,314.6 L112.8,315.3 L113.6,316.1 L114.3,316.9 L115.1,317.8 L115.9,318.9 L116.7,320.0 L117.5,321.2 L118.2,322.5 L119.0,323.9 L119.8,325.3 L120.6,326.8 L121.4,328.3 L122.2,329.9 L122.9,331.4 L123.7,333.0 L124.5,334.4 L125.3,335.8 L126.1,337.1 L126.8,338.3 L127.6,339.5 L128.4,340.7 L129.2,341.9 L130.0,343.2 L130.8,344.5 L131.5,345.8 L132.3,347.2 L133.1,348.5 L133.9,349.8 L134.7,351.0 L135.4,352.1 L136.2,353.1 L137.0,354.0 L137.8,354.9 L138.6,355.6 L139.3,356.4 L140.1,357.1 L140.9,357.8 L141.7,358.5 L142.5,359.3 L143.3,360.1 L144.0,361.0 L144.8,362.0 L145.6,363.0 L146.4,364.2 L147.2,365.4 L147.9,366.6 L148.7,368.0 L149.5,369.4 L150.3,370.9 L151.1,372.4 L151.9,373.9 L152.6,375.3 L153.4,376.6 L154.2,377.9 L155.0,379.0 L155.8,379.9 L156.5,380.7 L157.3,381.4 L158.1,381.8 L158.9,382.0 L159.7,382.0 L160.4,381.8 L161.2,381.4 L162.0,380.9 L162.8,380.4 L163.6,379.8 L164.4,379.3 L165.1,378.8 L165.9,378.6 L166.7,378.5 L167.5,378.7 L168.3,379.1 L169.0,379.6 L169.8,380.4 L170.6,381.2 L171.4,382.2 L172.2,383.3 L173.0,384.5 L173.7,385.8 L174.5,387.0 L175.3,388.3 L176.1,389.6 L176.9,390.9 L177.6,392.1 L178.4,393.2 L179.2,394.3 L180.0,395.3 L180.8,396.2 L181.5,397.0 L182.3,397.7 L183.1,398.2 L183.9,398.6 L184.7,398.9 L185.5,398.9 L186.2,398.9 L187.0,398.7 L187.8,398.4 L188.6,398.1 L189.4,397.7 L190.1,397.3 L190.9,397.0 L191.7,396.6 L192.5,396.3 L193.3,396.1 L194.1,396.0 L194.8,395.9 L195.6,396.0 L196.4,396.2 L197.2,396.5 L198.0,396.8 L198.7,397.2 L199.5,397.6 L200.3,398.1 L201.1,398.6 L201.9,399.1 L202.6,399.6 L203.4,400.2 L204.2,400.9 L205.0,401.7 L205.8,402.6 L206.6,403.6 L207.3,404.6 L208.1,405.7 L208.9,406.8 L209.7,407.8 L210.5,408.9 L211.2,409.9 L212.0,410.9 L212.8,411.7 L213.6,412.5 L214.4,413.2 L215.2,413.8 L215.9,414.4 L216.7,414.8 L217.5,415.1 L218.3,415.3 L219.1,415.5 L219.8,415.5 L220.6,415.4 L221.4,415.3 L222.2,415.1 L223.0,414.8 L223.7,414.4 L224.5,414.1 L225.3,413.6 L226.1,413.2 L226.9,412.8 L227.7,412.3 L228.4,411.9 L229.2,411.5 L230.0,411.2 L230.8,410.9 L231.6,410.7 L232.3,410.6 L233.1,410.7 L233.9,411.0 L234.7,411.5 L235.5,412.2 L236.3,413.0 L237.0,413.9 L237.8,414.9 L238.6,416.0 L239.4,417.2 L240.2,418.4 L240.9,419.6 L241.7,420.9 L242.5,422.1 L243.3,423.4 L244.1,424.6 L244.8,425.8 L245.6,427.0 L246.4,428.2 L247.2,429.4 L248.0,430.5 L248.8,431.6 L249.5,432.6 L250.3,433.7 L251.1,434.7 L251.9,435.7 L252.7,436.6 L253.4,437.6 L254.2,438.5 L255.0,439.3 L255.8,440.2 L256.6,441.0 L257.4,441.8 L258.1,442.6 L258.9,443.3 L259.7,444.1 L260.5,444.8 L261.3,445.5 L262.0,446.1 L262.8,446.8 L263.6,447.4 L264.4,448.0 L265.2,448.6 L265.9,449.1 L266.7,449.6 L267.5,450.1 L268.3,450.6 L269.1,451.0 L269.9,451.5 L270.6,451.9 L271.4,452.3 L272.2,452.8 L273.0,453.2 L273.8,453.6 L274.5,454.0 L275.3,454.4 L276.1,454.8 L276.9,455.1 L277.7,455.4 L278.5,455.7 L279.2,456.0 L280.0,456.3 L280.8,456.6 L281.6,456.8 L282.4,457.1 L283.1,457.4 L283.9,457.7 L284.7,457.9 L285.5,458.2 L286.3,458.5 L287.1,458.7 L287.8,459.0 L288.6,459.2 L289.4,459.5 L290.2,459.7 L291.0,460.0 L291.7,460.2 L292.5,460.5 L293.3,460.7 L294.1,460.9 L294.9,461.2" fill="none" stroke="#000" stroke-width="0.95"/>
<path d="M52.60,294.88 V487.12 H294.87" fill="none" stroke="#1a1a1a" stroke-width="1"/>
<path d="M52.60,487.12 h-2.2 M52.60,471.10 h-4 M52.60,455.08 h-2.2 M52.60,439.06 h-4 M52.60,423.04 h-2.2 M52.60,407.02 h-4 M52.60,391.00 h-2.2 M52.60,374.98 h-4 M52.60,358.96 h-2.2 M52.60,342.94 h-4 M52.60,326.92 h-2.2 M52.60,310.90 h-4 M52.60,294.88 h-2.2 M60.41,487.12 v4 M79.95,487.12 v2.2 M99.49,487.12 v4 M119.03,487.12 v2.2 M138.56,487.12 v4 M158.10,487.12 v2.2 M177.64,487.12 v4 M197.18,487.12 v2.2 M216.71,487.12 v4 M236.25,487.12 v2.2 M255.79,487.12 v4 M275.33,487.12 v2.2 M294.87,487.12 v4" fill="none" stroke="#1a1a1a" stroke-width="0.9"/>
<text x="46.50" y="474.00" text-anchor="end" font-size="8.4" fill="#222">0.0</text>
<text x="46.50" y="441.96" text-anchor="end" font-size="8.4" fill="#222">0.2</text>
<text x="46.50" y="409.92" text-anchor="end" font-size="8.4" fill="#222">0.4</text>
<text x="46.50" y="377.88" text-anchor="end" font-size="8.4" fill="#222">0.6</text>
<text x="46.50" y="345.84" text-anchor="end" font-size="8.4" fill="#222">0.8</text>
<text x="46.50" y="313.80" text-anchor="end" font-size="8.4" fill="#222">1.0</text>
<text x="60.41" y="500.22" text-anchor="middle" font-size="8.4" fill="#222">450</text>
<text x="99.49" y="500.22" text-anchor="middle" font-size="8.4" fill="#222">500</text>
<text x="138.56" y="500.22" text-anchor="middle" font-size="8.4" fill="#222">550</text>
<text x="177.64" y="500.22" text-anchor="middle" font-size="8.4" fill="#222">600</text>
<text x="216.71" y="500.22" text-anchor="middle" font-size="8.4" fill="#222">650</text>
<text x="255.79" y="500.22" text-anchor="middle" font-size="8.4" fill="#222">700</text>
<text x="294.87" y="500.22" text-anchor="middle" font-size="8.4" fill="#222">750</text>
<text x="0" y="292.6" font-size="29" font-weight="bold" fill="#000">C</text>
<path d="M205.3,281.50 H228.5" stroke="#000" stroke-width="1.2"/>
<text x="231.3" y="285.50" font-size="13" fill="#111">Moderate Fibrosis</text>
<path d="M205.3,295.50 H228.5" stroke="#ff6a6a" stroke-width="1"/>
<text x="231.3" y="298.60" font-size="10" fill="#111">NADH</text>
<path d="M205.3,307.50 H228.5" stroke="#4cff4c" stroke-width="1"/>
<text x="231.3" y="311.10" font-size="10" fill="#111">FAD</text>
<path d="M205.3,320.50 H228.5" stroke="#6a6aff" stroke-width="1"/>
<text x="231.3" y="323.80" font-size="10" fill="#111">Hemoglobin</text>
<path d="M205.3,332.50 H228.5" stroke="#6affff" stroke-width="1"/>
<text x="231.3" y="336.50" font-size="10" fill="#111">Lipopigments</text>
<path d="M205.3,345.50 H228.5" stroke="#ff6aff" stroke-width="1"/>
<text x="231.3" y="349.20" font-size="10" fill="#111">Porphyrin</text>
<path d="M205.3,358.50 H228.5" stroke="#ffff6a" stroke-width="1"/>
<text x="231.3" y="361.90" font-size="10" fill="#111">Coproporphyrin</text>
<path d="M205.3,371.50 H228.5" stroke="#9a9a55" stroke-width="1"/>
<text x="231.3" y="374.60" font-size="10" fill="#111">Cumulative Fit Peak</text>
<path d="M408.5,407.3 L409.3,405.7 L410.1,404.2 L410.8,402.6 L411.6,401.0 L412.4,399.3 L413.2,397.7 L414.0,396.0 L414.7,394.2 L415.5,392.4 L416.3,390.7 L417.1,388.8 L417.9,387.0 L418.6,385.1 L419.4,383.3 L420.2,381.4 L421.0,379.4 L421.8,377.5 L422.5,375.6 L423.3,373.7 L424.1,371.7 L424.9,369.8 L425.7,367.9 L426.5,366.0 L427.2,364.1 L428.0,362.2 L428.8,360.4 L429.6,358.6 L430.4,356.8 L431.1,355.1 L431.9,353.5 L432.7,351.9 L433.5,350.4 L434.3,348.9 L435.0,347.6 L435.8,346.3 L436.6,345.1 L437.4,344.1 L438.2,343.1 L438.9,342.2 L439.7,341.5 L440.5,340.8 L441.3,340.3 L442.1,339.9 L442.8,339.7 L443.6,339.5 L444.4,339.5 L445.2,339.7 L446.0,339.9 L446.7,340.3 L447.5,340.8 L448.3,341.5 L449.1,342.2 L449.9,343.1 L450.6,344.1 L451.4,345.1 L452.2,346.3 L453.0,347.6 L453.8,348.9 L454.5,350.4 L455.3,351.9 L456.1,353.5 L456.9,355.1 L457.7,356.8 L458.5,358.6 L459.2,360.4 L460.0,362.2 L460.8,364.1 L461.6,366.0 L462.4,367.9 L463.1,369.8 L463.9,371.7 L464.7,373.7 L465.5,375.6 L466.3,377.5 L467.0,379.4 L467.8,381.4 L468.6,383.3 L469.4,385.1 L470.2,387.0 L470.9,388.8 L471.7,390.7 L472.5,392.4 L473.3,394.2 L474.1,396.0 L474.8,397.7 L475.6,399.3 L476.4,401.0 L477.2,402.6 L478.0,404.2 L478.7,405.7 L479.5,407.3 L480.3,408.8 L481.1,410.2 L481.9,411.6 L482.6,413.0 L483.4,414.4 L484.2,415.7 L485.0,417.0 L485.8,418.3 L486.6,419.5 L487.3,420.7 L488.1,421.9 L488.9,423.0 L489.7,424.2 L490.5,425.3 L491.2,426.3 L492.0,427.4 L492.8,428.4 L493.6,429.4 L494.4,430.3 L495.1,431.3 L495.9,432.2 L496.7,433.1 L497.5,433.9 L498.3,434.8 L499.0,435.6 L499.8,436.4 L500.6,437.2 L501.4,437.9 L502.2,438.7 L502.9,439.4 L503.7,440.1 L504.5,440.8 L505.3,441.5 L506.1,442.1 L506.8,442.8 L507.6,443.4 L508.4,444.0 L509.2,444.6 L510.0,445.2 L510.7,445.8 L511.5,446.3 L512.3,446.8 L513.1,447.4 L513.9,447.9 L514.6,448.4 L515.4,448.9 L516.2,449.3 L517.0,449.8 L517.8,450.3 L518.6,450.7 L519.3,451.1 L520.1,451.6 L520.9,452.0 L521.7,452.4 L522.5,452.8 L523.2,453.2 L524.0,453.5 L524.8,453.9 L525.6,454.3 L526.4,454.6 L527.1,455.0 L527.9,455.3 L528.7,455.6 L529.5,456.0 L530.3,456.3 L531.0,456.6 L531.8,456.9 L532.6,457.2 L533.4,457.5 L534.2,457.7 L534.9,458.0 L535.7,458.3 L536.5,458.6 L537.3,458.8 L538.1,459.1 L538.8,459.3 L539.6,459.6 L540.4,459.8 L541.2,460.0 L542.0,460.3 L542.7,460.5 L543.5,460.7 L544.3,460.9 L545.1,461.2 L545.9,461.4 L546.6,461.6 L547.4,461.8 L548.2,462.0 L549.0,462.2 L549.8,462.3 L550.6,462.5 L551.3,462.7 L552.1,462.9 L552.9,463.1 L553.7,463.2 L554.5,463.4 L555.2,463.6 L556.0,463.7 L556.8,463.9 L557.6,464.1 L558.4,464.2 L559.1,464.4 L559.9,464.5 L560.7,464.7 L561.5,464.8 L562.3,464.9 L563.0,465.1 L563.8,465.2 L564.6,465.3 L565.4,465.5 L566.2,465.6 L566.9,465.7 L567.7,465.9 L568.5,466.0 L569.3,466.1 L570.1,466.2 L570.8,466.3 L571.6,466.5 L572.4,466.6 L573.2,466.7 L574.0,466.8 L574.7,466.9 L575.5,467.0 L576.3,467.1 L577.1,467.2 L577.9,467.3 L578.6,467.4 L579.4,467.5 L580.2,467.6 L581.0,467.7 L581.8,467.8 L582.6,467.9 L583.3,468.0 L584.1,468.1 L584.9,468.1 L585.7,468.2 L586.5,468.3 L587.2,468.4 L588.0,468.5 L588.8,468.6 L589.6,468.6 L590.4,468.7 L591.1,468.8 L591.9,468.9 L592.7,469.0 L593.5,469.0 L594.3,469.1 L595.0,469.2 L595.8,469.2 L596.6,469.3 L597.4,469.4 L598.2,469.5 L598.9,469.5 L599.7,469.6 L600.5,469.6 L601.3,469.7 L602.1,469.8 L602.8,469.8 L603.6,469.9 L604.4,470.0 L605.2,470.0 L606.0,470.1 L606.7,470.1 L607.5,470.2 L608.3,470.3 L609.1,470.3 L609.9,470.4 L610.6,470.4 L611.4,470.5 L612.2,470.5 L613.0,470.6 L613.8,470.6 L614.6,470.7 L615.3,470.7 L616.1,470.8 L616.9,470.8 L617.7,470.9 L618.5,470.9 L619.2,471.0 L620.0,471.0 L620.8,471.1 L621.6,471.1 L622.4,471.2 L623.1,471.2 L623.9,471.3 L624.7,471.3 L625.5,471.3 L626.3,471.4 L627.0,471.4 L627.8,471.5 L628.6,471.5 L629.4,471.5 L630.2,471.6 L630.9,471.6 L631.7,471.7 L632.5,471.7 L633.3,471.7 L634.1,471.8 L634.8,471.8 L635.6,471.9 L636.4,471.9 L637.2,471.9 L638.0,472.0 L638.7,472.0 L639.5,472.0 L640.3,472.1 L641.1,472.1 L641.9,472.1 L642.6,472.2 L643.4,472.2 L644.2,472.2 L645.0,472.3 L645.8,472.3 L646.6,472.3 L647.3,472.4 L648.1,472.4 L648.9,472.4 L649.7,472.4 L650.5,472.5" fill="none" stroke="#ff0000" stroke-width="0.9"/>
<path d="M408.5,470.0 L409.3,469.8 L410.1,469.6 L410.8,469.4 L411.6,469.1 L412.4,468.9 L413.2,468.7 L414.0,468.4 L414.7,468.2 L415.5,467.9 L416.3,467.7 L417.1,467.4 L417.9,467.2 L418.6,466.9 L419.4,466.6 L420.2,466.3 L421.0,466.0 L421.8,465.8 L422.5,465.5 L423.3,465.2 L424.1,464.9 L424.9,464.5 L425.7,464.2 L426.5,463.9 L427.2,463.6 L428.0,463.3 L428.8,463.0 L429.6,462.6 L430.4,462.3 L431.1,462.0 L431.9,461.6 L432.7,461.3 L433.5,460.9 L434.3,460.5 L435.0,460.2 L435.8,459.8 L436.6,459.4 L437.4,458.9 L438.2,458.5 L438.9,458.1 L439.7,457.6 L440.5,457.1 L441.3,456.6 L442.1,456.1 L442.8,455.6 L443.6,455.1 L444.4,454.5 L445.2,453.8 L446.0,453.1 L446.7,452.4 L447.5,451.6 L448.3,450.8 L449.1,450.0 L449.9,449.1 L450.6,448.2 L451.4,447.3 L452.2,446.3 L453.0,445.3 L453.8,444.2 L454.5,443.0 L455.3,441.7 L456.1,440.3 L456.9,438.9 L457.7,437.5 L458.5,436.1 L459.2,434.8 L460.0,433.5 L460.8,432.3 L461.6,431.3 L462.4,430.4 L463.1,429.5 L463.9,428.5 L464.7,427.6 L465.5,426.7 L466.3,426.0 L467.0,425.3 L467.8,424.8 L468.6,424.5 L469.4,424.5 L470.2,424.7 L470.9,425.1 L471.7,425.7 L472.5,426.5 L473.3,427.4 L474.1,428.3 L474.8,429.4 L475.6,430.5 L476.4,431.5 L477.2,432.6 L478.0,433.6 L478.7,434.8 L479.5,436.2 L480.3,437.6 L481.1,439.1 L481.9,440.7 L482.6,442.3 L483.4,443.8 L484.2,445.3 L485.0,446.8 L485.8,448.1 L486.6,449.3 L487.3,450.4 L488.1,451.4 L488.9,452.4 L489.7,453.4 L490.5,454.3 L491.2,455.2 L492.0,456.0 L492.8,456.8 L493.6,457.6 L494.4,458.3 L495.1,459.0 L495.9,459.6 L496.7,460.3 L497.5,460.9 L498.3,461.5 L499.0,462.1 L499.8,462.6 L500.6,463.2 L501.4,463.6 L502.2,464.1 L502.9,464.5 L503.7,464.8 L504.5,465.1 L505.3,465.4 L506.1,465.6 L506.8,465.9 L507.6,466.1 L508.4,466.3 L509.2,466.5 L510.0,466.7 L510.7,466.9 L511.5,467.1 L512.3,467.3 L513.1,467.5 L513.9,467.6 L514.6,467.8 L515.4,467.9 L516.2,468.1 L517.0,468.3 L517.8,468.4 L518.6,468.6 L519.3,468.7 L520.1,468.9 L520.9,469.1 L521.7,469.2 L522.5,469.4 L523.2,469.6 L524.0,469.7 L524.8,469.9 L525.6,470.1 L526.4,470.2 L527.1,470.4 L527.9,470.5 L528.7,470.6 L529.5,470.8 L530.3,470.9 L531.0,471.0 L531.8,471.2 L532.6,471.3 L533.4,471.4 L534.2,471.5 L534.9,471.6 L535.7,471.6 L536.5,471.7 L537.3,471.8 L538.1,471.9 L538.8,471.9 L539.6,472.0 L540.4,472.1 L541.2,472.1 L542.0,472.2 L542.7,472.3 L543.5,472.3 L544.3,472.4 L545.1,472.5 L545.9,472.5 L546.6,472.6 L547.4,472.6 L548.2,472.7 L549.0,472.8 L549.8,472.8 L550.6,472.9 L551.3,472.9 L552.1,473.0 L552.9,473.0 L553.7,473.1 L554.5,473.1 L555.2,473.2 L556.0,473.2 L556.8,473.2 L557.6,473.3 L558.4,473.3 L559.1,473.4 L559.9,473.4 L560.7,473.5 L561.5,473.5 L562.3,473.5 L563.0,473.6 L563.8,473.6 L564.6,473.6 L565.4,473.7 L566.2,473.7 L566.9,473.8 L567.7,473.8 L568.5,473.8 L569.3,473.9 L570.1,473.9 L570.8,473.9 L571.6,474.0 L572.4,474.0 L573.2,474.0 L574.0,474.0 L574.7,474.1 L575.5,474.1 L576.3,474.1 L577.1,474.2 L577.9,474.2 L578.6,474.2 L579.4,474.3 L580.2,474.3 L581.0,474.3 L581.8,474.3 L582.6,474.4 L583.3,474.4 L584.1,474.4 L584.9,474.4 L585.7,474.5 L586.5,474.5 L587.2,474.5 L588.0,474.5 L588.8,474.6 L589.6,474.6 L590.4,474.6 L591.1,474.6 L591.9,474.7 L592.7,474.7 L593.5,474.7 L594.3,474.7 L595.0,474.7 L595.8,474.8 L596.6,474.8 L597.4,474.8 L598.2,474.8 L598.9,474.8 L599.7,474.9 L600.5,474.9 L601.3,474.9 L602.1,474.9 L602.8,474.9 L603.6,475.0 L604.4,475.0 L605.2,475.0 L606.0,475.0 L606.7,475.0 L607.5,475.0 L608.3,475.0 L609.1,475.1 L609.9,475.1 L610.6,475.1 L611.4,475.1 L612.2,475.1 L613.0,475.1 L613.8,475.1 L614.6,475.2 L615.3,475.2 L616.1,475.2 L616.9,475.2 L617.7,475.2 L618.5,475.2 L619.2,475.2 L620.0,475.2 L620.8,475.3 L621.6,475.3 L622.4,475.3 L623.1,475.3 L623.9,475.3 L624.7,475.3 L625.5,475.3 L626.3,475.3 L627.0,475.4 L627.8,475.4 L628.6,475.4 L629.4,475.4 L630.2,475.4 L630.9,475.4 L631.7,475.4 L632.5,475.4 L633.3,475.4 L634.1,475.4 L634.8,475.5 L635.6,475.5 L636.4,475.5 L637.2,475.5 L638.0,475.5 L638.7,475.5 L639.5,475.5 L640.3,475.5 L641.1,475.5 L641.9,475.5 L642.6,475.5 L643.4,475.5 L644.2,475.5 L645.0,475.6 L645.8,475.6 L646.6,475.6 L647.3,475.6 L648.1,475.6 L648.9,475.6 L649.7,475.6 L650.5,475.6" fill="none" stroke="#00ff00" stroke-width="0.9"/>
<path d="M408.5,476.2 L409.3,476.2 L410.1,476.2 L410.8,476.2 L411.6,476.2 L412.4,476.2 L413.2,476.2 L414.0,476.2 L414.7,476.2 L415.5,476.2 L416.3,476.2 L417.1,476.2 L417.9,476.2 L418.6,476.2 L419.4,476.2 L420.2,476.2 L421.0,476.1 L421.8,476.1 L422.5,476.1 L423.3,476.1 L424.1,476.1 L424.9,476.1 L425.7,476.1 L426.5,476.1 L427.2,476.1 L428.0,476.1 L428.8,476.1 L429.6,476.1 L430.4,476.0 L431.1,476.0 L431.9,476.0 L432.7,476.0 L433.5,476.0 L434.3,476.0 L435.0,476.0 L435.8,476.0 L436.6,476.0 L437.4,475.9 L438.2,475.9 L438.9,475.9 L439.7,475.9 L440.5,475.9 L441.3,475.9 L442.1,475.9 L442.8,475.8 L443.6,475.8 L444.4,475.8 L445.2,475.8 L446.0,475.8 L446.7,475.7 L447.5,475.7 L448.3,475.7 L449.1,475.7 L449.9,475.6 L450.6,475.6 L451.4,475.6 L452.2,475.6 L453.0,475.5 L453.8,475.5 L454.5,475.5 L455.3,475.4 L456.1,475.4 L456.9,475.4 L457.7,475.3 L458.5,475.3 L459.2,475.2 L460.0,475.2 L460.8,475.1 L461.6,475.1 L462.4,475.0 L463.1,475.0 L463.9,474.9 L464.7,474.9 L465.5,474.8 L466.3,474.7 L467.0,474.6 L467.8,474.6 L468.6,474.5 L469.4,474.4 L470.2,474.3 L470.9,474.2 L471.7,474.1 L472.5,474.0 L473.3,473.8 L474.1,473.7 L474.8,473.5 L475.6,473.4 L476.4,473.2 L477.2,473.0 L478.0,472.8 L478.7,472.6 L479.5,472.4 L480.3,472.1 L481.1,471.9 L481.9,471.6 L482.6,471.3 L483.4,470.9 L484.2,470.5 L485.0,470.1 L485.8,469.7 L486.6,469.2 L487.3,468.7 L488.1,468.2 L488.9,467.6 L489.7,466.9 L490.5,466.3 L491.2,465.5 L492.0,464.8 L492.8,464.0 L493.6,463.2 L494.4,462.4 L495.1,461.7 L495.9,461.0 L496.7,460.3 L497.5,459.7 L498.3,459.3 L499.0,459.0 L499.8,458.9 L500.6,458.9 L501.4,459.1 L502.2,459.5 L502.9,460.0 L503.7,460.6 L504.5,461.2 L505.3,462.0 L506.1,462.8 L506.8,463.5 L507.6,464.3 L508.4,465.1 L509.2,465.8 L510.0,466.5 L510.7,467.2 L511.5,467.8 L512.3,468.4 L513.1,468.9 L513.9,469.4 L514.6,469.9 L515.4,470.3 L516.2,470.7 L517.0,471.1 L517.8,471.4 L518.6,471.7 L519.3,472.0 L520.1,472.2 L520.9,472.5 L521.7,472.7 L522.5,472.9 L523.2,473.1 L524.0,473.3 L524.8,473.4 L525.6,473.6 L526.4,473.7 L527.1,473.9 L527.9,474.0 L528.7,474.1 L529.5,474.2 L530.3,474.3 L531.0,474.4 L531.8,474.5 L532.6,474.6 L533.4,474.7 L534.2,474.8 L534.9,474.8 L535.7,474.9 L536.5,474.9 L537.3,475.0 L538.1,475.1 L538.8,475.1 L539.6,475.2 L540.4,475.2 L541.2,475.3 L542.0,475.3 L542.7,475.3 L543.5,475.4 L544.3,475.4 L545.1,475.5 L545.9,475.5 L546.6,475.5 L547.4,475.5 L548.2,475.6 L549.0,475.6 L549.8,475.6 L550.6,475.7 L551.3,475.7 L552.1,475.7 L552.9,475.7 L553.7,475.7 L554.5,475.8 L555.2,475.8 L556.0,475.8 L556.8,475.8 L557.6,475.8 L558.4,475.9 L559.1,475.9 L559.9,475.9 L560.7,475.9 L561.5,475.9 L562.3,475.9 L563.0,475.9 L563.8,476.0 L564.6,476.0 L565.4,476.0 L566.2,476.0 L566.9,476.0 L567.7,476.0 L568.5,476.0 L569.3,476.0 L570.1,476.0 L570.8,476.1 L571.6,476.1 L572.4,476.1 L573.2,476.1 L574.0,476.1 L574.7,476.1 L575.5,476.1 L576.3,476.1 L577.1,476.1 L577.9,476.1 L578.6,476.1 L579.4,476.1 L580.2,476.2 L581.0,476.2 L581.8,476.2 L582.6,476.2 L583.3,476.2 L584.1,476.2 L584.9,476.2 L585.7,476.2 L586.5,476.2 L587.2,476.2 L588.0,476.2 L588.8,476.2 L589.6,476.2 L590.4,476.2 L591.1,476.2 L591.9,476.2 L592.7,476.2 L593.5,476.2 L594.3,476.2 L595.0,476.3 L595.8,476.3 L596.6,476.3 L597.4,476.3 L598.2,476.3 L598.9,476.3 L599.7,476.3 L600.5,476.3 L601.3,476.3 L602.1,476.3 L602.8,476.3 L603.6,476.3 L604.4,476.3 L605.2,476.3 L606.0,476.3 L606.7,476.3 L607.5,476.3 L608.3,476.3 L609.1,476.3 L609.9,476.3 L610.6,476.3 L611.4,476.3 L612.2,476.3 L613.0,476.3 L613.8,476.3 L614.6,476.3 L615.3,476.3 L616.1,476.3 L616.9,476.3 L617.7,476.3 L618.5,476.3 L619.2,476.3 L620.0,476.3 L620.8,476.3 L621.6,476.3 L622.4,476.3 L623.1,476.4 L623.9,476.4 L624.7,476.4 L625.5,476.4 L626.3,476.4 L627.0,476.4 L627.8,476.4 L628.6,476.4 L629.4,476.4 L630.2,476.4 L630.9,476.4 L631.7,476.4 L632.5,476.4 L633.3,476.4 L634.1,476.4 L634.8,476.4 L635.6,476.4 L636.4,476.4 L637.2,476.4 L638.0,476.4 L638.7,476.4 L639.5,476.4 L640.3,476.4 L641.1,476.4 L641.9,476.4 L642.6,476.4 L643.4,476.4 L644.2,476.4 L645.0,476.4 L645.8,476.4 L646.6,476.4 L647.3,476.4 L648.1,476.4 L648.9,476.4 L649.7,476.4 L650.5,476.4" fill="none" stroke="#0000ff" stroke-width="0.9"/>
<path d="M408.5,476.3 L409.3,476.3 L410.1,476.3 L410.8,476.3 L411.6,476.3 L412.4,476.3 L413.2,476.3 L414.0,476.3 L414.7,476.3 L415.5,476.3 L416.3,476.3 L417.1,476.3 L417.9,476.3 L418.6,476.3 L419.4,476.3 L420.2,476.3 L421.0,476.3 L421.8,476.3 L422.5,476.3 L423.3,476.3 L424.1,476.3 L424.9,476.3 L425.7,476.3 L426.5,476.3 L427.2,476.2 L428.0,476.2 L428.8,476.2 L429.6,476.2 L430.4,476.2 L431.1,476.2 L431.9,476.2 L432.7,476.2 L433.5,476.2 L434.3,476.2 L435.0,476.2 L435.8,476.2 L436.6,476.2 L437.4,476.2 L438.2,476.2 L438.9,476.2 L439.7,476.2 L440.5,476.2 L441.3,476.2 L442.1,476.2 L442.8,476.2 L443.6,476.1 L444.4,476.1 L445.2,476.1 L446.0,476.1 L446.7,476.1 L447.5,476.1 L448.3,476.1 L449.1,476.1 L449.9,476.1 L450.6,476.1 L451.4,476.1 L452.2,476.1 L453.0,476.1 L453.8,476.1 L454.5,476.0 L455.3,476.0 L456.1,476.0 L456.9,476.0 L457.7,476.0 L458.5,476.0 L459.2,476.0 L460.0,476.0 L460.8,476.0 L461.6,476.0 L462.4,475.9 L463.1,475.9 L463.9,475.9 L464.7,475.9 L465.5,475.9 L466.3,475.9 L467.0,475.9 L467.8,475.9 L468.6,475.8 L469.4,475.8 L470.2,475.8 L470.9,475.8 L471.7,475.8 L472.5,475.8 L473.3,475.7 L474.1,475.7 L474.8,475.7 L475.6,475.7 L476.4,475.7 L477.2,475.6 L478.0,475.6 L478.7,475.6 L479.5,475.6 L480.3,475.5 L481.1,475.5 L481.9,475.5 L482.6,475.4 L483.4,475.4 L484.2,475.4 L485.0,475.3 L485.8,475.3 L486.6,475.3 L487.3,475.2 L488.1,475.2 L488.9,475.2 L489.7,475.1 L490.5,475.1 L491.2,475.0 L492.0,475.0 L492.8,474.9 L493.6,474.8 L494.4,474.8 L495.1,474.7 L495.9,474.7 L496.7,474.6 L497.5,474.5 L498.3,474.4 L499.0,474.4 L499.8,474.3 L500.6,474.2 L501.4,474.1 L502.2,474.0 L502.9,473.9 L503.7,473.7 L504.5,473.6 L505.3,473.5 L506.1,473.3 L506.8,473.2 L507.6,473.0 L508.4,472.9 L509.2,472.7 L510.0,472.5 L510.7,472.3 L511.5,472.0 L512.3,471.8 L513.1,471.5 L513.9,471.3 L514.6,471.0 L515.4,470.7 L516.2,470.3 L517.0,470.0 L517.8,469.6 L518.6,469.2 L519.3,468.8 L520.1,468.3 L520.9,467.8 L521.7,467.3 L522.5,466.8 L523.2,466.3 L524.0,465.7 L524.8,465.1 L525.6,464.6 L526.4,464.0 L527.1,463.5 L527.9,463.0 L528.7,462.5 L529.5,462.1 L530.3,461.8 L531.0,461.5 L531.8,461.4 L532.6,461.3 L533.4,461.3 L534.2,461.4 L534.9,461.7 L535.7,462.0 L536.5,462.3 L537.3,462.8 L538.1,463.3 L538.8,463.8 L539.6,464.4 L540.4,464.9 L541.2,465.5 L542.0,466.0 L542.7,466.6 L543.5,467.1 L544.3,467.6 L545.1,468.1 L545.9,468.6 L546.6,469.0 L547.4,469.4 L548.2,469.8 L549.0,470.2 L549.8,470.5 L550.6,470.9 L551.3,471.2 L552.1,471.4 L552.9,471.7 L553.7,471.9 L554.5,472.2 L555.2,472.4 L556.0,472.6 L556.8,472.8 L557.6,473.0 L558.4,473.1 L559.1,473.3 L559.9,473.4 L560.7,473.6 L561.5,473.7 L562.3,473.8 L563.0,473.9 L563.8,474.0 L564.6,474.1 L565.4,474.2 L566.2,474.3 L566.9,474.4 L567.7,474.5 L568.5,474.6 L569.3,474.6 L570.1,474.7 L570.8,474.8 L571.6,474.8 L572.4,474.9 L573.2,474.9 L574.0,475.0 L574.7,475.0 L575.5,475.1 L576.3,475.1 L577.1,475.2 L577.9,475.2 L578.6,475.3 L579.4,475.3 L580.2,475.3 L581.0,475.4 L581.8,475.4 L582.6,475.4 L583.3,475.5 L584.1,475.5 L584.9,475.5 L585.7,475.5 L586.5,475.6 L587.2,475.6 L588.0,475.6 L588.8,475.6 L589.6,475.7 L590.4,475.7 L591.1,475.7 L591.9,475.7 L592.7,475.7 L593.5,475.8 L594.3,475.8 L595.0,475.8 L595.8,475.8 L596.6,475.8 L597.4,475.8 L598.2,475.9 L598.9,475.9 L599.7,475.9 L600.5,475.9 L601.3,475.9 L602.1,475.9 L602.8,475.9 L603.6,476.0 L604.4,476.0 L605.2,476.0 L606.0,476.0 L606.7,476.0 L607.5,476.0 L608.3,476.0 L609.1,476.0 L609.9,476.0 L610.6,476.0 L611.4,476.1 L612.2,476.1 L613.0,476.1 L613.8,476.1 L614.6,476.1 L615.3,476.1 L616.1,476.1 L616.9,476.1 L617.7,476.1 L618.5,476.1 L619.2,476.1 L620.0,476.1 L620.8,476.1 L621.6,476.1 L622.4,476.2 L623.1,476.2 L623.9,476.2 L624.7,476.2 L625.5,476.2 L626.3,476.2 L627.0,476.2 L627.8,476.2 L628.6,476.2 L629.4,476.2 L630.2,476.2 L630.9,476.2 L631.7,476.2 L632.5,476.2 L633.3,476.2 L634.1,476.2 L634.8,476.2 L635.6,476.2 L636.4,476.2 L637.2,476.2 L638.0,476.2 L638.7,476.3 L639.5,476.3 L640.3,476.3 L641.1,476.3 L641.9,476.3 L642.6,476.3 L643.4,476.3 L644.2,476.3 L645.0,476.3 L645.8,476.3 L646.6,476.3 L647.3,476.3 L648.1,476.3 L648.9,476.3 L649.7,476.3 L650.5,476.3" fill="none" stroke="#00ffff" stroke-width="0.9"/>
<path d="M408.5,476.5 L409.3,476.5 L410.1,476.5 L410.8,476.5 L411.6,476.5 L412.4,476.5 L413.2,476.5 L414.0,476.5 L414.7,476.5 L415.5,476.5 L416.3,476.5 L417.1,476.5 L417.9,476.5 L418.6,476.5 L419.4,476.5 L420.2,476.5 L421.0,476.5 L421.8,476.5 L422.5,476.5 L423.3,476.5 L424.1,476.5 L424.9,476.5 L425.7,476.5 L426.5,476.5 L427.2,476.5 L428.0,476.5 L428.8,476.5 L429.6,476.5 L430.4,476.5 L431.1,476.5 L431.9,476.5 L432.7,476.5 L433.5,476.5 L434.3,476.5 L435.0,476.5 L435.8,476.5 L436.6,476.4 L437.4,476.4 L438.2,476.4 L438.9,476.4 L439.7,476.4 L440.5,476.4 L441.3,476.4 L442.1,476.4 L442.8,476.4 L443.6,476.4 L444.4,476.4 L445.2,476.4 L446.0,476.4 L446.7,476.4 L447.5,476.4 L448.3,476.4 L449.1,476.4 L449.9,476.4 L450.6,476.4 L451.4,476.4 L452.2,476.4 L453.0,476.4 L453.8,476.4 L454.5,476.4 L455.3,476.4 L456.1,476.4 L456.9,476.4 L457.7,476.4 L458.5,476.4 L459.2,476.4 L460.0,476.4 L460.8,476.4 L461.6,476.4 L462.4,476.4 L463.1,476.4 L463.9,476.4 L464.7,476.4 L465.5,476.4 L466.3,476.4 L467.0,476.4 L467.8,476.4 L468.6,476.4 L469.4,476.4 L470.2,476.4 L470.9,476.4 L471.7,476.4 L472.5,476.4 L473.3,476.4 L474.1,476.4 L474.8,476.4 L475.6,476.4 L476.4,476.4 L477.2,476.4 L478.0,476.4 L478.7,476.4 L479.5,476.4 L480.3,476.4 L481.1,476.4 L481.9,476.4 L482.6,476.4 L483.4,476.4 L484.2,476.4 L485.0,476.4 L485.8,476.4 L486.6,476.4 L487.3,476.4 L488.1,476.4 L488.9,476.4 L489.7,476.3 L490.5,476.3 L491.2,476.3 L492.0,476.3 L492.8,476.3 L493.6,476.3 L494.4,476.3 L495.1,476.3 L495.9,476.3 L496.7,476.3 L497.5,476.3 L498.3,476.3 L499.0,476.3 L499.8,476.3 L500.6,476.3 L501.4,476.3 L502.2,476.3 L502.9,476.3 L503.7,476.3 L504.5,476.3 L505.3,476.2 L506.1,476.2 L506.8,476.2 L507.6,476.2 L508.4,476.2 L509.2,476.2 L510.0,476.2 L510.7,476.2 L511.5,476.2 L512.3,476.2 L513.1,476.2 L513.9,476.1 L514.6,476.1 L515.4,476.1 L516.2,476.1 L517.0,476.1 L517.8,476.1 L518.6,476.1 L519.3,476.0 L520.1,476.0 L520.9,476.0 L521.7,476.0 L522.5,476.0 L523.2,475.9 L524.0,475.9 L524.8,475.9 L525.6,475.9 L526.4,475.8 L527.1,475.8 L527.9,475.8 L528.7,475.7 L529.5,475.7 L530.3,475.7 L531.0,475.6 L531.8,475.6 L532.6,475.5 L533.4,475.5 L534.2,475.4 L534.9,475.3 L535.7,475.2 L536.5,475.2 L537.3,475.1 L538.1,475.0 L538.8,474.9 L539.6,474.7 L540.4,474.6 L541.2,474.5 L542.0,474.3 L542.7,474.1 L543.5,473.9 L544.3,473.7 L545.1,473.4 L545.9,473.1 L546.6,472.8 L547.4,472.4 L548.2,471.9 L549.0,471.4 L549.8,470.8 L550.6,470.1 L551.3,469.3 L552.1,468.5 L552.9,467.5 L553.7,466.3 L554.5,465.1 L555.2,463.9 L556.0,462.6 L556.8,461.5 L557.6,460.6 L558.4,460.0 L559.1,459.8 L559.9,460.2 L560.7,460.9 L561.5,461.9 L562.3,463.1 L563.0,464.4 L563.8,465.6 L564.6,466.8 L565.4,467.9 L566.2,468.8 L566.9,469.7 L567.7,470.4 L568.5,471.1 L569.3,471.6 L570.1,472.1 L570.8,472.5 L571.6,472.9 L572.4,473.2 L573.2,473.5 L574.0,473.8 L574.7,474.0 L575.5,474.2 L576.3,474.4 L577.1,474.5 L577.9,474.7 L578.6,474.8 L579.4,474.9 L580.2,475.0 L581.0,475.1 L581.8,475.2 L582.6,475.3 L583.3,475.3 L584.1,475.4 L584.9,475.5 L585.7,475.5 L586.5,475.6 L587.2,475.6 L588.0,475.7 L588.8,475.7 L589.6,475.8 L590.4,475.8 L591.1,475.8 L591.9,475.8 L592.7,475.9 L593.5,475.9 L594.3,475.9 L595.0,476.0 L595.8,476.0 L596.6,476.0 L597.4,476.0 L598.2,476.0 L598.9,476.1 L599.7,476.1 L600.5,476.1 L601.3,476.1 L602.1,476.1 L602.8,476.1 L603.6,476.1 L604.4,476.2 L605.2,476.2 L606.0,476.2 L606.7,476.2 L607.5,476.2 L608.3,476.2 L609.1,476.2 L609.9,476.2 L610.6,476.2 L611.4,476.2 L612.2,476.2 L613.0,476.3 L613.8,476.3 L614.6,476.3 L615.3,476.3 L616.1,476.3 L616.9,476.3 L617.7,476.3 L618.5,476.3 L619.2,476.3 L620.0,476.3 L620.8,476.3 L621.6,476.3 L622.4,476.3 L623.1,476.3 L623.9,476.3 L624.7,476.3 L625.5,476.3 L626.3,476.3 L627.0,476.3 L627.8,476.3 L628.6,476.3 L629.4,476.4 L630.2,476.4 L630.9,476.4 L631.7,476.4 L632.5,476.4 L633.3,476.4 L634.1,476.4 L634.8,476.4 L635.6,476.4 L636.4,476.4 L637.2,476.4 L638.0,476.4 L638.7,476.4 L639.5,476.4 L640.3,476.4 L641.1,476.4 L641.9,476.4 L642.6,476.4 L643.4,476.4 L644.2,476.4 L645.0,476.4 L645.8,476.4 L646.6,476.4 L647.3,476.4 L648.1,476.4 L648.9,476.4 L649.7,476.4 L650.5,476.4" fill="none" stroke="#ff00ff" stroke-width="0.9"/>
<path d="M408.5,476.4 L409.3,476.4 L410.1,476.4 L410.8,476.4 L411.6,476.4 L412.4,476.4 L413.2,476.4 L414.0,476.4 L414.7,476.4 L415.5,476.4 L416.3,476.4 L417.1,476.4 L417.9,476.4 L418.6,476.4 L419.4,476.4 L420.2,476.4 L421.0,476.4 L421.8,476.4 L422.5,476.4 L423.3,476.4 L424.1,476.4 L424.9,476.4 L425.7,476.4 L426.5,476.4 L427.2,476.4 L428.0,476.4 L428.8,476.4 L429.6,476.4 L430.4,476.4 L431.1,476.4 L431.9,476.4 L432.7,476.4 L433.5,476.4 L434.3,476.4 L435.0,476.4 L435.8,476.4 L436.6,476.4 L437.4,476.4 L438.2,476.4 L438.9,476.4 L439.7,476.4 L440.5,476.4 L441.3,476.4 L442.1,476.4 L442.8,476.4 L443.6,476.4 L444.4,476.4 L445.2,476.4 L446.0,476.4 L446.7,476.4 L447.5,476.4 L448.3,476.4 L449.1,476.4 L449.9,476.4 L450.6,476.4 L451.4,476.4 L452.2,476.4 L453.0,476.4 L453.8,476.4 L454.5,476.4 L455.3,476.4 L456.1,476.4 L456.9,476.4 L457.7,476.4 L458.5,476.4 L459.2,476.4 L460.0,476.4 L460.8,476.4 L461.6,476.4 L462.4,476.4 L463.1,476.4 L463.9,476.4 L464.7,476.4 L465.5,476.4 L466.3,476.4 L467.0,476.4 L467.8,476.3 L468.6,476.3 L469.4,476.3 L470.2,476.3 L470.9,476.3 L471.7,476.3 L472.5,476.3 L473.3,476.3 L474.1,476.3 L474.8,476.3 L475.6,476.3 L476.4,476.3 L477.2,476.3 L478.0,476.3 L478.7,476.3 L479.5,476.3 L480.3,476.3 L481.1,476.3 L481.9,476.3 L482.6,476.3 L483.4,476.3 L484.2,476.3 L485.0,476.3 L485.8,476.3 L486.6,476.3 L487.3,476.3 L488.1,476.3 L488.9,476.3 L489.7,476.3 L490.5,476.3 L491.2,476.3 L492.0,476.3 L492.8,476.3 L493.6,476.3 L494.4,476.3 L495.1,476.3 L495.9,476.3 L496.7,476.3 L497.5,476.3 L498.3,476.2 L499.0,476.2 L499.8,476.2 L500.6,476.2 L501.4,476.2 L502.2,476.2 L502.9,476.2 L503.7,476.2 L504.5,476.2 L505.3,476.2 L506.1,476.2 L506.8,476.2 L507.6,476.2 L508.4,476.2 L509.2,476.2 L510.0,476.2 L510.7,476.2 L511.5,476.2 L512.3,476.2 L513.1,476.2 L513.9,476.1 L514.6,476.1 L515.4,476.1 L516.2,476.1 L517.0,476.1 L517.8,476.1 L518.6,476.1 L519.3,476.1 L520.1,476.1 L520.9,476.1 L521.7,476.1 L522.5,476.1 L523.2,476.1 L524.0,476.1 L524.8,476.0 L525.6,476.0 L526.4,476.0 L527.1,476.0 L527.9,476.0 L528.7,476.0 L529.5,476.0 L530.3,476.0 L531.0,476.0 L531.8,476.0 L532.6,475.9 L533.4,475.9 L534.2,475.9 L534.9,475.9 L535.7,475.9 L536.5,475.9 L537.3,475.9 L538.1,475.8 L538.8,475.8 L539.6,475.8 L540.4,475.8 L541.2,475.8 L542.0,475.8 L542.7,475.7 L543.5,475.7 L544.3,475.7 L545.1,475.7 L545.9,475.7 L546.6,475.6 L547.4,475.6 L548.2,475.6 L549.0,475.6 L549.8,475.5 L550.6,475.5 L551.3,475.5 L552.1,475.4 L552.9,475.4 L553.7,475.4 L554.5,475.3 L555.2,475.3 L556.0,475.3 L556.8,475.2 L557.6,475.2 L558.4,475.1 L559.1,475.1 L559.9,475.1 L560.7,475.0 L561.5,475.0 L562.3,474.9 L563.0,474.9 L563.8,474.8 L564.6,474.7 L565.4,474.7 L566.2,474.6 L566.9,474.5 L567.7,474.5 L568.5,474.4 L569.3,474.3 L570.1,474.2 L570.8,474.1 L571.6,474.0 L572.4,473.9 L573.2,473.8 L574.0,473.7 L574.7,473.6 L575.5,473.5 L576.3,473.4 L577.1,473.3 L577.9,473.1 L578.6,473.0 L579.4,472.8 L580.2,472.7 L581.0,472.5 L581.8,472.4 L582.6,472.2 L583.3,472.1 L584.1,471.9 L584.9,471.7 L585.7,471.5 L586.5,471.4 L587.2,471.2 L588.0,471.0 L588.8,470.8 L589.6,470.7 L590.4,470.5 L591.1,470.4 L591.9,470.2 L592.7,470.1 L593.5,470.0 L594.3,469.9 L595.0,469.9 L595.8,469.8 L596.6,469.8 L597.4,469.8 L598.2,469.8 L598.9,469.8 L599.7,469.9 L600.5,469.9 L601.3,470.0 L602.1,470.1 L602.8,470.3 L603.6,470.4 L604.4,470.6 L605.2,470.7 L606.0,470.9 L606.7,471.0 L607.5,471.2 L608.3,471.4 L609.1,471.6 L609.9,471.7 L610.6,471.9 L611.4,472.1 L612.2,472.3 L613.0,472.4 L613.8,472.6 L614.6,472.7 L615.3,472.9 L616.1,473.0 L616.9,473.1 L617.7,473.3 L618.5,473.4 L619.2,473.5 L620.0,473.6 L620.8,473.8 L621.6,473.9 L622.4,474.0 L623.1,474.1 L623.9,474.1 L624.7,474.2 L625.5,474.3 L626.3,474.4 L627.0,474.5 L627.8,474.5 L628.6,474.6 L629.4,474.7 L630.2,474.7 L630.9,474.8 L631.7,474.9 L632.5,474.9 L633.3,475.0 L634.1,475.0 L634.8,475.1 L635.6,475.1 L636.4,475.2 L637.2,475.2 L638.0,475.2 L638.7,475.3 L639.5,475.3 L640.3,475.4 L641.1,475.4 L641.9,475.4 L642.6,475.4 L643.4,475.5 L644.2,475.5 L645.0,475.5 L645.8,475.6 L646.6,475.6 L647.3,475.6 L648.1,475.6 L648.9,475.7 L649.7,475.7 L650.5,475.7" fill="none" stroke="#ffff00" stroke-width="0.9"/>
<path d="M408.5,398.8 L409.3,398.2 L410.1,397.5 L410.8,396.6 L411.6,395.6 L412.4,394.3 L413.2,392.8 L414.0,390.8 L414.7,388.5 L415.5,385.7 L416.3,382.6 L417.1,379.3 L417.9,376.0 L418.6,372.7 L419.4,369.6 L420.2,366.8 L421.0,364.2 L421.8,361.8 L422.5,359.6 L423.3,357.5 L424.1,355.4 L424.9,353.4 L425.7,351.3 L426.5,349.2 L427.2,347.1 L428.0,345.0 L428.8,342.9 L429.6,340.8 L430.4,338.8 L431.1,337.0 L431.9,335.2 L432.7,333.5 L433.5,331.9 L434.3,330.3 L435.0,328.8 L435.8,327.3 L436.6,325.8 L437.4,324.3 L438.2,322.8 L438.9,321.3 L439.7,319.8 L440.5,318.5 L441.3,317.2 L442.1,316.1 L442.8,315.0 L443.6,314.2 L444.4,313.4 L445.2,312.9 L446.0,312.4 L446.7,312.0 L447.5,311.8 L448.3,311.6 L449.1,311.4 L449.9,311.4 L450.6,311.4 L451.4,311.4 L452.2,311.5 L453.0,311.5 L453.8,311.7 L454.5,311.9 L455.3,312.1 L456.1,312.4 L456.9,312.7 L457.7,313.1 L458.5,313.5 L459.2,314.1 L460.0,314.6 L460.8,315.3 L461.6,316.1 L462.4,316.9 L463.1,317.8 L463.9,318.8 L464.7,320.0 L465.5,321.2 L466.3,322.6 L467.0,324.0 L467.8,325.6 L468.6,327.3 L469.4,329.0 L470.2,330.8 L470.9,332.7 L471.7,334.7 L472.5,336.7 L473.3,338.7 L474.1,340.9 L474.8,343.1 L475.6,345.5 L476.4,347.9 L477.2,350.6 L478.0,353.4 L478.7,356.4 L479.5,359.4 L480.3,362.3 L481.1,365.1 L481.9,367.5 L482.6,369.4 L483.4,370.9 L484.2,372.1 L485.0,373.2 L485.8,374.4 L486.6,375.8 L487.3,377.4 L488.1,379.1 L488.9,381.0 L489.7,382.8 L490.5,384.5 L491.2,386.1 L492.0,387.6 L492.8,389.1 L493.6,390.4 L494.4,391.6 L495.1,392.7 L495.9,393.7 L496.7,394.6 L497.5,395.5 L498.3,396.3 L499.0,397.2 L499.8,398.1 L500.6,399.1 L501.4,400.2 L502.2,401.4 L502.9,402.7 L503.7,404.1 L504.5,405.5 L505.3,407.0 L506.1,408.5 L506.8,410.1 L507.6,411.6 L508.4,413.1 L509.2,414.6 L510.0,416.0 L510.7,417.4 L511.5,418.8 L512.3,420.0 L513.1,421.2 L513.9,422.3 L514.6,423.3 L515.4,424.2 L516.2,425.0 L517.0,425.6 L517.8,426.2 L518.6,426.6 L519.3,426.9 L520.1,427.2 L520.9,427.3 L521.7,427.5 L522.5,427.6 L523.2,427.7 L524.0,427.8 L524.8,428.0 L525.6,428.1 L526.4,428.3 L527.1,428.6 L527.9,428.9 L528.7,429.2 L529.5,429.7 L530.3,430.1 L531.0,430.7 L531.8,431.2 L532.6,431.8 L533.4,432.5 L534.2,433.1 L534.9,433.8 L535.7,434.4 L536.5,435.1 L537.3,435.7 L538.1,436.3 L538.8,436.8 L539.6,437.4 L540.4,437.9 L541.2,438.4 L542.0,438.8 L542.7,439.2 L543.5,439.5 L544.3,439.8 L545.1,440.1 L545.9,440.3 L546.6,440.4 L547.4,440.5 L548.2,440.6 L549.0,440.7 L549.8,440.7 L550.6,440.6 L551.3,440.5 L552.1,440.4 L552.9,440.2 L553.7,439.9 L554.5,439.5 L555.2,439.1 L556.0,438.6 L556.8,438.1 L557.6,437.8 L558.4,437.6 L559.1,437.8 L559.9,438.3 L560.7,439.1 L561.5,440.2 L562.3,441.4 L563.0,442.8 L563.8,444.2 L564.6,445.6 L565.4,446.9 L566.2,448.2 L566.9,449.5 L567.7,450.7 L568.5,451.8 L569.3,452.9 L570.1,453.8 L570.8,454.6 L571.6,455.3 L572.4,455.8 L573.2,456.2 L574.0,456.6 L574.7,456.8 L575.5,457.0 L576.3,457.2 L577.1,457.3 L577.9,457.3 L578.6,457.3 L579.4,457.4 L580.2,457.4 L581.0,457.4 L581.8,457.4 L582.6,457.3 L583.3,457.3 L584.1,457.3 L584.9,457.3 L585.7,457.3 L586.5,457.3 L587.2,457.3 L588.0,457.3 L588.8,457.4 L589.6,457.4 L590.4,457.5 L591.1,457.6 L591.9,457.7 L592.7,457.8 L593.5,458.0 L594.3,458.1 L595.0,458.3 L595.8,458.5 L596.6,458.7 L597.4,458.9 L598.2,459.2 L598.9,459.4 L599.7,459.6 L600.5,459.9 L601.3,460.1 L602.1,460.3 L602.8,460.6 L603.6,460.8 L604.4,461.0 L605.2,461.2 L606.0,461.4 L606.7,461.6 L607.5,461.8 L608.3,462.0 L609.1,462.1 L609.9,462.3 L610.6,462.5 L611.4,462.7 L612.2,462.8 L613.0,463.0 L613.8,463.2 L614.6,463.4 L615.3,463.6 L616.1,463.8 L616.9,464.1 L617.7,464.3 L618.5,464.6 L619.2,464.8 L620.0,465.1 L620.8,465.4 L621.6,465.7 L622.4,466.0 L623.1,466.2 L623.9,466.5 L624.7,466.8 L625.5,467.1 L626.3,467.4 L627.0,467.6 L627.8,467.9 L628.6,468.1 L629.4,468.3 L630.2,468.5 L630.9,468.7 L631.7,468.9 L632.5,469.0 L633.3,469.2 L634.1,469.3 L634.8,469.4 L635.6,469.5 L636.4,469.6 L637.2,469.6 L638.0,469.7 L638.7,469.7 L639.5,469.8 L640.3,469.8 L641.1,469.8 L641.9,469.8 L642.6,469.9 L643.4,469.9 L644.2,469.8 L645.0,469.8 L645.8,469.8 L646.6,469.8 L647.3,469.8 L648.1,469.7 L648.9,469.7 L649.7,469.7 L650.5,469.7" fill="none" stroke="#9a9a40" stroke-width="1.25"/>
<path d="M408.5,375.6 L410.7,399.7 L411.5,397.7 L412.3,395.8 L413.1,393.6 L413.9,391.3 L414.7,388.7 L415.5,385.7 L416.3,382.4 L417.1,379.1 L417.9,375.7 L418.7,372.4 L419.5,369.3 L420.3,366.5 L421.1,363.9 L421.9,361.5 L422.7,359.2 L423.5,357.0 L424.3,354.9 L425.1,352.8 L425.9,350.6 L426.7,348.4 L427.5,346.3 L428.3,344.1 L429.1,342.0 L429.9,339.9 L430.7,337.9 L431.5,336.0 L432.3,334.3 L433.1,332.6 L433.9,330.9 L434.7,329.3 L435.5,327.8 L436.3,326.2 L437.1,324.7 L438.0,323.2 L438.8,321.6 L439.6,320.1 L440.4,318.7 L441.2,317.4 L442.0,316.2 L442.8,315.1 L443.6,314.2 L444.4,313.5 L445.2,312.9 L446.0,312.4 L446.8,312.0 L447.6,311.7 L448.4,311.6 L449.2,311.4 L450.0,311.4 L450.8,311.4 L451.6,311.4 L452.4,311.5 L453.2,311.6 L454.0,311.7 L454.8,311.9 L455.6,312.2 L456.4,312.5 L457.2,312.8 L458.0,313.3 L458.8,313.8 L459.6,314.3 L460.4,315.0 L461.2,315.7 L462.0,316.5 L462.8,317.4 L463.6,318.4 L464.4,319.5 L465.2,320.8 L466.0,322.1 L466.8,323.6 L467.6,325.2 L468.4,326.9 L469.2,328.7 L470.0,330.5 L470.8,332.5 L471.6,334.5 L472.4,336.5 L473.2,338.6 L474.0,340.8 L474.8,343.1 L475.6,345.5 L476.4,348.1 L477.2,350.8 L478.0,353.7 L478.8,356.8 L479.6,359.9 L480.5,362.9 L481.3,365.6 L482.1,368.0 L482.9,369.9 L483.7,371.3 L484.5,372.5 L485.3,373.6 L486.1,374.9 L486.9,376.4 L487.7,378.1 L488.5,380.0 L489.3,381.8 L490.1,383.7 L490.9,385.4 L491.7,387.0 L492.5,388.5 L493.3,389.9 L494.1,391.2 L494.9,392.3 L495.7,393.4 L496.5,394.3 L497.3,395.3 L498.1,396.1 L498.9,397.0 L499.7,398.0 L500.5,399.0 L501.3,400.1 L502.1,401.3 L502.9,402.7 L503.7,404.1 L504.5,405.6 L505.3,407.1 L506.1,408.6 L506.9,410.2 L507.7,411.8 L508.5,413.3 L509.3,414.8 L510.1,416.3 L510.9,417.7 L511.7,419.1 L512.5,420.4 L513.3,421.6 L514.1,422.7 L514.9,423.6 L515.7,424.5 L516.5,425.3 L517.3,425.9 L518.1,426.4 L518.9,426.8 L519.7,427.0 L520.5,427.3 L521.3,427.4 L522.2,427.5 L523.0,427.6 L523.8,427.8 L524.6,427.9 L525.4,428.1 L526.2,428.3 L527.0,428.5 L527.8,428.8 L528.6,429.2 L529.4,429.6 L530.2,430.1 L531.0,430.6 L531.8,431.2 L532.6,431.8 L533.4,432.5 L534.2,433.1 L535.0,433.8 L535.8,434.5 L536.6,435.1 L537.4,435.8 L538.2,436.4 L539.0,437.0 L539.8,437.5 L540.6,438.0 L541.4,438.5 L542.2,438.9 L543.0,439.3 L543.8,439.7 L544.6,439.9 L545.4,440.2 L546.2,440.4 L547.0,440.5 L547.8,440.6 L548.6,440.6 L549.4,440.7 L550.2,440.6 L551.0,440.6 L551.8,440.4 L552.6,440.3 L553.4,440.0 L554.2,439.6 L555.0,439.2 L555.8,438.7 L556.6,438.2 L557.4,437.8 L558.2,437.7 L559.0,437.8 L559.8,438.2 L560.6,439.0 L561.4,440.1 L562.2,441.4 L563.0,442.8 L563.8,444.2 L564.7,445.6 L565.5,447.0 L566.3,448.4 L567.1,449.7 L567.9,450.9 L568.7,452.1 L569.5,453.1 L570.3,454.0 L571.1,454.8 L571.9,455.4 L572.7,456.0 L573.5,456.4 L574.3,456.7 L575.1,456.9 L575.9,457.1 L576.7,457.2 L577.5,457.3 L578.3,457.3 L579.1,457.3 L579.9,457.4 L580.7,457.4 L581.5,457.4 L582.3,457.3 L583.1,457.3 L583.9,457.3 L584.7,457.3 L585.5,457.3 L586.3,457.3 L587.1,457.3 L587.9,457.3 L588.7,457.4 L589.5,457.4 L590.3,457.5 L591.1,457.6 L591.9,457.7 L592.7,457.8 L593.5,458.0 L594.3,458.1 L595.1,458.3 L595.9,458.5 L596.7,458.8 L597.5,459.0 L598.3,459.2 L599.1,459.5 L599.9,459.7 L600.7,459.9 L601.5,460.2 L602.3,460.4 L603.1,460.7 L603.9,460.9 L604.7,461.1 L605.5,461.3 L606.4,461.5 L607.2,461.7 L608.0,461.9 L608.8,462.1 L609.6,462.2 L610.4,462.4 L611.2,462.6 L612.0,462.8 L612.8,463.0 L613.6,463.1 L614.4,463.3 L615.2,463.6 L616.0,463.8 L616.8,464.0 L617.6,464.3 L618.4,464.5 L619.2,464.8 L620.0,465.1 L620.8,465.4 L621.6,465.7 L622.4,466.0 L623.2,466.3 L624.0,466.6 L624.8,466.8 L625.6,467.1 L626.4,467.4 L627.2,467.7 L628.0,467.9 L628.8,468.2 L629.6,468.4 L630.4,468.6 L631.2,468.8 L632.0,468.9 L632.8,469.1 L633.6,469.2 L634.4,469.3 L635.2,469.4 L636.0,469.5 L636.8,469.6 L637.6,469.7 L638.4,469.7 L639.2,469.8 L640.0,469.8 L640.8,469.8 L641.6,469.8 L642.4,469.9 L643.2,469.9 L644.0,469.8 L644.8,469.8 L645.6,469.8 L646.4,469.8 L647.2,469.8 L648.0,469.7 L648.9,469.7 L649.7,469.7 L650.5,469.7" fill="none" stroke="#000" stroke-width="0.95"/>
<path d="M408.50,294.88 V487.12 H650.45" fill="none" stroke="#1a1a1a" stroke-width="1"/>
<path d="M408.50,487.12 h-2.2 M408.50,471.10 h-4 M408.50,455.08 h-2.2 M408.50,439.06 h-4 M408.50,423.04 h-2.2 M408.50,407.02 h-4 M408.50,391.00 h-2.2 M408.50,374.98 h-4 M408.50,358.96 h-2.2 M408.50,342.94 h-4 M408.50,326.92 h-2.2 M408.50,310.90 h-4 M408.50,294.88 h-2.2 M416.31,487.12 v4 M435.82,487.12 v2.2 M455.33,487.12 v4 M474.84,487.12 v2.2 M494.36,487.12 v4 M513.87,487.12 v2.2 M533.38,487.12 v4 M552.89,487.12 v2.2 M572.40,487.12 v4 M591.92,487.12 v2.2 M611.43,487.12 v4 M630.94,487.12 v2.2 M650.45,487.12 v4" fill="none" stroke="#1a1a1a" stroke-width="0.9"/>
<text x="402.40" y="474.00" text-anchor="end" font-size="8.4" fill="#222">0.0</text>
<text x="402.40" y="441.96" text-anchor="end" font-size="8.4" fill="#222">0.2</text>
<text x="402.40" y="409.92" text-anchor="end" font-size="8.4" fill="#222">0.4</text>
<text x="402.40" y="377.88" text-anchor="end" font-size="8.4" fill="#222">0.6</text>
<text x="402.40" y="345.84" text-anchor="end" font-size="8.4" fill="#222">0.8</text>
<text x="402.40" y="313.80" text-anchor="end" font-size="8.4" fill="#222">1.0</text>
<text x="416.31" y="500.22" text-anchor="middle" font-size="8.4" fill="#222">450</text>
<text x="455.33" y="500.22" text-anchor="middle" font-size="8.4" fill="#222">500</text>
<text x="494.36" y="500.22" text-anchor="middle" font-size="8.4" fill="#222">550</text>
<text x="533.38" y="500.22" text-anchor="middle" font-size="8.4" fill="#222">600</text>
<text x="572.40" y="500.22" text-anchor="middle" font-size="8.4" fill="#222">650</text>
<text x="611.43" y="500.22" text-anchor="middle" font-size="8.4" fill="#222">700</text>
<text x="650.45" y="500.22" text-anchor="middle" font-size="8.4" fill="#222">750</text>
<text x="350.7" y="292.7" font-size="29" font-weight="bold" fill="#000">D</text>
<path d="M566,280.50 H589.3" stroke="#000" stroke-width="1.2"/>
<text x="591.9" y="284.80" font-size="13" fill="#111">Reversal</text>
<path d="M566,294.50 H589.3" stroke="#ff6a6a" stroke-width="1"/>
<text x="591.9" y="297.80" font-size="10" fill="#111">NADH</text>
<path d="M566,306.50 H589.3" stroke="#4cff4c" stroke-width="1"/>
<text x="591.9" y="310.50" font-size="10" fill="#111">FAD</text>
<path d="M566,319.50 H589.3" stroke="#6a6aff" stroke-width="1"/>
<text x="591.9" y="322.80" font-size="10" fill="#111">Hemoglobin</text>
<path d="M566,331.50 H589.3" stroke="#6affff" stroke-width="1"/>
<text x="591.9" y="335.50" font-size="10" fill="#111">Lipopigments</text>
<path d="M566,344.50 H589.3" stroke="#ff6aff" stroke-width="1"/>
<text x="591.9" y="348.20" font-size="10" fill="#111">Porphyrin</text>
<path d="M566,357.50 H589.3" stroke="#ffff6a" stroke-width="1"/>
<text x="591.9" y="360.90" font-size="10" fill="#111">Coproporphyrin</text>
<path d="M566,370.50 H589.3" stroke="#9a9a55" stroke-width="1"/>
<text x="591.9" y="373.60" font-size="10" fill="#111">Cumulative Fit Peak</text>
<text x="174.2" y="251" text-anchor="middle" font-size="13" fill="#111">Wavelength(nm)</text>
<text x="529.8" y="251" text-anchor="middle" font-size="13" fill="#111">Wavelength(nm)</text>
<text x="174.2" y="518.8" text-anchor="middle" font-size="13" fill="#111">Wavelength(nm)</text>
<text x="529.8" y="518.8" text-anchor="middle" font-size="13" fill="#111">Wavelength(nm)</text>
<text transform="translate(18.6,131.4) rotate(-90)" text-anchor="middle" font-size="13" fill="#111">Normalised Intensity</text>
<text transform="translate(375.5,131.6) rotate(-90)" text-anchor="middle" font-size="13" fill="#111">Normalised Intensity</text>
<text transform="translate(18.1,399.5) rotate(-90)" text-anchor="middle" font-size="13" fill="#111">Normalised Intensity</text>
<text transform="translate(375.3,399.7) rotate(-90)" text-anchor="middle" font-size="13" fill="#111">Normalised Intensity</text>
<rect x="225.10" y="664.10" width="10.6" height="97.20" fill="#800080" stroke="#2a2a2a" stroke-width="0.6"/>
<rect x="225.10" y="659.00" width="10.6" height="1.80" fill="#800080" stroke="#2a2a2a" stroke-width="0.6"/>
<path d="M230.40,659.00 V633.84" stroke="#808080" stroke-width="1.1" fill="none"/>
<path d="M228.20,633.84 h4.4" stroke="#505050" stroke-width="1" fill="none"/>
<rect x="235.70" y="664.10" width="10.6" height="97.20" fill="#ff0000" stroke="#2a2a2a" stroke-width="0.6"/>
<rect x="235.70" y="639.62" width="10.6" height="21.18" fill="#ff0000" stroke="#2a2a2a" stroke-width="0.6"/>
<path d="M241.00,639.62 V614.92" stroke="#808080" stroke-width="1.1" fill="none"/>
<path d="M238.80,614.92 h4.4" stroke="#505050" stroke-width="1" fill="none"/>
<rect x="246.30" y="664.10" width="10.6" height="97.20" fill="#00ff00" stroke="#2a2a2a" stroke-width="0.6"/>
<rect x="246.30" y="629.83" width="10.6" height="30.97" fill="#00ff00" stroke="#2a2a2a" stroke-width="0.6"/>
<path d="M251.60,629.83 V601.03" stroke="#808080" stroke-width="1.1" fill="none"/>
<path d="M249.40,601.03 h4.4" stroke="#505050" stroke-width="1" fill="none"/>
<rect x="256.90" y="664.10" width="10.6" height="97.20" fill="#ff8000" stroke="#2a2a2a" stroke-width="0.6"/>
<rect x="256.90" y="633.84" width="10.6" height="26.96" fill="#ff8000" stroke="#2a2a2a" stroke-width="0.6"/>
<path d="M262.20,633.84 V599.63" stroke="#808080" stroke-width="1.1" fill="none"/>
<path d="M260.00,599.63 h4.4" stroke="#505050" stroke-width="1" fill="none"/>
<rect x="278.15" y="664.10" width="10.6" height="97.20" fill="#800080" stroke="#2a2a2a" stroke-width="0.6"/>
<rect x="278.15" y="599.08" width="10.6" height="61.72" fill="#800080" stroke="#2a2a2a" stroke-width="0.6"/>
<path d="M283.45,599.08 V568.60" stroke="#808080" stroke-width="1.1" fill="none"/>
<path d="M281.25,568.60 h4.4" stroke="#505050" stroke-width="1" fill="none"/>
<rect x="288.75" y="664.10" width="10.6" height="97.20" fill="#ff0000" stroke="#2a2a2a" stroke-width="0.6"/>
<rect x="288.75" y="617.53" width="10.6" height="43.27" fill="#ff0000" stroke="#2a2a2a" stroke-width="0.6"/>
<path d="M294.05,617.53 V595.72" stroke="#808080" stroke-width="1.1" fill="none"/>
<path d="M291.85,595.72 h4.4" stroke="#505050" stroke-width="1" fill="none"/>
<rect x="299.35" y="664.10" width="10.6" height="97.20" fill="#00ff00" stroke="#2a2a2a" stroke-width="0.6"/>
<rect x="299.35" y="627.97" width="10.6" height="32.83" fill="#00ff00" stroke="#2a2a2a" stroke-width="0.6"/>
<path d="M304.65,627.97 V615.39" stroke="#808080" stroke-width="1.1" fill="none"/>
<path d="M302.45,615.39 h4.4" stroke="#505050" stroke-width="1" fill="none"/>
<rect x="309.95" y="664.10" width="10.6" height="97.20" fill="#ff8000" stroke="#2a2a2a" stroke-width="0.6"/>
<rect x="309.95" y="617.99" width="10.6" height="42.81" fill="#ff8000" stroke="#2a2a2a" stroke-width="0.6"/>
<path d="M315.25,617.99 V588.26" stroke="#808080" stroke-width="1.1" fill="none"/>
<path d="M313.05,588.26 h4.4" stroke="#505050" stroke-width="1" fill="none"/>
<rect x="331.20" y="746.11" width="10.6" height="15.19" fill="#800080" stroke="#2a2a2a" stroke-width="0.6"/>
<path d="M336.50,746.11 V735.36" stroke="#808080" stroke-width="1.1" fill="none"/>
<path d="M334.30,735.36 h4.4" stroke="#505050" stroke-width="1" fill="none"/>
<rect x="341.80" y="737.99" width="10.6" height="23.31" fill="#ff0000" stroke="#2a2a2a" stroke-width="0.6"/>
<path d="M347.10,737.99 V729.49" stroke="#808080" stroke-width="1.1" fill="none"/>
<path d="M344.90,729.49 h4.4" stroke="#505050" stroke-width="1" fill="none"/>
<rect x="352.40" y="722.20" width="10.6" height="39.10" fill="#00ff00" stroke="#2a2a2a" stroke-width="0.6"/>
<path d="M357.70,722.20 V707.53" stroke="#808080" stroke-width="1.1" fill="none"/>
<path d="M355.50,707.53 h4.4" stroke="#505050" stroke-width="1" fill="none"/>
<rect x="363.00" y="741.37" width="10.6" height="19.93" fill="#ff8000" stroke="#2a2a2a" stroke-width="0.6"/>
<path d="M368.30,741.37 V728.21" stroke="#808080" stroke-width="1.1" fill="none"/>
<path d="M366.10,728.21 h4.4" stroke="#505050" stroke-width="1" fill="none"/>
<rect x="384.25" y="744.19" width="10.6" height="17.11" fill="#800080" stroke="#2a2a2a" stroke-width="0.6"/>
<path d="M389.55,744.19 V735.21" stroke="#808080" stroke-width="1.1" fill="none"/>
<path d="M387.35,735.21 h4.4" stroke="#505050" stroke-width="1" fill="none"/>
<rect x="394.85" y="734.98" width="10.6" height="26.32" fill="#ff0000" stroke="#2a2a2a" stroke-width="0.6"/>
<path d="M400.15,734.98 V723.32" stroke="#808080" stroke-width="1.1" fill="none"/>
<path d="M397.95,723.32 h4.4" stroke="#505050" stroke-width="1" fill="none"/>
<rect x="405.45" y="697.76" width="10.6" height="63.54" fill="#00ff00" stroke="#2a2a2a" stroke-width="0.6"/>
<path d="M410.75,697.76 V666.17" stroke="#808080" stroke-width="1.1" fill="none"/>
<path d="M408.55,666.17 h4.4" stroke="#505050" stroke-width="1" fill="none"/>
<rect x="416.05" y="747.76" width="10.6" height="13.54" fill="#ff8000" stroke="#2a2a2a" stroke-width="0.6"/>
<path d="M421.35,747.76 V744.76" stroke="#808080" stroke-width="1.1" fill="none"/>
<path d="M419.15,744.76 h4.4" stroke="#505050" stroke-width="1" fill="none"/>
<rect x="437.30" y="759.98" width="10.6" height="1.32" fill="#800080" stroke="#2a2a2a" stroke-width="0.6"/>
<path d="M442.60,759.98 V750.40" stroke="#808080" stroke-width="1.1" fill="none"/>
<path d="M440.40,750.40 h4.4" stroke="#505050" stroke-width="1" fill="none"/>
<rect x="447.90" y="744.19" width="10.6" height="17.11" fill="#ff0000" stroke="#2a2a2a" stroke-width="0.6"/>
<path d="M453.20,744.19 V721.07" stroke="#808080" stroke-width="1.1" fill="none"/>
<path d="M451.00,721.07 h4.4" stroke="#505050" stroke-width="1" fill="none"/>
<rect x="458.50" y="709.04" width="10.6" height="52.26" fill="#00ff00" stroke="#2a2a2a" stroke-width="0.6"/>
<path d="M463.80,709.04 V680.08" stroke="#808080" stroke-width="1.1" fill="none"/>
<path d="M461.60,680.08 h4.4" stroke="#505050" stroke-width="1" fill="none"/>
<rect x="469.10" y="753.40" width="10.6" height="7.90" fill="#ff8000" stroke="#2a2a2a" stroke-width="0.6"/>
<path d="M474.40,753.40 V741.37" stroke="#808080" stroke-width="1.1" fill="none"/>
<path d="M472.20,741.37 h4.4" stroke="#505050" stroke-width="1" fill="none"/>
<path d="M219.5,563.10 V660.0 M219.5,664.6 V761.30 H485.6 v2.4" fill="none" stroke="#1a1a1a" stroke-width="1"/>
<path d="M219.5,656.30 h-4 M219.5,646.98 h-2.2 M219.5,637.66 h-4 M219.5,628.34 h-2.2 M219.5,619.02 h-4 M219.5,609.70 h-2.2 M219.5,600.38 h-4 M219.5,591.06 h-2.2 M219.5,581.74 h-4 M219.5,572.42 h-2.2 M219.5,563.10 h-4 M219.5,761.30 h-4 M219.5,723.70 h-2.2 M219.5,686.10 h-4 M246.30,761.30 v4.2 M272.80,761.30 v2.4 M299.35,761.30 v4.2 M325.85,761.30 v2.4 M352.40,761.30 v4.2 M378.90,761.30 v2.4 M405.45,761.30 v4.2 M431.95,761.30 v2.4 M458.50,761.30 v4.2 M485.00,761.30 v2.4 M219.80,761.30 v2.4" fill="none" stroke="#1a1a1a" stroke-width="0.9"/>
<rect x="221" y="660.8" width="262" height="3.3" fill="#fff"/>
<path d="M215.2,662.3 L224.3,659.1 M215.2,665.9 L224.3,663.0" stroke="#1a1a1a" stroke-width="0.9"/>
<text x="213.2" y="659.00" text-anchor="end" font-size="7.6" fill="#222">40</text>
<text x="213.2" y="640.36" text-anchor="end" font-size="7.6" fill="#222">60</text>
<text x="213.2" y="621.72" text-anchor="end" font-size="7.6" fill="#222">80</text>
<text x="213.2" y="603.08" text-anchor="end" font-size="7.6" fill="#222">100</text>
<text x="213.2" y="584.44" text-anchor="end" font-size="7.6" fill="#222">120</text>
<text x="213.2" y="565.80" text-anchor="end" font-size="7.6" fill="#222">140</text>
<text x="213.2" y="764.00" text-anchor="end" font-size="7.6" fill="#222">0</text>
<text x="213.2" y="688.80" text-anchor="end" font-size="7.6" fill="#222">20</text>
<text x="246.30" y="773.6" text-anchor="middle" font-size="7.5" font-weight="bold" fill="#111">NADH</text>
<text x="299.35" y="773.6" text-anchor="middle" font-size="7.5" font-weight="bold" fill="#111">FAD</text>
<text x="352.40" y="773.6" text-anchor="middle" font-size="7.5" font-weight="bold" fill="#111">Lipopigments</text>
<text x="405.45" y="773.6" text-anchor="middle" font-size="7.5" font-weight="bold" fill="#111">Porphyrin</text>
<text x="458.50" y="773.6" text-anchor="middle" font-size="7.5" font-weight="bold" fill="#111">Coproporphyrin</text>
<polygon points="234.90,633.30 235.52,634.95 237.28,635.03 235.90,636.12 236.37,637.82 234.90,636.85 233.43,637.82 233.90,636.12 232.52,635.03 234.28,634.95" fill="#111"/>
<polygon points="288.70,592.40 289.32,594.05 291.08,594.13 289.70,595.22 290.17,596.92 288.70,595.95 287.23,596.92 287.70,595.22 286.32,594.13 288.08,594.05" fill="#111"/>
<polygon points="342.10,730.40 342.72,732.05 344.48,732.13 343.10,733.22 343.57,734.92 342.10,733.95 340.63,734.92 341.10,733.22 339.72,732.13 341.48,732.05" fill="#111"/>
<polygon points="351.80,716.10 352.42,717.75 354.18,717.83 352.80,718.92 353.27,720.62 351.80,719.65 350.33,720.62 350.80,718.92 349.42,717.83 351.18,717.75" fill="#111"/>
<polygon points="363.70,716.10 364.32,717.75 366.08,717.83 364.70,718.92 365.17,720.62 363.70,719.65 362.23,720.62 362.70,718.92 361.32,717.83 363.08,717.75" fill="#111"/>
<polygon points="394.20,728.10 394.82,729.75 396.58,729.83 395.20,730.92 395.67,732.62 394.20,731.65 392.73,732.62 393.20,730.92 391.82,729.83 393.58,729.75" fill="#111"/>
<polygon points="404.40,691.60 405.02,693.25 406.78,693.33 405.40,694.42 405.87,696.12 404.40,695.15 402.93,696.12 403.40,694.42 402.02,693.33 403.78,693.25" fill="#111"/>
<polygon points="416.70,691.60 417.32,693.25 419.08,693.33 417.70,694.42 418.17,696.12 416.70,695.15 415.23,696.12 415.70,694.42 414.32,693.33 416.08,693.25" fill="#111"/>
<polygon points="447.20,737.80 447.82,739.45 449.58,739.53 448.20,740.62 448.67,742.32 447.20,741.35 445.73,742.32 446.20,740.62 444.82,739.53 446.58,739.45" fill="#111"/>
<polygon points="457.20,703.10 457.82,704.75 459.58,704.83 458.20,705.92 458.67,707.62 457.20,706.65 455.73,707.62 456.20,705.92 454.82,704.83 456.58,704.75" fill="#111"/>
<polygon points="470.50,703.10 471.12,704.75 472.88,704.83 471.50,705.92 471.97,707.62 470.50,706.65 469.03,707.62 469.50,705.92 468.12,704.83 469.88,704.75" fill="#111"/>
<text transform="translate(194,669.9) rotate(-90)" text-anchor="middle" font-size="12" fill="#111">AUC - Flurophores (a.u.)</text>
<text x="169.9" y="556" font-size="29" font-weight="bold" fill="#000">E</text>
<rect x="401.8" y="550.90" width="22.6" height="10.8" fill="#800080" stroke="#2a2a2a" stroke-width="0.7"/>
<text x="427.7" y="560.20" font-size="12" fill="#111">Control</text>
<rect x="401.8" y="565.70" width="22.6" height="10.8" fill="#ff0000" stroke="#2a2a2a" stroke-width="0.7"/>
<text x="427.7" y="575.00" font-size="12" fill="#111">Mild Fibrosis</text>
<rect x="401.8" y="580.50" width="22.6" height="10.8" fill="#00ff00" stroke="#2a2a2a" stroke-width="0.7"/>
<text x="427.7" y="589.80" font-size="12" fill="#111">Moderate Fibrosis</text>
<rect x="401.8" y="595.30" width="22.6" height="10.8" fill="#ff8000" stroke="#2a2a2a" stroke-width="0.7"/>
<text x="427.7" y="604.60" font-size="12" fill="#111">Reversal</text>
</svg>
</body></html>
